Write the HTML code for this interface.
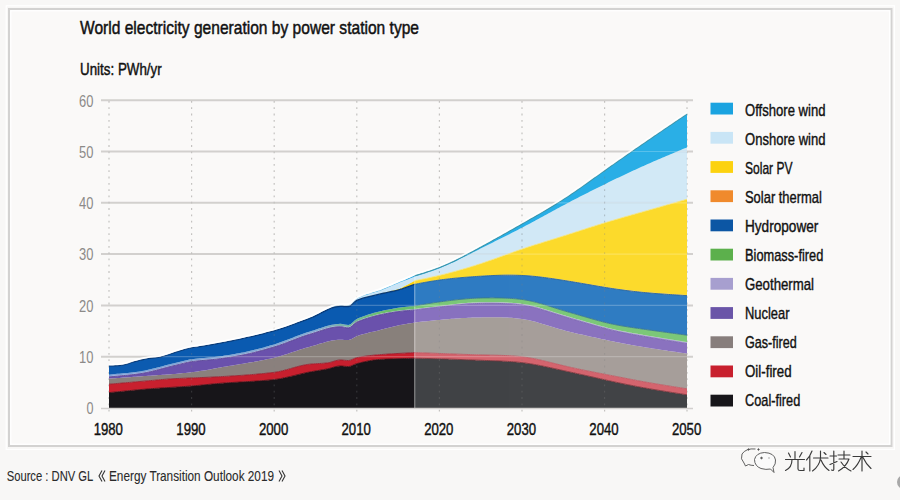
<!DOCTYPE html>
<html><head><meta charset="utf-8">
<style>
html,body{margin:0;padding:0;background:#f8f7f6;width:900px;height:500px;overflow:hidden}
svg{display:block}
text{font-family:"Liberation Sans",sans-serif}
</style></head>
<body>
<svg width="900" height="500" viewBox="0 0 900 500">
<rect x="0" y="0" width="900" height="500" fill="#f8f7f6"/>
<rect x="6.2" y="5.8" width="888.3" height="443.6" fill="none" stroke="#ffffff" stroke-width="1.2"/>
<rect x="9" y="9" width="882.5" height="437" fill="#faf9f8" stroke="#d3d2d1" stroke-width="2"/>
<rect x="10.8" y="10.8" width="878.9" height="433.4" fill="none" stroke="#ffffff" stroke-width="1.2"/>
<text x="80" y="34.3" font-size="19" fill="#111" stroke="#111" stroke-width="0.5" textLength="339" lengthAdjust="spacingAndGlyphs">World electricity generation by power station type</text>
<text x="80" y="74.6" font-size="16.5" fill="#111" stroke="#111" stroke-width="0.45" textLength="81.7" lengthAdjust="spacingAndGlyphs">Units: PWh/yr</text>
<!-- gridlines -->
<g stroke="#d2d0ce" stroke-width="2">
<line x1="101" y1="100.2" x2="693" y2="100.2"/>
<line x1="101" y1="151.5" x2="693" y2="151.5"/>
<line x1="101" y1="202.8" x2="693" y2="202.8"/>
<line x1="101" y1="254.1" x2="693" y2="254.1"/>
<line x1="101" y1="305.4" x2="693" y2="305.4"/>
<line x1="101" y1="356.7" x2="693" y2="356.7"/>
</g>
<g stroke="#c4c2c0" stroke-width="1.2" stroke-dasharray="1.8 4.5">
<line x1="109" y1="101" x2="109" y2="412"/>
<line x1="191.6" y1="101" x2="191.6" y2="412"/>
<line x1="274.2" y1="101" x2="274.2" y2="412"/>
<line x1="356.8" y1="101" x2="356.8" y2="412"/>
<line x1="439.4" y1="101" x2="439.4" y2="412"/>
<line x1="522" y1="101" x2="522" y2="412"/>
<line x1="604.6" y1="101" x2="604.6" y2="412"/>
<line x1="687" y1="101" x2="687" y2="412"/>
</g>
<defs>
<linearGradient id="bioG" x1="109" y1="0" x2="687" y2="0" gradientUnits="userSpaceOnUse">
<stop offset="0" stop-color="#7ea2d8"/><stop offset="0.36" stop-color="#86acd4"/><stop offset="0.47" stop-color="#6cc070"/><stop offset="1" stop-color="#5cb04c"/>
</linearGradient>
<clipPath id="cl"><path d="M109.00,365.93 L111.06,365.88 L113.13,365.82 L115.19,365.76 L117.26,365.67 L119.32,365.48 L121.39,365.18 L123.45,364.80 L125.51,364.37 L127.58,363.83 L129.64,363.14 L131.71,362.43 L133.77,361.80 L135.84,361.26 L137.90,360.72 L139.96,360.21 L142.03,359.71 L144.09,359.26 L146.16,358.84 L148.22,358.48 L150.29,358.19 L152.35,357.97 L154.41,357.81 L156.48,357.64 L158.54,357.41 L160.61,357.00 L162.67,356.42 L164.74,355.76 L166.80,355.09 L168.86,354.41 L170.93,353.68 L172.99,352.94 L175.06,352.26 L177.12,351.61 L179.19,350.96 L181.25,350.32 L183.31,349.70 L185.38,349.11 L187.44,348.57 L189.51,348.09 L191.57,347.67 L193.64,347.34 L195.70,347.06 L197.76,346.79 L199.83,346.48 L201.89,346.14 L203.96,345.80 L206.02,345.45 L208.09,345.09 L210.15,344.73 L212.21,344.37 L214.28,344.00 L216.34,343.62 L218.41,343.24 L220.47,342.85 L222.54,342.46 L224.60,342.06 L226.66,341.66 L228.73,341.25 L230.79,340.84 L232.86,340.42 L234.92,339.99 L236.99,339.55 L239.05,339.12 L241.11,338.67 L243.18,338.22 L245.24,337.76 L247.31,337.29 L249.37,336.82 L251.44,336.34 L253.50,335.85 L255.56,335.36 L257.63,334.86 L259.69,334.35 L261.76,333.84 L263.82,333.31 L265.89,332.78 L267.95,332.25 L270.01,331.70 L272.08,331.15 L274.14,330.59 L276.21,330.00 L278.27,329.37 L280.34,328.72 L282.40,328.05 L284.46,327.35 L286.53,326.63 L288.59,325.89 L290.66,325.14 L292.72,324.37 L294.79,323.60 L296.85,322.81 L298.91,322.02 L300.98,321.23 L303.04,320.43 L305.11,319.64 L307.17,318.85 L309.24,318.06 L311.30,317.25 L313.36,316.33 L315.43,315.34 L317.49,314.27 L319.56,313.18 L321.62,312.07 L323.69,310.98 L325.75,309.92 L327.81,308.93 L329.88,308.02 L331.94,307.22 L334.01,306.55 L336.07,306.03 L338.14,305.69 L340.20,305.55 L342.26,305.48 L344.33,305.45 L346.39,305.42 L348.46,305.35 L350.52,304.42 L352.59,302.44 L354.65,300.23 L356.71,298.63 L358.78,297.60 L360.84,296.67 L362.91,295.82 L364.97,295.04 L367.04,294.32 L369.10,293.64 L371.16,292.99 L373.23,292.35 L375.29,291.71 L377.36,291.07 L379.42,290.40 L381.49,289.72 L383.55,288.83 L385.61,287.96 L387.68,287.11 L389.74,286.26 L391.81,285.40 L393.87,284.52 L395.94,283.62 L398.00,282.69 L400.06,281.76 L402.13,280.99 L404.19,280.15 L406.26,279.27 L408.32,278.36 L410.39,277.44 L412.45,276.53 L414.51,275.65 L416.58,275.01 L418.64,274.39 L420.71,273.77 L422.77,273.13 L424.84,272.46 L426.90,271.76 L428.96,271.08 L431.03,270.38 L433.09,269.65 L435.16,268.91 L437.22,268.14 L439.29,267.35 L441.35,266.53 L443.41,265.68 L445.48,264.80 L447.54,263.89 L449.61,262.96 L451.67,262.00 L453.74,261.02 L455.80,260.02 L457.86,258.99 L459.93,257.94 L461.99,256.88 L464.06,255.81 L466.12,254.72 L468.19,253.62 L470.25,252.52 L472.31,251.40 L474.38,250.29 L476.44,249.17 L478.51,248.04 L480.57,246.92 L482.64,245.79 L484.70,244.66 L486.76,243.52 L488.83,242.39 L490.89,241.25 L492.96,240.11 L495.02,238.96 L497.09,237.81 L499.15,236.66 L501.21,235.51 L503.28,234.35 L505.34,233.19 L507.41,232.03 L509.47,230.86 L511.54,229.70 L513.60,228.53 L515.66,227.36 L517.73,226.19 L519.79,225.02 L521.86,223.84 L523.92,222.67 L525.99,221.49 L528.05,220.32 L530.11,219.14 L532.18,217.96 L534.24,216.78 L536.31,215.59 L538.37,214.40 L540.44,213.20 L542.50,212.00 L544.56,210.79 L546.63,209.57 L548.69,208.34 L550.76,207.10 L552.82,205.85 L554.89,204.59 L556.95,203.31 L559.01,202.01 L561.08,200.70 L563.14,199.38 L565.21,198.03 L567.27,196.68 L569.34,195.30 L571.40,193.91 L573.46,192.51 L575.53,191.09 L577.59,189.66 L579.66,188.22 L581.72,186.76 L583.79,185.30 L585.85,183.84 L587.91,182.37 L589.98,180.89 L592.04,179.41 L594.11,177.94 L596.17,176.46 L598.24,174.98 L600.30,173.51 L602.36,172.04 L604.43,170.57 L606.49,169.11 L608.56,167.65 L610.62,166.19 L612.69,164.74 L614.75,163.29 L616.81,161.84 L618.88,160.39 L620.94,158.95 L623.01,157.51 L625.07,156.07 L627.14,154.63 L629.20,153.20 L631.26,151.77 L633.33,150.34 L635.39,148.91 L637.46,147.48 L639.52,146.06 L641.59,144.64 L643.65,143.22 L645.71,141.80 L647.78,140.39 L649.84,138.97 L651.91,137.56 L653.97,136.15 L656.04,134.75 L658.10,133.34 L660.16,131.94 L662.23,130.54 L664.29,129.14 L666.36,127.74 L668.42,126.35 L670.49,124.95 L672.55,123.55 L674.61,122.16 L676.68,120.77 L678.74,119.37 L680.81,117.98 L682.87,116.58 L684.94,115.19 L687.00,113.79 L687.00,408.00 L684.94,408.00 L682.87,408.00 L680.81,408.00 L678.74,408.00 L676.68,408.00 L674.61,408.00 L672.55,408.00 L670.49,408.00 L668.42,408.00 L666.36,408.00 L664.29,408.00 L662.23,408.00 L660.16,408.00 L658.10,408.00 L656.04,408.00 L653.97,408.00 L651.91,408.00 L649.84,408.00 L647.78,408.00 L645.71,408.00 L643.65,408.00 L641.59,408.00 L639.52,408.00 L637.46,408.00 L635.39,408.00 L633.33,408.00 L631.26,408.00 L629.20,408.00 L627.14,408.00 L625.07,408.00 L623.01,408.00 L620.94,408.00 L618.88,408.00 L616.81,408.00 L614.75,408.00 L612.69,408.00 L610.62,408.00 L608.56,408.00 L606.49,408.00 L604.43,408.00 L602.36,408.00 L600.30,408.00 L598.24,408.00 L596.17,408.00 L594.11,408.00 L592.04,408.00 L589.98,408.00 L587.91,408.00 L585.85,408.00 L583.79,408.00 L581.72,408.00 L579.66,408.00 L577.59,408.00 L575.53,408.00 L573.46,408.00 L571.40,408.00 L569.34,408.00 L567.27,408.00 L565.21,408.00 L563.14,408.00 L561.08,408.00 L559.01,408.00 L556.95,408.00 L554.89,408.00 L552.82,408.00 L550.76,408.00 L548.69,408.00 L546.63,408.00 L544.56,408.00 L542.50,408.00 L540.44,408.00 L538.37,408.00 L536.31,408.00 L534.24,408.00 L532.18,408.00 L530.11,408.00 L528.05,408.00 L525.99,408.00 L523.92,408.00 L521.86,408.00 L519.79,408.00 L517.73,408.00 L515.66,408.00 L513.60,408.00 L511.54,408.00 L509.47,408.00 L507.41,408.00 L505.34,408.00 L503.28,408.00 L501.21,408.00 L499.15,408.00 L497.09,408.00 L495.02,408.00 L492.96,408.00 L490.89,408.00 L488.83,408.00 L486.76,408.00 L484.70,408.00 L482.64,408.00 L480.57,408.00 L478.51,408.00 L476.44,408.00 L474.38,408.00 L472.31,408.00 L470.25,408.00 L468.19,408.00 L466.12,408.00 L464.06,408.00 L461.99,408.00 L459.93,408.00 L457.86,408.00 L455.80,408.00 L453.74,408.00 L451.67,408.00 L449.61,408.00 L447.54,408.00 L445.48,408.00 L443.41,408.00 L441.35,408.00 L439.29,408.00 L437.22,408.00 L435.16,408.00 L433.09,408.00 L431.03,408.00 L428.96,408.00 L426.90,408.00 L424.84,408.00 L422.77,408.00 L420.71,408.00 L418.64,408.00 L416.58,408.00 L414.51,408.00 L412.45,408.00 L410.39,408.00 L408.32,408.00 L406.26,408.00 L404.19,408.00 L402.13,408.00 L400.06,408.00 L398.00,408.00 L395.94,408.00 L393.87,408.00 L391.81,408.00 L389.74,408.00 L387.68,408.00 L385.61,408.00 L383.55,408.00 L381.49,408.00 L379.42,408.00 L377.36,408.00 L375.29,408.00 L373.23,408.00 L371.16,408.00 L369.10,408.00 L367.04,408.00 L364.97,408.00 L362.91,408.00 L360.84,408.00 L358.78,408.00 L356.71,408.00 L354.65,408.00 L352.59,408.00 L350.52,408.00 L348.46,408.00 L346.39,408.00 L344.33,408.00 L342.26,408.00 L340.20,408.00 L338.14,408.00 L336.07,408.00 L334.01,408.00 L331.94,408.00 L329.88,408.00 L327.81,408.00 L325.75,408.00 L323.69,408.00 L321.62,408.00 L319.56,408.00 L317.49,408.00 L315.43,408.00 L313.36,408.00 L311.30,408.00 L309.24,408.00 L307.17,408.00 L305.11,408.00 L303.04,408.00 L300.98,408.00 L298.91,408.00 L296.85,408.00 L294.79,408.00 L292.72,408.00 L290.66,408.00 L288.59,408.00 L286.53,408.00 L284.46,408.00 L282.40,408.00 L280.34,408.00 L278.27,408.00 L276.21,408.00 L274.14,408.00 L272.08,408.00 L270.01,408.00 L267.95,408.00 L265.89,408.00 L263.82,408.00 L261.76,408.00 L259.69,408.00 L257.63,408.00 L255.56,408.00 L253.50,408.00 L251.44,408.00 L249.37,408.00 L247.31,408.00 L245.24,408.00 L243.18,408.00 L241.11,408.00 L239.05,408.00 L236.99,408.00 L234.92,408.00 L232.86,408.00 L230.79,408.00 L228.73,408.00 L226.66,408.00 L224.60,408.00 L222.54,408.00 L220.47,408.00 L218.41,408.00 L216.34,408.00 L214.28,408.00 L212.21,408.00 L210.15,408.00 L208.09,408.00 L206.02,408.00 L203.96,408.00 L201.89,408.00 L199.83,408.00 L197.76,408.00 L195.70,408.00 L193.64,408.00 L191.57,408.00 L189.51,408.00 L187.44,408.00 L185.38,408.00 L183.31,408.00 L181.25,408.00 L179.19,408.00 L177.12,408.00 L175.06,408.00 L172.99,408.00 L170.93,408.00 L168.86,408.00 L166.80,408.00 L164.74,408.00 L162.67,408.00 L160.61,408.00 L158.54,408.00 L156.48,408.00 L154.41,408.00 L152.35,408.00 L150.29,408.00 L148.22,408.00 L146.16,408.00 L144.09,408.00 L142.03,408.00 L139.96,408.00 L137.90,408.00 L135.84,408.00 L133.77,408.00 L131.71,408.00 L129.64,408.00 L127.58,408.00 L125.51,408.00 L123.45,408.00 L121.39,408.00 L119.32,408.00 L117.26,408.00 L115.19,408.00 L113.13,408.00 L111.06,408.00 L109.00,408.00Z"/></clipPath>
<clipPath id="clH"><rect x="100" y="90" width="314.5" height="330"/></clipPath>
<clipPath id="clF"><rect x="414.5" y="90" width="280" height="330"/></clipPath>
</defs>
<g>
<g clip-path="url(#clH)"><path d="M109.00,392.61 L111.06,392.42 L113.13,392.22 L115.19,392.02 L117.26,391.82 L119.32,391.62 L121.39,391.42 L123.45,391.21 L125.51,391.01 L127.58,390.81 L129.64,390.61 L131.71,390.41 L133.77,390.21 L135.84,390.02 L137.90,389.82 L139.96,389.64 L142.03,389.45 L144.09,389.27 L146.16,389.10 L148.22,388.93 L150.29,388.76 L152.35,388.60 L154.41,388.45 L156.48,388.31 L158.54,388.17 L160.61,388.03 L162.67,387.90 L164.74,387.76 L166.80,387.64 L168.86,387.51 L170.93,387.38 L172.99,387.25 L175.06,387.13 L177.12,387.00 L179.19,386.87 L181.25,386.73 L183.31,386.59 L185.38,386.45 L187.44,386.30 L189.51,386.15 L191.57,385.99 L193.64,385.82 L195.70,385.64 L197.76,385.46 L199.83,385.26 L201.89,385.06 L203.96,384.86 L206.02,384.65 L208.09,384.45 L210.15,384.24 L212.21,384.04 L214.28,383.85 L216.34,383.66 L218.41,383.48 L220.47,383.31 L222.54,383.15 L224.60,383.00 L226.66,382.85 L228.73,382.72 L230.79,382.58 L232.86,382.46 L234.92,382.33 L236.99,382.21 L239.05,382.09 L241.11,381.98 L243.18,381.86 L245.24,381.74 L247.31,381.62 L249.37,381.50 L251.44,381.37 L253.50,381.25 L255.56,381.11 L257.63,380.97 L259.69,380.82 L261.76,380.67 L263.82,380.51 L265.89,380.33 L267.95,380.15 L270.01,379.96 L272.08,379.75 L274.14,379.53 L276.21,379.28 L278.27,378.97 L280.34,378.63 L282.40,378.24 L284.46,377.82 L286.53,377.37 L288.59,376.90 L290.66,376.41 L292.72,375.91 L294.79,375.40 L296.85,374.89 L298.91,374.38 L300.98,373.88 L303.04,373.39 L305.11,372.93 L307.17,372.48 L309.24,372.07 L311.30,371.68 L313.36,371.32 L315.43,370.97 L317.49,370.62 L319.56,370.28 L321.62,369.94 L323.69,369.58 L325.75,369.20 L327.81,368.81 L329.88,368.31 L331.94,367.71 L334.01,367.09 L336.07,366.53 L338.14,366.14 L340.20,365.99 L342.26,366.07 L344.33,366.27 L346.39,366.46 L348.46,366.55 L350.52,366.19 L352.59,365.35 L354.65,364.38 L356.71,363.63 L358.78,363.11 L360.84,362.60 L362.91,362.11 L364.97,361.65 L367.04,361.21 L369.10,360.81 L371.16,360.44 L373.23,360.11 L375.29,359.84 L377.36,359.61 L379.42,359.44 L381.49,359.32 L383.55,359.22 L385.61,359.12 L387.68,359.03 L389.74,358.95 L391.81,358.88 L393.87,358.81 L395.94,358.75 L398.00,358.69 L400.06,358.64 L402.13,358.59 L404.19,358.53 L406.26,358.48 L408.32,358.43 L410.39,358.37 L412.45,358.31 L414.51,358.24 L416.58,358.28 L418.64,358.32 L420.71,358.36 L422.77,358.41 L424.84,358.45 L426.90,358.50 L428.96,358.55 L431.03,358.60 L433.09,358.65 L435.16,358.70 L437.22,358.75 L439.29,358.81 L441.35,358.87 L443.41,358.93 L445.48,359.00 L447.54,359.06 L449.61,359.13 L451.67,359.20 L453.74,359.28 L455.80,359.35 L457.86,359.43 L459.93,359.51 L461.99,359.59 L464.06,359.67 L466.12,359.75 L468.19,359.83 L470.25,359.91 L472.31,359.99 L474.38,360.07 L476.44,360.14 L478.51,360.22 L480.57,360.29 L482.64,360.37 L484.70,360.44 L486.76,360.51 L488.83,360.59 L490.89,360.66 L492.96,360.74 L495.02,360.81 L497.09,360.89 L499.15,360.98 L501.21,361.07 L503.28,361.17 L505.34,361.28 L507.41,361.39 L509.47,361.52 L511.54,361.67 L513.60,361.82 L515.66,361.99 L517.73,362.18 L519.79,362.39 L521.86,362.62 L523.92,362.87 L525.99,363.14 L528.05,363.43 L530.11,363.75 L532.18,364.08 L534.24,364.44 L536.31,364.81 L538.37,365.20 L540.44,365.60 L542.50,366.02 L544.56,366.45 L546.63,366.89 L548.69,367.33 L550.76,367.78 L552.82,368.24 L554.89,368.70 L556.95,369.15 L559.01,369.61 L561.08,370.07 L563.14,370.52 L565.21,370.98 L567.27,371.43 L569.34,371.88 L571.40,372.33 L573.46,372.78 L575.53,373.23 L577.59,373.69 L579.66,374.14 L581.72,374.59 L583.79,375.05 L585.85,375.51 L587.91,375.97 L589.98,376.44 L592.04,376.90 L594.11,377.37 L596.17,377.83 L598.24,378.30 L600.30,378.77 L602.36,379.23 L604.43,379.70 L606.49,380.16 L608.56,380.61 L610.62,381.07 L612.69,381.52 L614.75,381.97 L616.81,382.41 L618.88,382.84 L620.94,383.28 L623.01,383.71 L625.07,384.13 L627.14,384.55 L629.20,384.96 L631.26,385.37 L633.33,385.78 L635.39,386.18 L637.46,386.57 L639.52,386.96 L641.59,387.34 L643.65,387.72 L645.71,388.09 L647.78,388.46 L649.84,388.82 L651.91,389.18 L653.97,389.53 L656.04,389.88 L658.10,390.23 L660.16,390.57 L662.23,390.90 L664.29,391.24 L666.36,391.57 L668.42,391.90 L670.49,392.23 L672.55,392.55 L674.61,392.88 L676.68,393.20 L678.74,393.52 L680.81,393.85 L682.87,394.17 L684.94,394.49 L687.00,394.82 L687.00,408.00 L684.94,408.00 L682.87,408.00 L680.81,408.00 L678.74,408.00 L676.68,408.00 L674.61,408.00 L672.55,408.00 L670.49,408.00 L668.42,408.00 L666.36,408.00 L664.29,408.00 L662.23,408.00 L660.16,408.00 L658.10,408.00 L656.04,408.00 L653.97,408.00 L651.91,408.00 L649.84,408.00 L647.78,408.00 L645.71,408.00 L643.65,408.00 L641.59,408.00 L639.52,408.00 L637.46,408.00 L635.39,408.00 L633.33,408.00 L631.26,408.00 L629.20,408.00 L627.14,408.00 L625.07,408.00 L623.01,408.00 L620.94,408.00 L618.88,408.00 L616.81,408.00 L614.75,408.00 L612.69,408.00 L610.62,408.00 L608.56,408.00 L606.49,408.00 L604.43,408.00 L602.36,408.00 L600.30,408.00 L598.24,408.00 L596.17,408.00 L594.11,408.00 L592.04,408.00 L589.98,408.00 L587.91,408.00 L585.85,408.00 L583.79,408.00 L581.72,408.00 L579.66,408.00 L577.59,408.00 L575.53,408.00 L573.46,408.00 L571.40,408.00 L569.34,408.00 L567.27,408.00 L565.21,408.00 L563.14,408.00 L561.08,408.00 L559.01,408.00 L556.95,408.00 L554.89,408.00 L552.82,408.00 L550.76,408.00 L548.69,408.00 L546.63,408.00 L544.56,408.00 L542.50,408.00 L540.44,408.00 L538.37,408.00 L536.31,408.00 L534.24,408.00 L532.18,408.00 L530.11,408.00 L528.05,408.00 L525.99,408.00 L523.92,408.00 L521.86,408.00 L519.79,408.00 L517.73,408.00 L515.66,408.00 L513.60,408.00 L511.54,408.00 L509.47,408.00 L507.41,408.00 L505.34,408.00 L503.28,408.00 L501.21,408.00 L499.15,408.00 L497.09,408.00 L495.02,408.00 L492.96,408.00 L490.89,408.00 L488.83,408.00 L486.76,408.00 L484.70,408.00 L482.64,408.00 L480.57,408.00 L478.51,408.00 L476.44,408.00 L474.38,408.00 L472.31,408.00 L470.25,408.00 L468.19,408.00 L466.12,408.00 L464.06,408.00 L461.99,408.00 L459.93,408.00 L457.86,408.00 L455.80,408.00 L453.74,408.00 L451.67,408.00 L449.61,408.00 L447.54,408.00 L445.48,408.00 L443.41,408.00 L441.35,408.00 L439.29,408.00 L437.22,408.00 L435.16,408.00 L433.09,408.00 L431.03,408.00 L428.96,408.00 L426.90,408.00 L424.84,408.00 L422.77,408.00 L420.71,408.00 L418.64,408.00 L416.58,408.00 L414.51,408.00 L412.45,408.00 L410.39,408.00 L408.32,408.00 L406.26,408.00 L404.19,408.00 L402.13,408.00 L400.06,408.00 L398.00,408.00 L395.94,408.00 L393.87,408.00 L391.81,408.00 L389.74,408.00 L387.68,408.00 L385.61,408.00 L383.55,408.00 L381.49,408.00 L379.42,408.00 L377.36,408.00 L375.29,408.00 L373.23,408.00 L371.16,408.00 L369.10,408.00 L367.04,408.00 L364.97,408.00 L362.91,408.00 L360.84,408.00 L358.78,408.00 L356.71,408.00 L354.65,408.00 L352.59,408.00 L350.52,408.00 L348.46,408.00 L346.39,408.00 L344.33,408.00 L342.26,408.00 L340.20,408.00 L338.14,408.00 L336.07,408.00 L334.01,408.00 L331.94,408.00 L329.88,408.00 L327.81,408.00 L325.75,408.00 L323.69,408.00 L321.62,408.00 L319.56,408.00 L317.49,408.00 L315.43,408.00 L313.36,408.00 L311.30,408.00 L309.24,408.00 L307.17,408.00 L305.11,408.00 L303.04,408.00 L300.98,408.00 L298.91,408.00 L296.85,408.00 L294.79,408.00 L292.72,408.00 L290.66,408.00 L288.59,408.00 L286.53,408.00 L284.46,408.00 L282.40,408.00 L280.34,408.00 L278.27,408.00 L276.21,408.00 L274.14,408.00 L272.08,408.00 L270.01,408.00 L267.95,408.00 L265.89,408.00 L263.82,408.00 L261.76,408.00 L259.69,408.00 L257.63,408.00 L255.56,408.00 L253.50,408.00 L251.44,408.00 L249.37,408.00 L247.31,408.00 L245.24,408.00 L243.18,408.00 L241.11,408.00 L239.05,408.00 L236.99,408.00 L234.92,408.00 L232.86,408.00 L230.79,408.00 L228.73,408.00 L226.66,408.00 L224.60,408.00 L222.54,408.00 L220.47,408.00 L218.41,408.00 L216.34,408.00 L214.28,408.00 L212.21,408.00 L210.15,408.00 L208.09,408.00 L206.02,408.00 L203.96,408.00 L201.89,408.00 L199.83,408.00 L197.76,408.00 L195.70,408.00 L193.64,408.00 L191.57,408.00 L189.51,408.00 L187.44,408.00 L185.38,408.00 L183.31,408.00 L181.25,408.00 L179.19,408.00 L177.12,408.00 L175.06,408.00 L172.99,408.00 L170.93,408.00 L168.86,408.00 L166.80,408.00 L164.74,408.00 L162.67,408.00 L160.61,408.00 L158.54,408.00 L156.48,408.00 L154.41,408.00 L152.35,408.00 L150.29,408.00 L148.22,408.00 L146.16,408.00 L144.09,408.00 L142.03,408.00 L139.96,408.00 L137.90,408.00 L135.84,408.00 L133.77,408.00 L131.71,408.00 L129.64,408.00 L127.58,408.00 L125.51,408.00 L123.45,408.00 L121.39,408.00 L119.32,408.00 L117.26,408.00 L115.19,408.00 L113.13,408.00 L111.06,408.00 L109.00,408.00Z" fill="#17161a"/>
<path d="M109.00,384.20 L111.06,384.02 L113.13,383.84 L115.19,383.66 L117.26,383.48 L119.32,383.30 L121.39,383.12 L123.45,382.94 L125.51,382.76 L127.58,382.58 L129.64,382.40 L131.71,382.22 L133.77,382.04 L135.84,381.86 L137.90,381.68 L139.96,381.50 L142.03,381.32 L144.09,381.14 L146.16,380.96 L148.22,380.78 L150.29,380.61 L152.35,380.42 L154.41,380.23 L156.48,380.04 L158.54,379.85 L160.61,379.66 L162.67,379.48 L164.74,379.30 L166.80,379.14 L168.86,378.99 L170.93,378.86 L172.99,378.74 L175.06,378.63 L177.12,378.52 L179.19,378.42 L181.25,378.33 L183.31,378.24 L185.38,378.15 L187.44,378.07 L189.51,377.99 L191.57,377.91 L193.64,377.83 L195.70,377.75 L197.76,377.68 L199.83,377.60 L201.89,377.52 L203.96,377.44 L206.02,377.36 L208.09,377.27 L210.15,377.18 L212.21,377.09 L214.28,376.99 L216.34,376.89 L218.41,376.78 L220.47,376.66 L222.54,376.54 L224.60,376.42 L226.66,376.30 L228.73,376.18 L230.79,376.06 L232.86,375.93 L234.92,375.80 L236.99,375.67 L239.05,375.53 L241.11,375.39 L243.18,375.25 L245.24,375.10 L247.31,374.94 L249.37,374.79 L251.44,374.62 L253.50,374.45 L255.56,374.28 L257.63,374.09 L259.69,373.90 L261.76,373.70 L263.82,373.50 L265.89,373.29 L267.95,373.06 L270.01,372.83 L272.08,372.60 L274.14,372.35 L276.21,372.05 L278.27,371.69 L280.34,371.26 L282.40,370.79 L284.46,370.27 L286.53,369.71 L288.59,369.14 L290.66,368.55 L292.72,367.95 L294.79,367.37 L296.85,366.79 L298.91,366.25 L300.98,365.74 L303.04,365.27 L305.11,364.86 L307.17,364.51 L309.24,364.24 L311.30,364.03 L313.36,363.87 L315.43,363.73 L317.49,363.61 L319.56,363.50 L321.62,363.38 L323.69,363.24 L325.75,363.07 L327.81,362.86 L329.88,362.48 L331.94,361.90 L334.01,361.24 L336.07,360.62 L338.14,360.16 L340.20,359.98 L342.26,360.07 L344.33,360.27 L346.39,360.46 L348.46,360.55 L350.52,360.17 L352.59,359.30 L354.65,358.32 L356.71,357.62 L358.78,357.22 L360.84,356.86 L362.91,356.52 L364.97,356.22 L367.04,355.94 L369.10,355.69 L371.16,355.46 L373.23,355.24 L375.29,355.04 L377.36,354.86 L379.42,354.68 L381.49,354.51 L383.55,354.36 L385.61,354.21 L387.68,354.07 L389.74,353.94 L391.81,353.82 L393.87,353.70 L395.94,353.58 L398.00,353.47 L400.06,353.37 L402.13,353.26 L404.19,353.16 L406.26,353.05 L408.32,352.94 L410.39,352.83 L412.45,352.72 L414.51,352.60 L416.58,352.66 L418.64,352.73 L420.71,352.80 L422.77,352.87 L424.84,352.94 L426.90,353.01 L428.96,353.08 L431.03,353.15 L433.09,353.22 L435.16,353.30 L437.22,353.37 L439.29,353.44 L441.35,353.52 L443.41,353.60 L445.48,353.67 L447.54,353.75 L449.61,353.83 L451.67,353.91 L453.74,353.99 L455.80,354.07 L457.86,354.15 L459.93,354.23 L461.99,354.30 L464.06,354.38 L466.12,354.45 L468.19,354.53 L470.25,354.59 L472.31,354.66 L474.38,354.72 L476.44,354.78 L478.51,354.84 L480.57,354.89 L482.64,354.95 L484.70,354.99 L486.76,355.04 L488.83,355.09 L490.89,355.13 L492.96,355.18 L495.02,355.23 L497.09,355.28 L499.15,355.33 L501.21,355.39 L503.28,355.46 L505.34,355.54 L507.41,355.63 L509.47,355.73 L511.54,355.85 L513.60,355.99 L515.66,356.15 L517.73,356.33 L519.79,356.53 L521.86,356.76 L523.92,357.01 L525.99,357.30 L528.05,357.61 L530.11,357.95 L532.18,358.32 L534.24,358.71 L536.31,359.13 L538.37,359.57 L540.44,360.04 L542.50,360.51 L544.56,361.01 L546.63,361.51 L548.69,362.02 L550.76,362.53 L552.82,363.05 L554.89,363.57 L556.95,364.08 L559.01,364.59 L561.08,365.09 L563.14,365.58 L565.21,366.07 L567.27,366.55 L569.34,367.03 L571.40,367.49 L573.46,367.95 L575.53,368.40 L577.59,368.85 L579.66,369.28 L581.72,369.72 L583.79,370.14 L585.85,370.56 L587.91,370.98 L589.98,371.39 L592.04,371.80 L594.11,372.20 L596.17,372.60 L598.24,373.00 L600.30,373.40 L602.36,373.79 L604.43,374.19 L606.49,374.59 L608.56,374.99 L610.62,375.39 L612.69,375.79 L614.75,376.19 L616.81,376.59 L618.88,377.00 L620.94,377.40 L623.01,377.80 L625.07,378.21 L627.14,378.61 L629.20,379.01 L631.26,379.41 L633.33,379.80 L635.39,380.20 L637.46,380.58 L639.52,380.97 L641.59,381.35 L643.65,381.72 L645.71,382.09 L647.78,382.46 L649.84,382.82 L651.91,383.17 L653.97,383.52 L656.04,383.87 L658.10,384.21 L660.16,384.55 L662.23,384.89 L664.29,385.22 L666.36,385.56 L668.42,385.88 L670.49,386.21 L672.55,386.54 L674.61,386.87 L676.68,387.19 L678.74,387.52 L680.81,387.84 L682.87,388.17 L684.94,388.49 L687.00,388.81 L687.00,394.82 L684.94,394.49 L682.87,394.17 L680.81,393.85 L678.74,393.52 L676.68,393.20 L674.61,392.88 L672.55,392.55 L670.49,392.23 L668.42,391.90 L666.36,391.57 L664.29,391.24 L662.23,390.90 L660.16,390.57 L658.10,390.23 L656.04,389.88 L653.97,389.53 L651.91,389.18 L649.84,388.82 L647.78,388.46 L645.71,388.09 L643.65,387.72 L641.59,387.34 L639.52,386.96 L637.46,386.57 L635.39,386.18 L633.33,385.78 L631.26,385.37 L629.20,384.96 L627.14,384.55 L625.07,384.13 L623.01,383.71 L620.94,383.28 L618.88,382.84 L616.81,382.41 L614.75,381.97 L612.69,381.52 L610.62,381.07 L608.56,380.61 L606.49,380.16 L604.43,379.70 L602.36,379.23 L600.30,378.77 L598.24,378.30 L596.17,377.83 L594.11,377.37 L592.04,376.90 L589.98,376.44 L587.91,375.97 L585.85,375.51 L583.79,375.05 L581.72,374.59 L579.66,374.14 L577.59,373.69 L575.53,373.23 L573.46,372.78 L571.40,372.33 L569.34,371.88 L567.27,371.43 L565.21,370.98 L563.14,370.52 L561.08,370.07 L559.01,369.61 L556.95,369.15 L554.89,368.70 L552.82,368.24 L550.76,367.78 L548.69,367.33 L546.63,366.89 L544.56,366.45 L542.50,366.02 L540.44,365.60 L538.37,365.20 L536.31,364.81 L534.24,364.44 L532.18,364.08 L530.11,363.75 L528.05,363.43 L525.99,363.14 L523.92,362.87 L521.86,362.62 L519.79,362.39 L517.73,362.18 L515.66,361.99 L513.60,361.82 L511.54,361.67 L509.47,361.52 L507.41,361.39 L505.34,361.28 L503.28,361.17 L501.21,361.07 L499.15,360.98 L497.09,360.89 L495.02,360.81 L492.96,360.74 L490.89,360.66 L488.83,360.59 L486.76,360.51 L484.70,360.44 L482.64,360.37 L480.57,360.29 L478.51,360.22 L476.44,360.14 L474.38,360.07 L472.31,359.99 L470.25,359.91 L468.19,359.83 L466.12,359.75 L464.06,359.67 L461.99,359.59 L459.93,359.51 L457.86,359.43 L455.80,359.35 L453.74,359.28 L451.67,359.20 L449.61,359.13 L447.54,359.06 L445.48,359.00 L443.41,358.93 L441.35,358.87 L439.29,358.81 L437.22,358.75 L435.16,358.70 L433.09,358.65 L431.03,358.60 L428.96,358.55 L426.90,358.50 L424.84,358.45 L422.77,358.41 L420.71,358.36 L418.64,358.32 L416.58,358.28 L414.51,358.24 L412.45,358.31 L410.39,358.37 L408.32,358.43 L406.26,358.48 L404.19,358.53 L402.13,358.59 L400.06,358.64 L398.00,358.69 L395.94,358.75 L393.87,358.81 L391.81,358.88 L389.74,358.95 L387.68,359.03 L385.61,359.12 L383.55,359.22 L381.49,359.32 L379.42,359.44 L377.36,359.61 L375.29,359.84 L373.23,360.11 L371.16,360.44 L369.10,360.81 L367.04,361.21 L364.97,361.65 L362.91,362.11 L360.84,362.60 L358.78,363.11 L356.71,363.63 L354.65,364.38 L352.59,365.35 L350.52,366.19 L348.46,366.55 L346.39,366.46 L344.33,366.27 L342.26,366.07 L340.20,365.99 L338.14,366.14 L336.07,366.53 L334.01,367.09 L331.94,367.71 L329.88,368.31 L327.81,368.81 L325.75,369.20 L323.69,369.58 L321.62,369.94 L319.56,370.28 L317.49,370.62 L315.43,370.97 L313.36,371.32 L311.30,371.68 L309.24,372.07 L307.17,372.48 L305.11,372.93 L303.04,373.39 L300.98,373.88 L298.91,374.38 L296.85,374.89 L294.79,375.40 L292.72,375.91 L290.66,376.41 L288.59,376.90 L286.53,377.37 L284.46,377.82 L282.40,378.24 L280.34,378.63 L278.27,378.97 L276.21,379.28 L274.14,379.53 L272.08,379.75 L270.01,379.96 L267.95,380.15 L265.89,380.33 L263.82,380.51 L261.76,380.67 L259.69,380.82 L257.63,380.97 L255.56,381.11 L253.50,381.25 L251.44,381.37 L249.37,381.50 L247.31,381.62 L245.24,381.74 L243.18,381.86 L241.11,381.98 L239.05,382.09 L236.99,382.21 L234.92,382.33 L232.86,382.46 L230.79,382.58 L228.73,382.72 L226.66,382.85 L224.60,383.00 L222.54,383.15 L220.47,383.31 L218.41,383.48 L216.34,383.66 L214.28,383.85 L212.21,384.04 L210.15,384.24 L208.09,384.45 L206.02,384.65 L203.96,384.86 L201.89,385.06 L199.83,385.26 L197.76,385.46 L195.70,385.64 L193.64,385.82 L191.57,385.99 L189.51,386.15 L187.44,386.30 L185.38,386.45 L183.31,386.59 L181.25,386.73 L179.19,386.87 L177.12,387.00 L175.06,387.13 L172.99,387.25 L170.93,387.38 L168.86,387.51 L166.80,387.64 L164.74,387.76 L162.67,387.90 L160.61,388.03 L158.54,388.17 L156.48,388.31 L154.41,388.45 L152.35,388.60 L150.29,388.76 L148.22,388.93 L146.16,389.10 L144.09,389.27 L142.03,389.45 L139.96,389.64 L137.90,389.82 L135.84,390.02 L133.77,390.21 L131.71,390.41 L129.64,390.61 L127.58,390.81 L125.51,391.01 L123.45,391.21 L121.39,391.42 L119.32,391.62 L117.26,391.82 L115.19,392.02 L113.13,392.22 L111.06,392.42 L109.00,392.61Z" fill="#c8202e"/>
<path d="M109.00,378.61 L111.06,378.46 L113.13,378.31 L115.19,378.17 L117.26,378.02 L119.32,377.88 L121.39,377.73 L123.45,377.58 L125.51,377.44 L127.58,377.29 L129.64,377.15 L131.71,377.00 L133.77,376.86 L135.84,376.71 L137.90,376.56 L139.96,376.42 L142.03,376.27 L144.09,376.12 L146.16,375.98 L148.22,375.83 L150.29,375.68 L152.35,375.54 L154.41,375.39 L156.48,375.25 L158.54,375.11 L160.61,374.97 L162.67,374.83 L164.74,374.69 L166.80,374.54 L168.86,374.39 L170.93,374.23 L172.99,374.06 L175.06,373.89 L177.12,373.70 L179.19,373.51 L181.25,373.31 L183.31,373.10 L185.38,372.88 L187.44,372.66 L189.51,372.42 L191.57,372.18 L193.64,371.93 L195.70,371.67 L197.76,371.40 L199.83,371.12 L201.89,370.82 L203.96,370.49 L206.02,370.14 L208.09,369.77 L210.15,369.39 L212.21,369.01 L214.28,368.62 L216.34,368.23 L218.41,367.85 L220.47,367.48 L222.54,367.12 L224.60,366.76 L226.66,366.41 L228.73,366.06 L230.79,365.72 L232.86,365.38 L234.92,365.04 L236.99,364.70 L239.05,364.36 L241.11,364.01 L243.18,363.67 L245.24,363.33 L247.31,362.98 L249.37,362.62 L251.44,362.26 L253.50,361.90 L255.56,361.53 L257.63,361.15 L259.69,360.76 L261.76,360.36 L263.82,359.95 L265.89,359.53 L267.95,359.10 L270.01,358.66 L272.08,358.20 L274.14,357.73 L276.21,357.22 L278.27,356.68 L280.34,356.10 L282.40,355.48 L284.46,354.84 L286.53,354.18 L288.59,353.50 L290.66,352.81 L292.72,352.11 L294.79,351.42 L296.85,350.72 L298.91,350.04 L300.98,349.36 L303.04,348.71 L305.11,348.08 L307.17,347.48 L309.24,346.91 L311.30,346.35 L313.36,345.76 L315.43,345.14 L317.49,344.51 L319.56,343.87 L321.62,343.25 L323.69,342.64 L325.75,342.06 L327.81,341.52 L329.88,341.03 L331.94,340.61 L334.01,340.26 L336.07,339.99 L338.14,339.83 L340.20,339.77 L342.26,339.81 L344.33,339.90 L346.39,339.99 L348.46,340.03 L350.52,339.56 L352.59,338.47 L354.65,337.19 L356.71,336.18 L358.78,335.48 L360.84,334.83 L362.91,334.23 L364.97,333.66 L367.04,333.13 L369.10,332.61 L371.16,332.12 L373.23,331.63 L375.29,331.14 L377.36,330.64 L379.42,330.13 L381.49,329.60 L383.55,329.06 L385.61,328.52 L387.68,327.98 L389.74,327.45 L391.81,326.93 L393.87,326.43 L395.94,325.95 L398.00,325.49 L400.06,325.07 L402.13,324.67 L404.19,324.30 L406.26,323.95 L408.32,323.61 L410.39,323.27 L412.45,322.93 L414.51,322.59 L416.58,322.34 L418.64,322.10 L420.71,321.85 L422.77,321.61 L424.84,321.38 L426.90,321.16 L428.96,320.94 L431.03,320.72 L433.09,320.50 L435.16,320.29 L437.22,320.09 L439.29,319.89 L441.35,319.70 L443.41,319.51 L445.48,319.33 L447.54,319.16 L449.61,318.99 L451.67,318.83 L453.74,318.67 L455.80,318.52 L457.86,318.38 L459.93,318.24 L461.99,318.12 L464.06,318.00 L466.12,317.89 L468.19,317.79 L470.25,317.70 L472.31,317.61 L474.38,317.54 L476.44,317.48 L478.51,317.42 L480.57,317.38 L482.64,317.34 L484.70,317.31 L486.76,317.29 L488.83,317.28 L490.89,317.27 L492.96,317.27 L495.02,317.28 L497.09,317.30 L499.15,317.33 L501.21,317.37 L503.28,317.43 L505.34,317.50 L507.41,317.59 L509.47,317.70 L511.54,317.84 L513.60,318.01 L515.66,318.20 L517.73,318.43 L519.79,318.69 L521.86,318.99 L523.92,319.33 L525.99,319.70 L528.05,320.12 L530.11,320.56 L532.18,321.05 L534.24,321.57 L536.31,322.12 L538.37,322.69 L540.44,323.29 L542.50,323.91 L544.56,324.53 L546.63,325.17 L548.69,325.81 L550.76,326.45 L552.82,327.09 L554.89,327.72 L556.95,328.33 L559.01,328.93 L561.08,329.52 L563.14,330.09 L565.21,330.64 L567.27,331.17 L569.34,331.70 L571.40,332.20 L573.46,332.70 L575.53,333.18 L577.59,333.66 L579.66,334.13 L581.72,334.59 L583.79,335.06 L585.85,335.52 L587.91,335.98 L589.98,336.44 L592.04,336.90 L594.11,337.35 L596.17,337.81 L598.24,338.27 L600.30,338.72 L602.36,339.17 L604.43,339.62 L606.49,340.06 L608.56,340.50 L610.62,340.93 L612.69,341.35 L614.75,341.77 L616.81,342.18 L618.88,342.59 L620.94,342.99 L623.01,343.38 L625.07,343.77 L627.14,344.15 L629.20,344.53 L631.26,344.91 L633.33,345.27 L635.39,345.64 L637.46,346.00 L639.52,346.35 L641.59,346.70 L643.65,347.05 L645.71,347.39 L647.78,347.72 L649.84,348.06 L651.91,348.39 L653.97,348.71 L656.04,349.03 L658.10,349.35 L660.16,349.67 L662.23,349.98 L664.29,350.29 L666.36,350.60 L668.42,350.90 L670.49,351.21 L672.55,351.51 L674.61,351.82 L676.68,352.12 L678.74,352.42 L680.81,352.72 L682.87,353.02 L684.94,353.32 L687.00,353.62 L687.00,388.81 L684.94,388.49 L682.87,388.17 L680.81,387.84 L678.74,387.52 L676.68,387.19 L674.61,386.87 L672.55,386.54 L670.49,386.21 L668.42,385.88 L666.36,385.56 L664.29,385.22 L662.23,384.89 L660.16,384.55 L658.10,384.21 L656.04,383.87 L653.97,383.52 L651.91,383.17 L649.84,382.82 L647.78,382.46 L645.71,382.09 L643.65,381.72 L641.59,381.35 L639.52,380.97 L637.46,380.58 L635.39,380.20 L633.33,379.80 L631.26,379.41 L629.20,379.01 L627.14,378.61 L625.07,378.21 L623.01,377.80 L620.94,377.40 L618.88,377.00 L616.81,376.59 L614.75,376.19 L612.69,375.79 L610.62,375.39 L608.56,374.99 L606.49,374.59 L604.43,374.19 L602.36,373.79 L600.30,373.40 L598.24,373.00 L596.17,372.60 L594.11,372.20 L592.04,371.80 L589.98,371.39 L587.91,370.98 L585.85,370.56 L583.79,370.14 L581.72,369.72 L579.66,369.28 L577.59,368.85 L575.53,368.40 L573.46,367.95 L571.40,367.49 L569.34,367.03 L567.27,366.55 L565.21,366.07 L563.14,365.58 L561.08,365.09 L559.01,364.59 L556.95,364.08 L554.89,363.57 L552.82,363.05 L550.76,362.53 L548.69,362.02 L546.63,361.51 L544.56,361.01 L542.50,360.51 L540.44,360.04 L538.37,359.57 L536.31,359.13 L534.24,358.71 L532.18,358.32 L530.11,357.95 L528.05,357.61 L525.99,357.30 L523.92,357.01 L521.86,356.76 L519.79,356.53 L517.73,356.33 L515.66,356.15 L513.60,355.99 L511.54,355.85 L509.47,355.73 L507.41,355.63 L505.34,355.54 L503.28,355.46 L501.21,355.39 L499.15,355.33 L497.09,355.28 L495.02,355.23 L492.96,355.18 L490.89,355.13 L488.83,355.09 L486.76,355.04 L484.70,354.99 L482.64,354.95 L480.57,354.89 L478.51,354.84 L476.44,354.78 L474.38,354.72 L472.31,354.66 L470.25,354.59 L468.19,354.53 L466.12,354.45 L464.06,354.38 L461.99,354.30 L459.93,354.23 L457.86,354.15 L455.80,354.07 L453.74,353.99 L451.67,353.91 L449.61,353.83 L447.54,353.75 L445.48,353.67 L443.41,353.60 L441.35,353.52 L439.29,353.44 L437.22,353.37 L435.16,353.30 L433.09,353.22 L431.03,353.15 L428.96,353.08 L426.90,353.01 L424.84,352.94 L422.77,352.87 L420.71,352.80 L418.64,352.73 L416.58,352.66 L414.51,352.60 L412.45,352.72 L410.39,352.83 L408.32,352.94 L406.26,353.05 L404.19,353.16 L402.13,353.26 L400.06,353.37 L398.00,353.47 L395.94,353.58 L393.87,353.70 L391.81,353.82 L389.74,353.94 L387.68,354.07 L385.61,354.21 L383.55,354.36 L381.49,354.51 L379.42,354.68 L377.36,354.86 L375.29,355.04 L373.23,355.24 L371.16,355.46 L369.10,355.69 L367.04,355.94 L364.97,356.22 L362.91,356.52 L360.84,356.86 L358.78,357.22 L356.71,357.62 L354.65,358.32 L352.59,359.30 L350.52,360.17 L348.46,360.55 L346.39,360.46 L344.33,360.27 L342.26,360.07 L340.20,359.98 L338.14,360.16 L336.07,360.62 L334.01,361.24 L331.94,361.90 L329.88,362.48 L327.81,362.86 L325.75,363.07 L323.69,363.24 L321.62,363.38 L319.56,363.50 L317.49,363.61 L315.43,363.73 L313.36,363.87 L311.30,364.03 L309.24,364.24 L307.17,364.51 L305.11,364.86 L303.04,365.27 L300.98,365.74 L298.91,366.25 L296.85,366.79 L294.79,367.37 L292.72,367.95 L290.66,368.55 L288.59,369.14 L286.53,369.71 L284.46,370.27 L282.40,370.79 L280.34,371.26 L278.27,371.69 L276.21,372.05 L274.14,372.35 L272.08,372.60 L270.01,372.83 L267.95,373.06 L265.89,373.29 L263.82,373.50 L261.76,373.70 L259.69,373.90 L257.63,374.09 L255.56,374.28 L253.50,374.45 L251.44,374.62 L249.37,374.79 L247.31,374.94 L245.24,375.10 L243.18,375.25 L241.11,375.39 L239.05,375.53 L236.99,375.67 L234.92,375.80 L232.86,375.93 L230.79,376.06 L228.73,376.18 L226.66,376.30 L224.60,376.42 L222.54,376.54 L220.47,376.66 L218.41,376.78 L216.34,376.89 L214.28,376.99 L212.21,377.09 L210.15,377.18 L208.09,377.27 L206.02,377.36 L203.96,377.44 L201.89,377.52 L199.83,377.60 L197.76,377.68 L195.70,377.75 L193.64,377.83 L191.57,377.91 L189.51,377.99 L187.44,378.07 L185.38,378.15 L183.31,378.24 L181.25,378.33 L179.19,378.42 L177.12,378.52 L175.06,378.63 L172.99,378.74 L170.93,378.86 L168.86,378.99 L166.80,379.14 L164.74,379.30 L162.67,379.48 L160.61,379.66 L158.54,379.85 L156.48,380.04 L154.41,380.23 L152.35,380.42 L150.29,380.61 L148.22,380.78 L146.16,380.96 L144.09,381.14 L142.03,381.32 L139.96,381.50 L137.90,381.68 L135.84,381.86 L133.77,382.04 L131.71,382.22 L129.64,382.40 L127.58,382.58 L125.51,382.76 L123.45,382.94 L121.39,383.12 L119.32,383.30 L117.26,383.48 L115.19,383.66 L113.13,383.84 L111.06,384.02 L109.00,384.20Z" fill="#8a807d"/>
<path d="M109.00,376.96 L111.06,376.76 L113.13,376.56 L115.19,376.37 L117.26,376.19 L119.32,376.00 L121.39,375.82 L123.45,375.63 L125.51,375.44 L127.58,375.24 L129.64,375.03 L131.71,374.81 L133.77,374.57 L135.84,374.32 L137.90,374.05 L139.96,373.75 L142.03,373.41 L144.09,373.04 L146.16,372.63 L148.22,372.18 L150.29,371.71 L152.35,371.22 L154.41,370.71 L156.48,370.19 L158.54,369.65 L160.61,369.10 L162.67,368.56 L164.74,368.01 L166.80,367.47 L168.86,366.93 L170.93,366.41 L172.99,365.91 L175.06,365.42 L177.12,364.93 L179.19,364.42 L181.25,363.90 L183.31,363.39 L185.38,362.89 L187.44,362.44 L189.51,362.04 L191.57,361.70 L193.64,361.42 L195.70,361.17 L197.76,360.95 L199.83,360.74 L201.89,360.55 L203.96,360.37 L206.02,360.19 L208.09,360.02 L210.15,359.83 L212.21,359.63 L214.28,359.42 L216.34,359.18 L218.41,358.92 L220.47,358.65 L222.54,358.37 L224.60,358.09 L226.66,357.79 L228.73,357.48 L230.79,357.16 L232.86,356.82 L234.92,356.48 L236.99,356.12 L239.05,355.75 L241.11,355.37 L243.18,354.96 L245.24,354.54 L247.31,354.10 L249.37,353.63 L251.44,353.15 L253.50,352.65 L255.56,352.14 L257.63,351.61 L259.69,351.06 L261.76,350.50 L263.82,349.94 L265.89,349.36 L267.95,348.77 L270.01,348.17 L272.08,347.56 L274.14,346.95 L276.21,346.33 L278.27,345.66 L280.34,344.95 L282.40,344.22 L284.46,343.47 L286.53,342.69 L288.59,341.90 L290.66,341.11 L292.72,340.31 L294.79,339.51 L296.85,338.72 L298.91,337.94 L300.98,337.19 L303.04,336.45 L305.11,335.75 L307.17,335.08 L309.24,334.45 L311.30,333.84 L313.36,333.19 L315.43,332.52 L317.49,331.83 L319.56,331.15 L321.62,330.47 L323.69,329.82 L325.75,329.20 L327.81,328.63 L329.88,328.11 L331.94,327.66 L334.01,327.30 L336.07,327.03 L338.14,326.86 L340.20,326.81 L342.26,327.00 L344.33,327.39 L346.39,327.77 L348.46,327.97 L350.52,327.24 L352.59,325.53 L354.65,323.59 L356.71,322.19 L358.78,321.36 L360.84,320.56 L362.91,319.81 L364.97,319.09 L367.04,318.41 L369.10,317.77 L371.16,317.16 L373.23,316.58 L375.29,316.04 L377.36,315.52 L379.42,315.04 L381.49,314.58 L383.55,314.14 L385.61,313.73 L387.68,313.35 L389.74,312.98 L391.81,312.64 L393.87,312.31 L395.94,312.00 L398.00,311.70 L400.06,311.42 L402.13,311.17 L404.19,310.95 L406.26,310.76 L408.32,310.57 L410.39,310.39 L412.45,310.21 L414.51,310.02 L416.58,309.76 L418.64,309.49 L420.71,309.23 L422.77,308.97 L424.84,308.72 L426.90,308.49 L428.96,308.25 L431.03,308.02 L433.09,307.79 L435.16,307.57 L437.22,307.35 L439.29,307.14 L441.35,306.86 L443.41,306.59 L445.48,306.32 L447.54,306.07 L449.61,305.82 L451.67,305.57 L453.74,305.34 L455.80,305.11 L457.86,304.90 L459.93,304.70 L461.99,304.51 L464.06,304.33 L466.12,304.16 L468.19,304.01 L470.25,303.88 L472.31,303.76 L474.38,303.65 L476.44,303.57 L478.51,303.49 L480.57,303.43 L482.64,303.39 L484.70,303.36 L486.76,303.34 L488.83,303.34 L490.89,303.34 L492.96,303.36 L495.02,303.38 L497.09,303.42 L499.15,303.47 L501.21,303.52 L503.28,303.59 L505.34,303.68 L507.41,303.78 L509.47,303.90 L511.54,304.03 L513.60,304.19 L515.66,304.38 L517.73,304.59 L519.79,304.84 L521.86,305.12 L523.92,305.43 L525.99,305.78 L528.05,306.16 L530.11,306.59 L532.18,307.05 L534.24,307.55 L536.31,308.08 L538.37,308.64 L540.44,309.22 L542.50,309.83 L544.56,310.46 L546.63,311.11 L548.69,311.76 L550.76,312.42 L552.82,313.08 L554.89,313.74 L556.95,314.40 L559.01,315.06 L561.08,315.70 L563.14,316.34 L565.21,316.97 L567.27,317.59 L569.34,318.20 L571.40,318.81 L573.46,319.41 L575.53,320.02 L577.59,320.62 L579.66,321.22 L581.72,321.82 L583.79,322.42 L585.85,323.03 L587.91,323.63 L589.98,324.24 L592.04,324.84 L594.11,325.44 L596.17,326.03 L598.24,326.61 L600.30,327.18 L602.36,327.74 L604.43,328.27 L606.49,328.84 L608.56,329.39 L610.62,329.91 L612.69,330.42 L614.75,330.90 L616.81,331.37 L618.88,331.81 L620.94,332.24 L623.01,332.66 L625.07,333.07 L627.14,333.46 L629.20,333.85 L631.26,334.22 L633.33,334.60 L635.39,334.96 L637.46,335.33 L639.52,335.69 L641.59,336.04 L643.65,336.40 L645.71,336.75 L647.78,337.11 L649.84,337.46 L651.91,337.81 L653.97,338.16 L656.04,338.50 L658.10,338.85 L660.16,339.20 L662.23,339.54 L664.29,339.88 L666.36,340.23 L668.42,340.57 L670.49,340.91 L672.55,341.25 L674.61,341.59 L676.68,341.93 L678.74,342.27 L680.81,342.60 L682.87,342.94 L684.94,343.28 L687.00,343.62 L687.00,353.62 L684.94,353.32 L682.87,353.02 L680.81,352.72 L678.74,352.42 L676.68,352.12 L674.61,351.82 L672.55,351.51 L670.49,351.21 L668.42,350.90 L666.36,350.60 L664.29,350.29 L662.23,349.98 L660.16,349.67 L658.10,349.35 L656.04,349.03 L653.97,348.71 L651.91,348.39 L649.84,348.06 L647.78,347.72 L645.71,347.39 L643.65,347.05 L641.59,346.70 L639.52,346.35 L637.46,346.00 L635.39,345.64 L633.33,345.27 L631.26,344.91 L629.20,344.53 L627.14,344.15 L625.07,343.77 L623.01,343.38 L620.94,342.99 L618.88,342.59 L616.81,342.18 L614.75,341.77 L612.69,341.35 L610.62,340.93 L608.56,340.50 L606.49,340.06 L604.43,339.62 L602.36,339.17 L600.30,338.72 L598.24,338.27 L596.17,337.81 L594.11,337.35 L592.04,336.90 L589.98,336.44 L587.91,335.98 L585.85,335.52 L583.79,335.06 L581.72,334.59 L579.66,334.13 L577.59,333.66 L575.53,333.18 L573.46,332.70 L571.40,332.20 L569.34,331.70 L567.27,331.17 L565.21,330.64 L563.14,330.09 L561.08,329.52 L559.01,328.93 L556.95,328.33 L554.89,327.72 L552.82,327.09 L550.76,326.45 L548.69,325.81 L546.63,325.17 L544.56,324.53 L542.50,323.91 L540.44,323.29 L538.37,322.69 L536.31,322.12 L534.24,321.57 L532.18,321.05 L530.11,320.56 L528.05,320.12 L525.99,319.70 L523.92,319.33 L521.86,318.99 L519.79,318.69 L517.73,318.43 L515.66,318.20 L513.60,318.01 L511.54,317.84 L509.47,317.70 L507.41,317.59 L505.34,317.50 L503.28,317.43 L501.21,317.37 L499.15,317.33 L497.09,317.30 L495.02,317.28 L492.96,317.27 L490.89,317.27 L488.83,317.28 L486.76,317.29 L484.70,317.31 L482.64,317.34 L480.57,317.38 L478.51,317.42 L476.44,317.48 L474.38,317.54 L472.31,317.61 L470.25,317.70 L468.19,317.79 L466.12,317.89 L464.06,318.00 L461.99,318.12 L459.93,318.24 L457.86,318.38 L455.80,318.52 L453.74,318.67 L451.67,318.83 L449.61,318.99 L447.54,319.16 L445.48,319.33 L443.41,319.51 L441.35,319.70 L439.29,319.89 L437.22,320.09 L435.16,320.29 L433.09,320.50 L431.03,320.72 L428.96,320.94 L426.90,321.16 L424.84,321.38 L422.77,321.61 L420.71,321.85 L418.64,322.10 L416.58,322.34 L414.51,322.59 L412.45,322.93 L410.39,323.27 L408.32,323.61 L406.26,323.95 L404.19,324.30 L402.13,324.67 L400.06,325.07 L398.00,325.49 L395.94,325.95 L393.87,326.43 L391.81,326.93 L389.74,327.45 L387.68,327.98 L385.61,328.52 L383.55,329.06 L381.49,329.60 L379.42,330.13 L377.36,330.64 L375.29,331.14 L373.23,331.63 L371.16,332.12 L369.10,332.61 L367.04,333.13 L364.97,333.66 L362.91,334.23 L360.84,334.83 L358.78,335.48 L356.71,336.18 L354.65,337.19 L352.59,338.47 L350.52,339.56 L348.46,340.03 L346.39,339.99 L344.33,339.90 L342.26,339.81 L340.20,339.77 L338.14,339.83 L336.07,339.99 L334.01,340.26 L331.94,340.61 L329.88,341.03 L327.81,341.52 L325.75,342.06 L323.69,342.64 L321.62,343.25 L319.56,343.87 L317.49,344.51 L315.43,345.14 L313.36,345.76 L311.30,346.35 L309.24,346.91 L307.17,347.48 L305.11,348.08 L303.04,348.71 L300.98,349.36 L298.91,350.04 L296.85,350.72 L294.79,351.42 L292.72,352.11 L290.66,352.81 L288.59,353.50 L286.53,354.18 L284.46,354.84 L282.40,355.48 L280.34,356.10 L278.27,356.68 L276.21,357.22 L274.14,357.73 L272.08,358.20 L270.01,358.66 L267.95,359.10 L265.89,359.53 L263.82,359.95 L261.76,360.36 L259.69,360.76 L257.63,361.15 L255.56,361.53 L253.50,361.90 L251.44,362.26 L249.37,362.62 L247.31,362.98 L245.24,363.33 L243.18,363.67 L241.11,364.01 L239.05,364.36 L236.99,364.70 L234.92,365.04 L232.86,365.38 L230.79,365.72 L228.73,366.06 L226.66,366.41 L224.60,366.76 L222.54,367.12 L220.47,367.48 L218.41,367.85 L216.34,368.23 L214.28,368.62 L212.21,369.01 L210.15,369.39 L208.09,369.77 L206.02,370.14 L203.96,370.49 L201.89,370.82 L199.83,371.12 L197.76,371.40 L195.70,371.67 L193.64,371.93 L191.57,372.18 L189.51,372.42 L187.44,372.66 L185.38,372.88 L183.31,373.10 L181.25,373.31 L179.19,373.51 L177.12,373.70 L175.06,373.89 L172.99,374.06 L170.93,374.23 L168.86,374.39 L166.80,374.54 L164.74,374.69 L162.67,374.83 L160.61,374.97 L158.54,375.11 L156.48,375.25 L154.41,375.39 L152.35,375.54 L150.29,375.68 L148.22,375.83 L146.16,375.98 L144.09,376.12 L142.03,376.27 L139.96,376.42 L137.90,376.56 L135.84,376.71 L133.77,376.86 L131.71,377.00 L129.64,377.15 L127.58,377.29 L125.51,377.44 L123.45,377.58 L121.39,377.73 L119.32,377.88 L117.26,378.02 L115.19,378.17 L113.13,378.31 L111.06,378.46 L109.00,378.61Z" fill="#6b52ac"/>
<path d="M109.00,376.19 L111.06,375.99 L113.13,375.79 L115.19,375.60 L117.26,375.42 L119.32,375.23 L121.39,375.05 L123.45,374.86 L125.51,374.67 L127.58,374.47 L129.64,374.26 L131.71,374.04 L133.77,373.80 L135.84,373.55 L137.90,373.28 L139.96,372.98 L142.03,372.64 L144.09,372.27 L146.16,371.86 L148.22,371.41 L150.29,370.95 L152.35,370.45 L154.41,369.94 L156.48,369.42 L158.54,368.88 L160.61,368.33 L162.67,367.79 L164.74,367.24 L166.80,366.70 L168.86,366.16 L170.93,365.64 L172.99,365.14 L175.06,364.65 L177.12,364.16 L179.19,363.65 L181.25,363.13 L183.31,362.62 L185.38,362.13 L187.44,361.67 L189.51,361.27 L191.57,360.93 L193.64,360.65 L195.70,360.40 L197.76,360.18 L199.83,359.97 L201.89,359.78 L203.96,359.60 L206.02,359.43 L208.09,359.25 L210.15,359.06 L212.21,358.86 L214.28,358.65 L216.34,358.41 L218.41,358.15 L220.47,357.88 L222.54,357.60 L224.60,357.32 L226.66,357.02 L228.73,356.71 L230.79,356.39 L232.86,356.05 L234.92,355.71 L236.99,355.35 L239.05,354.98 L241.11,354.60 L243.18,354.19 L245.24,353.77 L247.31,353.33 L249.37,352.86 L251.44,352.38 L253.50,351.88 L255.56,351.37 L257.63,350.84 L259.69,350.29 L261.76,349.74 L263.82,349.17 L265.89,348.59 L267.95,348.00 L270.01,347.40 L272.08,346.80 L274.14,346.18 L276.21,345.55 L278.27,344.88 L280.34,344.17 L282.40,343.44 L284.46,342.68 L286.53,341.90 L288.59,341.11 L290.66,340.31 L292.72,339.50 L294.79,338.70 L296.85,337.91 L298.91,337.13 L300.98,336.37 L303.04,335.63 L305.11,334.92 L307.17,334.25 L309.24,333.62 L311.30,333.00 L313.36,332.35 L315.43,331.67 L317.49,330.99 L319.56,330.30 L321.62,329.62 L323.69,328.96 L325.75,328.34 L327.81,327.76 L329.88,327.24 L331.94,326.79 L334.01,326.42 L336.07,326.14 L338.14,325.97 L340.20,325.92 L342.26,326.11 L344.33,326.49 L346.39,326.87 L348.46,327.06 L350.52,326.33 L352.59,324.61 L354.65,322.67 L356.71,321.27 L358.78,320.43 L360.84,319.63 L362.91,318.87 L364.97,318.15 L367.04,317.47 L369.10,316.82 L371.16,316.21 L373.23,315.63 L375.29,315.08 L377.36,314.56 L379.42,314.07 L381.49,313.61 L383.55,313.17 L385.61,312.76 L387.68,312.37 L389.74,312.00 L391.81,311.65 L393.87,311.32 L395.94,311.01 L398.00,310.71 L400.06,310.42 L402.13,310.17 L404.19,309.95 L406.26,309.74 L408.32,309.56 L410.39,309.37 L412.45,309.19 L414.51,308.99 L416.58,308.73 L418.64,308.46 L420.71,308.19 L422.77,307.92 L424.84,307.67 L426.90,307.44 L428.96,307.19 L431.03,306.95 L433.09,306.72 L435.16,306.49 L437.22,306.27 L439.29,306.06 L441.35,305.77 L443.41,305.49 L445.48,305.22 L447.54,304.96 L449.61,304.71 L451.67,304.46 L453.74,304.22 L455.80,303.99 L457.86,303.77 L459.93,303.56 L461.99,303.37 L464.06,303.18 L466.12,303.01 L468.19,302.86 L470.25,302.72 L472.31,302.59 L474.38,302.48 L476.44,302.39 L478.51,302.31 L480.57,302.25 L482.64,302.20 L484.70,302.17 L486.76,302.14 L488.83,302.13 L490.89,302.13 L492.96,302.14 L495.02,302.17 L497.09,302.20 L499.15,302.24 L501.21,302.29 L503.28,302.36 L505.34,302.44 L507.41,302.53 L509.47,302.64 L511.54,302.77 L513.60,302.93 L515.66,303.11 L517.73,303.32 L519.79,303.56 L521.86,303.83 L523.92,304.14 L525.99,304.49 L528.05,304.87 L530.11,305.29 L532.18,305.75 L534.24,306.24 L536.31,306.77 L538.37,307.33 L540.44,307.91 L542.50,308.52 L544.56,309.14 L546.63,309.78 L548.69,310.44 L550.76,311.09 L552.82,311.75 L554.89,312.41 L556.95,313.07 L559.01,313.71 L561.08,314.36 L563.14,314.99 L565.21,315.62 L567.27,316.23 L569.34,316.85 L571.40,317.45 L573.46,318.05 L575.53,318.65 L577.59,319.25 L579.66,319.84 L581.72,320.44 L583.79,321.04 L585.85,321.64 L587.91,322.25 L589.98,322.85 L592.04,323.45 L594.11,324.05 L596.17,324.63 L598.24,325.21 L600.30,325.78 L602.36,326.33 L604.43,326.86 L606.49,327.42 L608.56,327.97 L610.62,328.49 L612.69,328.99 L614.75,329.47 L616.81,329.94 L618.88,330.38 L620.94,330.81 L623.01,331.22 L625.07,331.62 L627.14,332.02 L629.20,332.40 L631.26,332.77 L633.33,333.14 L635.39,333.50 L637.46,333.86 L639.52,334.22 L641.59,334.57 L643.65,334.93 L645.71,335.28 L647.78,335.63 L649.84,335.98 L651.91,336.32 L653.97,336.67 L656.04,337.01 L658.10,337.36 L660.16,337.70 L662.23,338.04 L664.29,338.38 L666.36,338.72 L668.42,339.06 L670.49,339.40 L672.55,339.73 L674.61,340.07 L676.68,340.40 L678.74,340.74 L680.81,341.07 L682.87,341.41 L684.94,341.74 L687.00,342.08 L687.00,343.62 L684.94,343.28 L682.87,342.94 L680.81,342.60 L678.74,342.27 L676.68,341.93 L674.61,341.59 L672.55,341.25 L670.49,340.91 L668.42,340.57 L666.36,340.23 L664.29,339.88 L662.23,339.54 L660.16,339.20 L658.10,338.85 L656.04,338.50 L653.97,338.16 L651.91,337.81 L649.84,337.46 L647.78,337.11 L645.71,336.75 L643.65,336.40 L641.59,336.04 L639.52,335.69 L637.46,335.33 L635.39,334.96 L633.33,334.60 L631.26,334.22 L629.20,333.85 L627.14,333.46 L625.07,333.07 L623.01,332.66 L620.94,332.24 L618.88,331.81 L616.81,331.37 L614.75,330.90 L612.69,330.42 L610.62,329.91 L608.56,329.39 L606.49,328.84 L604.43,328.27 L602.36,327.74 L600.30,327.18 L598.24,326.61 L596.17,326.03 L594.11,325.44 L592.04,324.84 L589.98,324.24 L587.91,323.63 L585.85,323.03 L583.79,322.42 L581.72,321.82 L579.66,321.22 L577.59,320.62 L575.53,320.02 L573.46,319.41 L571.40,318.81 L569.34,318.20 L567.27,317.59 L565.21,316.97 L563.14,316.34 L561.08,315.70 L559.01,315.06 L556.95,314.40 L554.89,313.74 L552.82,313.08 L550.76,312.42 L548.69,311.76 L546.63,311.11 L544.56,310.46 L542.50,309.83 L540.44,309.22 L538.37,308.64 L536.31,308.08 L534.24,307.55 L532.18,307.05 L530.11,306.59 L528.05,306.16 L525.99,305.78 L523.92,305.43 L521.86,305.12 L519.79,304.84 L517.73,304.59 L515.66,304.38 L513.60,304.19 L511.54,304.03 L509.47,303.90 L507.41,303.78 L505.34,303.68 L503.28,303.59 L501.21,303.52 L499.15,303.47 L497.09,303.42 L495.02,303.38 L492.96,303.36 L490.89,303.34 L488.83,303.34 L486.76,303.34 L484.70,303.36 L482.64,303.39 L480.57,303.43 L478.51,303.49 L476.44,303.57 L474.38,303.65 L472.31,303.76 L470.25,303.88 L468.19,304.01 L466.12,304.16 L464.06,304.33 L461.99,304.51 L459.93,304.70 L457.86,304.90 L455.80,305.11 L453.74,305.34 L451.67,305.57 L449.61,305.82 L447.54,306.07 L445.48,306.32 L443.41,306.59 L441.35,306.86 L439.29,307.14 L437.22,307.35 L435.16,307.57 L433.09,307.79 L431.03,308.02 L428.96,308.25 L426.90,308.49 L424.84,308.72 L422.77,308.97 L420.71,309.23 L418.64,309.49 L416.58,309.76 L414.51,310.02 L412.45,310.21 L410.39,310.39 L408.32,310.57 L406.26,310.76 L404.19,310.95 L402.13,311.17 L400.06,311.42 L398.00,311.70 L395.94,312.00 L393.87,312.31 L391.81,312.64 L389.74,312.98 L387.68,313.35 L385.61,313.73 L383.55,314.14 L381.49,314.58 L379.42,315.04 L377.36,315.52 L375.29,316.04 L373.23,316.58 L371.16,317.16 L369.10,317.77 L367.04,318.41 L364.97,319.09 L362.91,319.81 L360.84,320.56 L358.78,321.36 L356.71,322.19 L354.65,323.59 L352.59,325.53 L350.52,327.24 L348.46,327.97 L346.39,327.77 L344.33,327.39 L342.26,327.00 L340.20,326.81 L338.14,326.86 L336.07,327.03 L334.01,327.30 L331.94,327.66 L329.88,328.11 L327.81,328.63 L325.75,329.20 L323.69,329.82 L321.62,330.47 L319.56,331.15 L317.49,331.83 L315.43,332.52 L313.36,333.19 L311.30,333.84 L309.24,334.45 L307.17,335.08 L305.11,335.75 L303.04,336.45 L300.98,337.19 L298.91,337.94 L296.85,338.72 L294.79,339.51 L292.72,340.31 L290.66,341.11 L288.59,341.90 L286.53,342.69 L284.46,343.47 L282.40,344.22 L280.34,344.95 L278.27,345.66 L276.21,346.33 L274.14,346.95 L272.08,347.56 L270.01,348.17 L267.95,348.77 L265.89,349.36 L263.82,349.94 L261.76,350.50 L259.69,351.06 L257.63,351.61 L255.56,352.14 L253.50,352.65 L251.44,353.15 L249.37,353.63 L247.31,354.10 L245.24,354.54 L243.18,354.96 L241.11,355.37 L239.05,355.75 L236.99,356.12 L234.92,356.48 L232.86,356.82 L230.79,357.16 L228.73,357.48 L226.66,357.79 L224.60,358.09 L222.54,358.37 L220.47,358.65 L218.41,358.92 L216.34,359.18 L214.28,359.42 L212.21,359.63 L210.15,359.83 L208.09,360.02 L206.02,360.19 L203.96,360.37 L201.89,360.55 L199.83,360.74 L197.76,360.95 L195.70,361.17 L193.64,361.42 L191.57,361.70 L189.51,362.04 L187.44,362.44 L185.38,362.89 L183.31,363.39 L181.25,363.90 L179.19,364.42 L177.12,364.93 L175.06,365.42 L172.99,365.91 L170.93,366.41 L168.86,366.93 L166.80,367.47 L164.74,368.01 L162.67,368.56 L160.61,369.10 L158.54,369.65 L156.48,370.19 L154.41,370.71 L152.35,371.22 L150.29,371.71 L148.22,372.18 L146.16,372.63 L144.09,373.04 L142.03,373.41 L139.96,373.75 L137.90,374.05 L135.84,374.32 L133.77,374.57 L131.71,374.81 L129.64,375.03 L127.58,375.24 L125.51,375.44 L123.45,375.63 L121.39,375.82 L119.32,376.00 L117.26,376.19 L115.19,376.37 L113.13,376.56 L111.06,376.76 L109.00,376.96Z" fill="#a79fcf"/>
<path d="M109.00,374.65 L111.06,374.45 L113.13,374.25 L115.19,374.05 L117.26,373.86 L119.32,373.68 L121.39,373.49 L123.45,373.30 L125.51,373.10 L127.58,372.90 L129.64,372.69 L131.71,372.46 L133.77,372.22 L135.84,371.97 L137.90,371.69 L139.96,371.39 L142.03,371.05 L144.09,370.67 L146.16,370.26 L148.22,369.81 L150.29,369.34 L152.35,368.85 L154.41,368.33 L156.48,367.80 L158.54,367.26 L160.61,366.71 L162.67,366.16 L164.74,365.61 L166.80,365.07 L168.86,364.53 L170.93,364.01 L172.99,363.50 L175.06,363.01 L177.12,362.52 L179.19,362.00 L181.25,361.48 L183.31,360.96 L185.38,360.47 L187.44,360.01 L189.51,359.60 L191.57,359.26 L193.64,358.98 L195.70,358.73 L197.76,358.50 L199.83,358.29 L201.89,358.10 L203.96,357.92 L206.02,357.74 L208.09,357.55 L210.15,357.36 L212.21,357.16 L214.28,356.94 L216.34,356.70 L218.41,356.44 L220.47,356.17 L222.54,355.89 L224.60,355.60 L226.66,355.30 L228.73,354.98 L230.79,354.66 L232.86,354.32 L234.92,353.98 L236.99,353.61 L239.05,353.24 L241.11,352.85 L243.18,352.45 L245.24,352.02 L247.31,351.57 L249.37,351.11 L251.44,350.62 L253.50,350.12 L255.56,349.60 L257.63,349.07 L259.69,348.52 L261.76,347.96 L263.82,347.39 L265.89,346.80 L267.95,346.21 L270.01,345.61 L272.08,345.00 L274.14,344.39 L276.21,343.75 L278.27,343.07 L280.34,342.35 L282.40,341.61 L284.46,340.84 L286.53,340.05 L288.59,339.25 L290.66,338.45 L292.72,337.63 L294.79,336.83 L296.85,336.02 L298.91,335.24 L300.98,334.47 L303.04,333.72 L305.11,333.01 L307.17,332.33 L309.24,331.69 L311.30,331.06 L313.36,330.40 L315.43,329.72 L317.49,329.02 L319.56,328.32 L321.62,327.64 L323.69,326.97 L325.75,326.34 L327.81,325.75 L329.88,325.23 L331.94,324.77 L334.01,324.39 L336.07,324.11 L338.14,323.93 L340.20,323.87 L342.26,324.03 L344.33,324.38 L346.39,324.73 L348.46,324.89 L350.52,324.14 L352.59,322.39 L354.65,320.42 L356.71,318.99 L358.78,318.12 L360.84,317.30 L362.91,316.51 L364.97,315.76 L367.04,315.05 L369.10,314.37 L371.16,313.73 L373.23,313.12 L375.29,312.55 L377.36,312.00 L379.42,311.48 L381.49,310.99 L383.55,310.52 L385.61,310.08 L387.68,309.66 L389.74,309.26 L391.81,308.89 L393.87,308.53 L395.94,308.18 L398.00,307.86 L400.06,307.54 L402.13,307.26 L404.19,307.01 L406.26,306.78 L408.32,306.56 L410.39,306.35 L412.45,306.14 L414.51,305.91 L416.58,305.56 L418.64,305.21 L420.71,304.85 L422.77,304.50 L424.84,304.17 L426.90,303.85 L428.96,303.51 L431.03,303.19 L433.09,302.87 L435.16,302.56 L437.22,302.25 L439.29,301.95 L441.35,301.66 L443.41,301.38 L445.48,301.10 L447.54,300.83 L449.61,300.57 L451.67,300.32 L453.74,300.07 L455.80,299.83 L457.86,299.61 L459.93,299.39 L461.99,299.19 L464.06,299.00 L466.12,298.83 L468.19,298.66 L470.25,298.52 L472.31,298.39 L474.38,298.27 L476.44,298.17 L478.51,298.09 L480.57,298.02 L482.64,297.96 L484.70,297.92 L486.76,297.89 L488.83,297.88 L490.89,297.87 L492.96,297.87 L495.02,297.89 L497.09,297.91 L499.15,297.95 L501.21,297.99 L503.28,298.05 L505.34,298.13 L507.41,298.21 L509.47,298.32 L511.54,298.45 L513.60,298.60 L515.66,298.77 L517.73,298.97 L519.79,299.21 L521.86,299.47 L523.92,299.78 L525.99,300.12 L528.05,300.49 L530.11,300.91 L532.18,301.36 L534.24,301.85 L536.31,302.37 L538.37,302.92 L540.44,303.49 L542.50,304.09 L544.56,304.71 L546.63,305.35 L548.69,305.99 L550.76,306.64 L552.82,307.30 L554.89,307.95 L556.95,308.60 L559.01,309.24 L561.08,309.87 L563.14,310.50 L565.21,311.12 L567.27,311.73 L569.34,312.34 L571.40,312.94 L573.46,313.53 L575.53,314.12 L577.59,314.71 L579.66,315.30 L581.72,315.90 L583.79,316.49 L585.85,317.09 L587.91,317.68 L589.98,318.28 L592.04,318.87 L594.11,319.46 L596.17,320.04 L598.24,320.61 L600.30,321.17 L602.36,321.72 L604.43,322.24 L606.49,322.75 L608.56,323.24 L610.62,323.70 L612.69,324.14 L614.75,324.57 L616.81,324.97 L618.88,325.36 L620.94,325.73 L623.01,326.09 L625.07,326.43 L627.14,326.76 L629.20,327.09 L631.26,327.40 L633.33,327.71 L635.39,328.02 L637.46,328.32 L639.52,328.62 L641.59,328.92 L643.65,329.21 L645.71,329.51 L647.78,329.80 L649.84,330.09 L651.91,330.38 L653.97,330.67 L656.04,330.95 L658.10,331.24 L660.16,331.52 L662.23,331.81 L664.29,332.09 L666.36,332.37 L668.42,332.65 L670.49,332.93 L672.55,333.21 L674.61,333.49 L676.68,333.77 L678.74,334.04 L680.81,334.32 L682.87,334.60 L684.94,334.88 L687.00,335.15 L687.00,342.08 L684.94,341.74 L682.87,341.41 L680.81,341.07 L678.74,340.74 L676.68,340.40 L674.61,340.07 L672.55,339.73 L670.49,339.40 L668.42,339.06 L666.36,338.72 L664.29,338.38 L662.23,338.04 L660.16,337.70 L658.10,337.36 L656.04,337.01 L653.97,336.67 L651.91,336.32 L649.84,335.98 L647.78,335.63 L645.71,335.28 L643.65,334.93 L641.59,334.57 L639.52,334.22 L637.46,333.86 L635.39,333.50 L633.33,333.14 L631.26,332.77 L629.20,332.40 L627.14,332.02 L625.07,331.62 L623.01,331.22 L620.94,330.81 L618.88,330.38 L616.81,329.94 L614.75,329.47 L612.69,328.99 L610.62,328.49 L608.56,327.97 L606.49,327.42 L604.43,326.86 L602.36,326.33 L600.30,325.78 L598.24,325.21 L596.17,324.63 L594.11,324.05 L592.04,323.45 L589.98,322.85 L587.91,322.25 L585.85,321.64 L583.79,321.04 L581.72,320.44 L579.66,319.84 L577.59,319.25 L575.53,318.65 L573.46,318.05 L571.40,317.45 L569.34,316.85 L567.27,316.23 L565.21,315.62 L563.14,314.99 L561.08,314.36 L559.01,313.71 L556.95,313.07 L554.89,312.41 L552.82,311.75 L550.76,311.09 L548.69,310.44 L546.63,309.78 L544.56,309.14 L542.50,308.52 L540.44,307.91 L538.37,307.33 L536.31,306.77 L534.24,306.24 L532.18,305.75 L530.11,305.29 L528.05,304.87 L525.99,304.49 L523.92,304.14 L521.86,303.83 L519.79,303.56 L517.73,303.32 L515.66,303.11 L513.60,302.93 L511.54,302.77 L509.47,302.64 L507.41,302.53 L505.34,302.44 L503.28,302.36 L501.21,302.29 L499.15,302.24 L497.09,302.20 L495.02,302.17 L492.96,302.14 L490.89,302.13 L488.83,302.13 L486.76,302.14 L484.70,302.17 L482.64,302.20 L480.57,302.25 L478.51,302.31 L476.44,302.39 L474.38,302.48 L472.31,302.59 L470.25,302.72 L468.19,302.86 L466.12,303.01 L464.06,303.18 L461.99,303.37 L459.93,303.56 L457.86,303.77 L455.80,303.99 L453.74,304.22 L451.67,304.46 L449.61,304.71 L447.54,304.96 L445.48,305.22 L443.41,305.49 L441.35,305.77 L439.29,306.06 L437.22,306.27 L435.16,306.49 L433.09,306.72 L431.03,306.95 L428.96,307.19 L426.90,307.44 L424.84,307.67 L422.77,307.92 L420.71,308.19 L418.64,308.46 L416.58,308.73 L414.51,308.99 L412.45,309.19 L410.39,309.37 L408.32,309.56 L406.26,309.74 L404.19,309.95 L402.13,310.17 L400.06,310.42 L398.00,310.71 L395.94,311.01 L393.87,311.32 L391.81,311.65 L389.74,312.00 L387.68,312.37 L385.61,312.76 L383.55,313.17 L381.49,313.61 L379.42,314.07 L377.36,314.56 L375.29,315.08 L373.23,315.63 L371.16,316.21 L369.10,316.82 L367.04,317.47 L364.97,318.15 L362.91,318.87 L360.84,319.63 L358.78,320.43 L356.71,321.27 L354.65,322.67 L352.59,324.61 L350.52,326.33 L348.46,327.06 L346.39,326.87 L344.33,326.49 L342.26,326.11 L340.20,325.92 L338.14,325.97 L336.07,326.14 L334.01,326.42 L331.94,326.79 L329.88,327.24 L327.81,327.76 L325.75,328.34 L323.69,328.96 L321.62,329.62 L319.56,330.30 L317.49,330.99 L315.43,331.67 L313.36,332.35 L311.30,333.00 L309.24,333.62 L307.17,334.25 L305.11,334.92 L303.04,335.63 L300.98,336.37 L298.91,337.13 L296.85,337.91 L294.79,338.70 L292.72,339.50 L290.66,340.31 L288.59,341.11 L286.53,341.90 L284.46,342.68 L282.40,343.44 L280.34,344.17 L278.27,344.88 L276.21,345.55 L274.14,346.18 L272.08,346.80 L270.01,347.40 L267.95,348.00 L265.89,348.59 L263.82,349.17 L261.76,349.74 L259.69,350.29 L257.63,350.84 L255.56,351.37 L253.50,351.88 L251.44,352.38 L249.37,352.86 L247.31,353.33 L245.24,353.77 L243.18,354.19 L241.11,354.60 L239.05,354.98 L236.99,355.35 L234.92,355.71 L232.86,356.05 L230.79,356.39 L228.73,356.71 L226.66,357.02 L224.60,357.32 L222.54,357.60 L220.47,357.88 L218.41,358.15 L216.34,358.41 L214.28,358.65 L212.21,358.86 L210.15,359.06 L208.09,359.25 L206.02,359.43 L203.96,359.60 L201.89,359.78 L199.83,359.97 L197.76,360.18 L195.70,360.40 L193.64,360.65 L191.57,360.93 L189.51,361.27 L187.44,361.67 L185.38,362.13 L183.31,362.62 L181.25,363.13 L179.19,363.65 L177.12,364.16 L175.06,364.65 L172.99,365.14 L170.93,365.64 L168.86,366.16 L166.80,366.70 L164.74,367.24 L162.67,367.79 L160.61,368.33 L158.54,368.88 L156.48,369.42 L154.41,369.94 L152.35,370.45 L150.29,370.95 L148.22,371.41 L146.16,371.86 L144.09,372.27 L142.03,372.64 L139.96,372.98 L137.90,373.28 L135.84,373.55 L133.77,373.80 L131.71,374.04 L129.64,374.26 L127.58,374.47 L125.51,374.67 L123.45,374.86 L121.39,375.05 L119.32,375.23 L117.26,375.42 L115.19,375.60 L113.13,375.79 L111.06,375.99 L109.00,376.19Z" fill="url(#bioG)"/>
<path d="M109.00,365.93 L111.06,365.88 L113.13,365.83 L115.19,365.77 L117.26,365.68 L119.32,365.50 L121.39,365.20 L123.45,364.82 L125.51,364.39 L127.58,363.85 L129.64,363.17 L131.71,362.45 L133.77,361.83 L135.84,361.29 L137.90,360.76 L139.96,360.24 L142.03,359.75 L144.09,359.30 L146.16,358.89 L148.22,358.53 L150.29,358.24 L152.35,358.03 L154.41,357.87 L156.48,357.70 L158.54,357.47 L160.61,357.07 L162.67,356.49 L164.74,355.82 L166.80,355.16 L168.86,354.48 L170.93,353.75 L172.99,353.02 L175.06,352.34 L177.12,351.70 L179.19,351.05 L181.25,350.41 L183.31,349.79 L185.38,349.21 L187.44,348.67 L189.51,348.19 L191.57,347.77 L193.64,347.44 L195.70,347.16 L197.76,346.90 L199.83,346.59 L201.89,346.26 L203.96,345.91 L206.02,345.57 L208.09,345.21 L210.15,344.86 L212.21,344.49 L214.28,344.13 L216.34,343.75 L218.41,343.38 L220.47,342.99 L222.54,342.60 L224.60,342.21 L226.66,341.81 L228.73,341.40 L230.79,340.99 L232.86,340.57 L234.92,340.14 L236.99,339.71 L239.05,339.28 L241.11,338.83 L243.18,338.38 L245.24,337.93 L247.31,337.46 L249.37,336.99 L251.44,336.52 L253.50,336.03 L255.56,335.54 L257.63,335.04 L259.69,334.54 L261.76,334.03 L263.82,333.51 L265.89,332.98 L267.95,332.44 L270.01,331.90 L272.08,331.35 L274.14,330.79 L276.21,330.22 L278.27,329.61 L280.34,328.97 L282.40,328.31 L284.46,327.63 L286.53,326.93 L288.59,326.20 L290.66,325.47 L292.72,324.72 L294.79,323.96 L296.85,323.19 L298.91,322.41 L300.98,321.63 L303.04,320.85 L305.11,320.08 L307.17,319.30 L309.24,318.53 L311.30,317.73 L313.36,316.83 L315.43,315.85 L317.49,314.82 L319.56,313.75 L321.62,312.67 L323.69,311.61 L325.75,310.59 L327.81,309.62 L329.88,308.74 L331.94,307.97 L334.01,307.33 L336.07,306.84 L338.14,306.53 L340.20,306.43 L342.26,306.47 L344.33,306.55 L346.39,306.64 L348.46,306.68 L350.52,305.87 L352.59,304.00 L354.65,301.91 L356.71,300.42 L358.78,299.58 L360.84,298.83 L362.91,298.17 L364.97,297.57 L367.04,297.03 L369.10,296.54 L371.16,296.07 L373.23,295.62 L375.29,295.16 L377.36,294.70 L379.42,294.22 L381.49,293.72 L383.55,293.25 L385.61,292.80 L387.68,292.37 L389.74,291.94 L391.81,291.50 L393.87,291.04 L395.94,290.56 L398.00,290.04 L400.06,289.48 L402.13,288.85 L404.19,288.16 L406.26,287.42 L408.32,286.66 L410.39,285.88 L412.45,285.11 L414.51,284.37 L416.58,283.97 L418.64,283.57 L420.71,283.16 L422.77,282.77 L424.84,282.40 L426.90,282.05 L428.96,281.69 L431.03,281.34 L433.09,281.00 L435.16,280.68 L437.22,280.36 L439.29,280.07 L441.35,279.78 L443.41,279.51 L445.48,279.25 L447.54,279.01 L449.61,278.77 L451.67,278.55 L453.74,278.34 L455.80,278.13 L457.86,277.94 L459.93,277.75 L461.99,277.57 L464.06,277.40 L466.12,277.23 L468.19,277.07 L470.25,276.92 L472.31,276.77 L474.38,276.62 L476.44,276.48 L478.51,276.34 L480.57,276.21 L482.64,276.08 L484.70,275.96 L486.76,275.84 L488.83,275.73 L490.89,275.63 L492.96,275.53 L495.02,275.45 L497.09,275.37 L499.15,275.30 L501.21,275.25 L503.28,275.20 L505.34,275.17 L507.41,275.15 L509.47,275.15 L511.54,275.16 L513.60,275.19 L515.66,275.23 L517.73,275.29 L519.79,275.36 L521.86,275.46 L523.92,275.57 L525.99,275.69 L528.05,275.84 L530.11,276.00 L532.18,276.18 L534.24,276.37 L536.31,276.59 L538.37,276.81 L540.44,277.06 L542.50,277.31 L544.56,277.58 L546.63,277.85 L548.69,278.14 L550.76,278.43 L552.82,278.73 L554.89,279.04 L556.95,279.35 L559.01,279.67 L561.08,279.99 L563.14,280.31 L565.21,280.64 L567.27,280.97 L569.34,281.31 L571.40,281.64 L573.46,281.99 L575.53,282.33 L577.59,282.68 L579.66,283.03 L581.72,283.39 L583.79,283.75 L585.85,284.11 L587.91,284.47 L589.98,284.83 L592.04,285.19 L594.11,285.55 L596.17,285.90 L598.24,286.26 L600.30,286.61 L602.36,286.95 L604.43,287.30 L606.49,287.63 L608.56,287.96 L610.62,288.28 L612.69,288.60 L614.75,288.91 L616.81,289.21 L618.88,289.51 L620.94,289.80 L623.01,290.08 L625.07,290.36 L627.14,290.62 L629.20,290.88 L631.26,291.14 L633.33,291.38 L635.39,291.62 L637.46,291.85 L639.52,292.07 L641.59,292.28 L643.65,292.48 L645.71,292.68 L647.78,292.87 L649.84,293.05 L651.91,293.23 L653.97,293.40 L656.04,293.56 L658.10,293.72 L660.16,293.87 L662.23,294.02 L664.29,294.17 L666.36,294.31 L668.42,294.45 L670.49,294.59 L672.55,294.72 L674.61,294.86 L676.68,294.99 L678.74,295.12 L680.81,295.26 L682.87,295.39 L684.94,295.52 L687.00,295.65 L687.00,335.15 L684.94,334.88 L682.87,334.60 L680.81,334.32 L678.74,334.04 L676.68,333.77 L674.61,333.49 L672.55,333.21 L670.49,332.93 L668.42,332.65 L666.36,332.37 L664.29,332.09 L662.23,331.81 L660.16,331.52 L658.10,331.24 L656.04,330.95 L653.97,330.67 L651.91,330.38 L649.84,330.09 L647.78,329.80 L645.71,329.51 L643.65,329.21 L641.59,328.92 L639.52,328.62 L637.46,328.32 L635.39,328.02 L633.33,327.71 L631.26,327.40 L629.20,327.09 L627.14,326.76 L625.07,326.43 L623.01,326.09 L620.94,325.73 L618.88,325.36 L616.81,324.97 L614.75,324.57 L612.69,324.14 L610.62,323.70 L608.56,323.24 L606.49,322.75 L604.43,322.24 L602.36,321.72 L600.30,321.17 L598.24,320.61 L596.17,320.04 L594.11,319.46 L592.04,318.87 L589.98,318.28 L587.91,317.68 L585.85,317.09 L583.79,316.49 L581.72,315.90 L579.66,315.30 L577.59,314.71 L575.53,314.12 L573.46,313.53 L571.40,312.94 L569.34,312.34 L567.27,311.73 L565.21,311.12 L563.14,310.50 L561.08,309.87 L559.01,309.24 L556.95,308.60 L554.89,307.95 L552.82,307.30 L550.76,306.64 L548.69,305.99 L546.63,305.35 L544.56,304.71 L542.50,304.09 L540.44,303.49 L538.37,302.92 L536.31,302.37 L534.24,301.85 L532.18,301.36 L530.11,300.91 L528.05,300.49 L525.99,300.12 L523.92,299.78 L521.86,299.47 L519.79,299.21 L517.73,298.97 L515.66,298.77 L513.60,298.60 L511.54,298.45 L509.47,298.32 L507.41,298.21 L505.34,298.13 L503.28,298.05 L501.21,297.99 L499.15,297.95 L497.09,297.91 L495.02,297.89 L492.96,297.87 L490.89,297.87 L488.83,297.88 L486.76,297.89 L484.70,297.92 L482.64,297.96 L480.57,298.02 L478.51,298.09 L476.44,298.17 L474.38,298.27 L472.31,298.39 L470.25,298.52 L468.19,298.66 L466.12,298.83 L464.06,299.00 L461.99,299.19 L459.93,299.39 L457.86,299.61 L455.80,299.83 L453.74,300.07 L451.67,300.32 L449.61,300.57 L447.54,300.83 L445.48,301.10 L443.41,301.38 L441.35,301.66 L439.29,301.95 L437.22,302.25 L435.16,302.56 L433.09,302.87 L431.03,303.19 L428.96,303.51 L426.90,303.85 L424.84,304.17 L422.77,304.50 L420.71,304.85 L418.64,305.21 L416.58,305.56 L414.51,305.91 L412.45,306.14 L410.39,306.35 L408.32,306.56 L406.26,306.78 L404.19,307.01 L402.13,307.26 L400.06,307.54 L398.00,307.86 L395.94,308.18 L393.87,308.53 L391.81,308.89 L389.74,309.26 L387.68,309.66 L385.61,310.08 L383.55,310.52 L381.49,310.99 L379.42,311.48 L377.36,312.00 L375.29,312.55 L373.23,313.12 L371.16,313.73 L369.10,314.37 L367.04,315.05 L364.97,315.76 L362.91,316.51 L360.84,317.30 L358.78,318.12 L356.71,318.99 L354.65,320.42 L352.59,322.39 L350.52,324.14 L348.46,324.89 L346.39,324.73 L344.33,324.38 L342.26,324.03 L340.20,323.87 L338.14,323.93 L336.07,324.11 L334.01,324.39 L331.94,324.77 L329.88,325.23 L327.81,325.75 L325.75,326.34 L323.69,326.97 L321.62,327.64 L319.56,328.32 L317.49,329.02 L315.43,329.72 L313.36,330.40 L311.30,331.06 L309.24,331.69 L307.17,332.33 L305.11,333.01 L303.04,333.72 L300.98,334.47 L298.91,335.24 L296.85,336.02 L294.79,336.83 L292.72,337.63 L290.66,338.45 L288.59,339.25 L286.53,340.05 L284.46,340.84 L282.40,341.61 L280.34,342.35 L278.27,343.07 L276.21,343.75 L274.14,344.39 L272.08,345.00 L270.01,345.61 L267.95,346.21 L265.89,346.80 L263.82,347.39 L261.76,347.96 L259.69,348.52 L257.63,349.07 L255.56,349.60 L253.50,350.12 L251.44,350.62 L249.37,351.11 L247.31,351.57 L245.24,352.02 L243.18,352.45 L241.11,352.85 L239.05,353.24 L236.99,353.61 L234.92,353.98 L232.86,354.32 L230.79,354.66 L228.73,354.98 L226.66,355.30 L224.60,355.60 L222.54,355.89 L220.47,356.17 L218.41,356.44 L216.34,356.70 L214.28,356.94 L212.21,357.16 L210.15,357.36 L208.09,357.55 L206.02,357.74 L203.96,357.92 L201.89,358.10 L199.83,358.29 L197.76,358.50 L195.70,358.73 L193.64,358.98 L191.57,359.26 L189.51,359.60 L187.44,360.01 L185.38,360.47 L183.31,360.96 L181.25,361.48 L179.19,362.00 L177.12,362.52 L175.06,363.01 L172.99,363.50 L170.93,364.01 L168.86,364.53 L166.80,365.07 L164.74,365.61 L162.67,366.16 L160.61,366.71 L158.54,367.26 L156.48,367.80 L154.41,368.33 L152.35,368.85 L150.29,369.34 L148.22,369.81 L146.16,370.26 L144.09,370.67 L142.03,371.05 L139.96,371.39 L137.90,371.69 L135.84,371.97 L133.77,372.22 L131.71,372.46 L129.64,372.69 L127.58,372.90 L125.51,373.10 L123.45,373.30 L121.39,373.49 L119.32,373.68 L117.26,373.86 L115.19,374.05 L113.13,374.25 L111.06,374.45 L109.00,374.65Z" fill="#0c5bb0"/>
<path d="M109.00,365.93 L111.06,365.88 L113.13,365.83 L115.19,365.77 L117.26,365.68 L119.32,365.50 L121.39,365.20 L123.45,364.82 L125.51,364.39 L127.58,363.85 L129.64,363.17 L131.71,362.45 L133.77,361.83 L135.84,361.29 L137.90,360.76 L139.96,360.24 L142.03,359.75 L144.09,359.30 L146.16,358.89 L148.22,358.53 L150.29,358.24 L152.35,358.03 L154.41,357.87 L156.48,357.70 L158.54,357.47 L160.61,357.07 L162.67,356.49 L164.74,355.82 L166.80,355.16 L168.86,354.48 L170.93,353.75 L172.99,353.02 L175.06,352.34 L177.12,351.70 L179.19,351.05 L181.25,350.41 L183.31,349.79 L185.38,349.21 L187.44,348.67 L189.51,348.19 L191.57,347.77 L193.64,347.44 L195.70,347.16 L197.76,346.90 L199.83,346.59 L201.89,346.26 L203.96,345.91 L206.02,345.57 L208.09,345.21 L210.15,344.86 L212.21,344.49 L214.28,344.13 L216.34,343.75 L218.41,343.38 L220.47,342.99 L222.54,342.60 L224.60,342.21 L226.66,341.81 L228.73,341.40 L230.79,340.99 L232.86,340.57 L234.92,340.14 L236.99,339.71 L239.05,339.28 L241.11,338.83 L243.18,338.38 L245.24,337.93 L247.31,337.46 L249.37,336.99 L251.44,336.52 L253.50,336.03 L255.56,335.54 L257.63,335.04 L259.69,334.54 L261.76,334.03 L263.82,333.51 L265.89,332.98 L267.95,332.44 L270.01,331.90 L272.08,331.35 L274.14,330.79 L276.21,330.22 L278.27,329.61 L280.34,328.97 L282.40,328.31 L284.46,327.63 L286.53,326.93 L288.59,326.20 L290.66,325.47 L292.72,324.72 L294.79,323.96 L296.85,323.19 L298.91,322.41 L300.98,321.63 L303.04,320.85 L305.11,320.08 L307.17,319.30 L309.24,318.53 L311.30,317.73 L313.36,316.83 L315.43,315.85 L317.49,314.82 L319.56,313.75 L321.62,312.67 L323.69,311.61 L325.75,310.59 L327.81,309.62 L329.88,308.74 L331.94,307.97 L334.01,307.33 L336.07,306.84 L338.14,306.53 L340.20,306.43 L342.26,306.47 L344.33,306.55 L346.39,306.64 L348.46,306.68 L350.52,305.87 L352.59,304.00 L354.65,301.91 L356.71,300.42 L358.78,299.58 L360.84,298.82 L362.91,298.15 L364.97,297.55 L367.04,297.01 L369.10,296.50 L371.16,296.03 L373.23,295.57 L375.29,295.12 L377.36,294.65 L379.42,294.16 L381.49,293.65 L383.55,293.18 L385.61,292.72 L387.68,292.28 L389.74,291.85 L391.81,291.40 L393.87,290.94 L395.94,290.46 L398.00,289.94 L400.06,289.37 L402.13,288.73 L404.19,288.03 L406.26,287.29 L408.32,286.52 L410.39,285.74 L412.45,284.96 L414.51,284.21 L416.58,283.81 L418.64,283.40 L420.71,282.99 L422.77,282.60 L424.84,282.22 L426.90,281.87 L428.96,281.50 L431.03,281.15 L433.09,280.80 L435.16,280.47 L437.22,280.16 L439.29,279.85 L441.35,279.56 L443.41,279.29 L445.48,279.02 L447.54,278.77 L449.61,278.54 L451.67,278.31 L453.74,278.09 L455.80,277.88 L457.86,277.68 L459.93,277.49 L461.99,277.31 L464.06,277.13 L466.12,276.96 L468.19,276.79 L470.25,276.63 L472.31,276.47 L474.38,276.32 L476.44,276.18 L478.51,276.04 L480.57,275.90 L482.64,275.77 L484.70,275.64 L486.76,275.52 L488.83,275.40 L490.89,275.29 L492.96,275.19 L495.02,275.10 L497.09,275.02 L499.15,274.95 L501.21,274.88 L503.28,274.84 L505.34,274.80 L507.41,274.78 L509.47,274.77 L511.54,274.78 L513.60,274.80 L515.66,274.83 L517.73,274.89 L519.79,274.96 L521.86,275.05 L523.92,275.15 L525.99,275.28 L528.05,275.42 L530.11,275.58 L532.18,275.76 L534.24,275.95 L536.31,276.16 L538.37,276.38 L540.44,276.62 L542.50,276.87 L544.56,277.14 L546.63,277.41 L548.69,277.70 L550.76,277.99 L552.82,278.29 L554.89,278.59 L556.95,278.90 L559.01,279.21 L561.08,279.53 L563.14,279.85 L565.21,280.18 L567.27,280.50 L569.34,280.84 L571.40,281.17 L573.46,281.51 L575.53,281.86 L577.59,282.20 L579.66,282.55 L581.72,282.90 L583.79,283.26 L585.85,283.62 L587.91,283.97 L589.98,284.33 L592.04,284.69 L594.11,285.05 L596.17,285.40 L598.24,285.75 L600.30,286.10 L602.36,286.44 L604.43,286.78 L606.49,287.12 L608.56,287.44 L610.62,287.76 L612.69,288.08 L614.75,288.38 L616.81,288.68 L618.88,288.98 L620.94,289.27 L623.01,289.54 L625.07,289.82 L627.14,290.08 L629.20,290.34 L631.26,290.59 L633.33,290.83 L635.39,291.07 L637.46,291.29 L639.52,291.51 L641.59,291.72 L643.65,291.92 L645.71,292.12 L647.78,292.30 L649.84,292.48 L651.91,292.66 L653.97,292.82 L656.04,292.98 L658.10,293.14 L660.16,293.29 L662.23,293.44 L664.29,293.58 L666.36,293.72 L668.42,293.86 L670.49,293.99 L672.55,294.13 L674.61,294.26 L676.68,294.39 L678.74,294.52 L680.81,294.65 L682.87,294.78 L684.94,294.91 L687.00,295.04 L687.00,295.65 L684.94,295.52 L682.87,295.39 L680.81,295.26 L678.74,295.12 L676.68,294.99 L674.61,294.86 L672.55,294.72 L670.49,294.59 L668.42,294.45 L666.36,294.31 L664.29,294.17 L662.23,294.02 L660.16,293.87 L658.10,293.72 L656.04,293.56 L653.97,293.40 L651.91,293.23 L649.84,293.05 L647.78,292.87 L645.71,292.68 L643.65,292.48 L641.59,292.28 L639.52,292.07 L637.46,291.85 L635.39,291.62 L633.33,291.38 L631.26,291.14 L629.20,290.88 L627.14,290.62 L625.07,290.36 L623.01,290.08 L620.94,289.80 L618.88,289.51 L616.81,289.21 L614.75,288.91 L612.69,288.60 L610.62,288.28 L608.56,287.96 L606.49,287.63 L604.43,287.30 L602.36,286.95 L600.30,286.61 L598.24,286.26 L596.17,285.90 L594.11,285.55 L592.04,285.19 L589.98,284.83 L587.91,284.47 L585.85,284.11 L583.79,283.75 L581.72,283.39 L579.66,283.03 L577.59,282.68 L575.53,282.33 L573.46,281.99 L571.40,281.64 L569.34,281.31 L567.27,280.97 L565.21,280.64 L563.14,280.31 L561.08,279.99 L559.01,279.67 L556.95,279.35 L554.89,279.04 L552.82,278.73 L550.76,278.43 L548.69,278.14 L546.63,277.85 L544.56,277.58 L542.50,277.31 L540.44,277.06 L538.37,276.81 L536.31,276.59 L534.24,276.37 L532.18,276.18 L530.11,276.00 L528.05,275.84 L525.99,275.69 L523.92,275.57 L521.86,275.46 L519.79,275.36 L517.73,275.29 L515.66,275.23 L513.60,275.19 L511.54,275.16 L509.47,275.15 L507.41,275.15 L505.34,275.17 L503.28,275.20 L501.21,275.25 L499.15,275.30 L497.09,275.37 L495.02,275.45 L492.96,275.53 L490.89,275.63 L488.83,275.73 L486.76,275.84 L484.70,275.96 L482.64,276.08 L480.57,276.21 L478.51,276.34 L476.44,276.48 L474.38,276.62 L472.31,276.77 L470.25,276.92 L468.19,277.07 L466.12,277.23 L464.06,277.40 L461.99,277.57 L459.93,277.75 L457.86,277.94 L455.80,278.13 L453.74,278.34 L451.67,278.55 L449.61,278.77 L447.54,279.01 L445.48,279.25 L443.41,279.51 L441.35,279.78 L439.29,280.07 L437.22,280.36 L435.16,280.68 L433.09,281.00 L431.03,281.34 L428.96,281.69 L426.90,282.05 L424.84,282.40 L422.77,282.77 L420.71,283.16 L418.64,283.57 L416.58,283.97 L414.51,284.37 L412.45,285.11 L410.39,285.88 L408.32,286.66 L406.26,287.42 L404.19,288.16 L402.13,288.85 L400.06,289.48 L398.00,290.04 L395.94,290.56 L393.87,291.04 L391.81,291.50 L389.74,291.94 L387.68,292.37 L385.61,292.80 L383.55,293.25 L381.49,293.72 L379.42,294.22 L377.36,294.70 L375.29,295.16 L373.23,295.62 L371.16,296.07 L369.10,296.54 L367.04,297.03 L364.97,297.57 L362.91,298.17 L360.84,298.83 L358.78,299.58 L356.71,300.42 L354.65,301.91 L352.59,304.00 L350.52,305.87 L348.46,306.68 L346.39,306.64 L344.33,306.55 L342.26,306.47 L340.20,306.43 L338.14,306.53 L336.07,306.84 L334.01,307.33 L331.94,307.97 L329.88,308.74 L327.81,309.62 L325.75,310.59 L323.69,311.61 L321.62,312.67 L319.56,313.75 L317.49,314.82 L315.43,315.85 L313.36,316.83 L311.30,317.73 L309.24,318.53 L307.17,319.30 L305.11,320.08 L303.04,320.85 L300.98,321.63 L298.91,322.41 L296.85,323.19 L294.79,323.96 L292.72,324.72 L290.66,325.47 L288.59,326.20 L286.53,326.93 L284.46,327.63 L282.40,328.31 L280.34,328.97 L278.27,329.61 L276.21,330.22 L274.14,330.79 L272.08,331.35 L270.01,331.90 L267.95,332.44 L265.89,332.98 L263.82,333.51 L261.76,334.03 L259.69,334.54 L257.63,335.04 L255.56,335.54 L253.50,336.03 L251.44,336.52 L249.37,336.99 L247.31,337.46 L245.24,337.93 L243.18,338.38 L241.11,338.83 L239.05,339.28 L236.99,339.71 L234.92,340.14 L232.86,340.57 L230.79,340.99 L228.73,341.40 L226.66,341.81 L224.60,342.21 L222.54,342.60 L220.47,342.99 L218.41,343.38 L216.34,343.75 L214.28,344.13 L212.21,344.49 L210.15,344.86 L208.09,345.21 L206.02,345.57 L203.96,345.91 L201.89,346.26 L199.83,346.59 L197.76,346.90 L195.70,347.16 L193.64,347.44 L191.57,347.77 L189.51,348.19 L187.44,348.67 L185.38,349.21 L183.31,349.79 L181.25,350.41 L179.19,351.05 L177.12,351.70 L175.06,352.34 L172.99,353.02 L170.93,353.75 L168.86,354.48 L166.80,355.16 L164.74,355.82 L162.67,356.49 L160.61,357.07 L158.54,357.47 L156.48,357.70 L154.41,357.87 L152.35,358.03 L150.29,358.24 L148.22,358.53 L146.16,358.89 L144.09,359.30 L142.03,359.75 L139.96,360.24 L137.90,360.76 L135.84,361.29 L133.77,361.83 L131.71,362.45 L129.64,363.17 L127.58,363.85 L125.51,364.39 L123.45,364.82 L121.39,365.20 L119.32,365.50 L117.26,365.68 L115.19,365.77 L113.13,365.83 L111.06,365.88 L109.00,365.93Z" fill="#f08a2c"/>
<path d="M109.00,365.93 L111.06,365.88 L113.13,365.83 L115.19,365.77 L117.26,365.68 L119.32,365.50 L121.39,365.20 L123.45,364.82 L125.51,364.39 L127.58,363.85 L129.64,363.17 L131.71,362.45 L133.77,361.83 L135.84,361.29 L137.90,360.76 L139.96,360.24 L142.03,359.75 L144.09,359.30 L146.16,358.89 L148.22,358.53 L150.29,358.24 L152.35,358.03 L154.41,357.87 L156.48,357.70 L158.54,357.47 L160.61,357.07 L162.67,356.49 L164.74,355.82 L166.80,355.16 L168.86,354.48 L170.93,353.75 L172.99,353.02 L175.06,352.34 L177.12,351.70 L179.19,351.05 L181.25,350.41 L183.31,349.79 L185.38,349.21 L187.44,348.67 L189.51,348.19 L191.57,347.77 L193.64,347.44 L195.70,347.16 L197.76,346.90 L199.83,346.59 L201.89,346.26 L203.96,345.91 L206.02,345.57 L208.09,345.21 L210.15,344.86 L212.21,344.49 L214.28,344.13 L216.34,343.75 L218.41,343.38 L220.47,342.99 L222.54,342.60 L224.60,342.21 L226.66,341.81 L228.73,341.40 L230.79,340.99 L232.86,340.57 L234.92,340.14 L236.99,339.71 L239.05,339.28 L241.11,338.83 L243.18,338.38 L245.24,337.93 L247.31,337.46 L249.37,336.99 L251.44,336.52 L253.50,336.03 L255.56,335.54 L257.63,335.04 L259.69,334.54 L261.76,334.03 L263.82,333.51 L265.89,332.98 L267.95,332.44 L270.01,331.90 L272.08,331.35 L274.14,330.79 L276.21,330.22 L278.27,329.61 L280.34,328.97 L282.40,328.31 L284.46,327.63 L286.53,326.93 L288.59,326.20 L290.66,325.47 L292.72,324.72 L294.79,323.96 L296.85,323.19 L298.91,322.41 L300.98,321.63 L303.04,320.85 L305.11,320.08 L307.17,319.30 L309.24,318.53 L311.30,317.73 L313.36,316.83 L315.43,315.85 L317.49,314.82 L319.56,313.75 L321.62,312.67 L323.69,311.61 L325.75,310.59 L327.81,309.62 L329.88,308.74 L331.94,307.97 L334.01,307.33 L336.07,306.84 L338.14,306.53 L340.20,306.43 L342.26,306.47 L344.33,306.55 L346.39,306.64 L348.46,306.68 L350.52,305.85 L352.59,303.95 L354.65,301.83 L356.71,300.32 L358.78,299.45 L360.84,298.68 L362.91,297.99 L364.97,297.37 L367.04,296.80 L369.10,296.28 L371.16,295.79 L373.23,295.31 L375.29,294.83 L377.36,294.34 L379.42,293.83 L381.49,293.31 L383.55,292.77 L385.61,292.25 L387.68,291.75 L389.74,291.25 L391.81,290.74 L393.87,290.21 L395.94,289.66 L398.00,289.07 L400.06,288.39 L402.13,287.40 L404.19,286.35 L406.26,285.26 L408.32,284.13 L410.39,283.00 L412.45,281.88 L414.51,280.78 L416.58,280.35 L418.64,279.93 L420.71,279.52 L422.77,279.09 L424.84,278.65 L426.90,278.20 L428.96,277.76 L431.03,277.31 L433.09,276.85 L435.16,276.39 L437.22,275.91 L439.29,275.43 L441.35,274.93 L443.41,274.43 L445.48,273.91 L447.54,273.38 L449.61,272.85 L451.67,272.30 L453.74,271.74 L455.80,271.18 L457.86,270.60 L459.93,270.01 L461.99,269.42 L464.06,268.81 L466.12,268.20 L468.19,267.58 L470.25,266.95 L472.31,266.31 L474.38,265.66 L476.44,265.00 L478.51,264.33 L480.57,263.66 L482.64,262.97 L484.70,262.28 L486.76,261.58 L488.83,260.86 L490.89,260.14 L492.96,259.42 L495.02,258.68 L497.09,257.95 L499.15,257.20 L501.21,256.46 L503.28,255.71 L505.34,254.97 L507.41,254.22 L509.47,253.48 L511.54,252.75 L513.60,252.01 L515.66,251.29 L517.73,250.57 L519.79,249.86 L521.86,249.16 L523.92,248.46 L525.99,247.77 L528.05,247.09 L530.11,246.42 L532.18,245.76 L534.24,245.10 L536.31,244.44 L538.37,243.79 L540.44,243.15 L542.50,242.50 L544.56,241.86 L546.63,241.22 L548.69,240.58 L550.76,239.94 L552.82,239.30 L554.89,238.66 L556.95,238.02 L559.01,237.37 L561.08,236.72 L563.14,236.07 L565.21,235.41 L567.27,234.76 L569.34,234.10 L571.40,233.43 L573.46,232.77 L575.53,232.10 L577.59,231.43 L579.66,230.77 L581.72,230.10 L583.79,229.43 L585.85,228.76 L587.91,228.10 L589.98,227.44 L592.04,226.78 L594.11,226.13 L596.17,225.47 L598.24,224.83 L600.30,224.19 L602.36,223.55 L604.43,222.92 L606.49,222.29 L608.56,221.67 L610.62,221.05 L612.69,220.44 L614.75,219.83 L616.81,219.23 L618.88,218.63 L620.94,218.04 L623.01,217.44 L625.07,216.85 L627.14,216.26 L629.20,215.67 L631.26,215.09 L633.33,214.50 L635.39,213.92 L637.46,213.33 L639.52,212.75 L641.59,212.16 L643.65,211.58 L645.71,210.99 L647.78,210.40 L649.84,209.82 L651.91,209.23 L653.97,208.64 L656.04,208.05 L658.10,207.47 L660.16,206.88 L662.23,206.29 L664.29,205.70 L666.36,205.11 L668.42,204.52 L670.49,203.93 L672.55,203.34 L674.61,202.75 L676.68,202.16 L678.74,201.57 L680.81,200.98 L682.87,200.39 L684.94,199.80 L687.00,199.21 L687.00,295.04 L684.94,294.91 L682.87,294.78 L680.81,294.65 L678.74,294.52 L676.68,294.39 L674.61,294.26 L672.55,294.13 L670.49,293.99 L668.42,293.86 L666.36,293.72 L664.29,293.58 L662.23,293.44 L660.16,293.29 L658.10,293.14 L656.04,292.98 L653.97,292.82 L651.91,292.66 L649.84,292.48 L647.78,292.30 L645.71,292.12 L643.65,291.92 L641.59,291.72 L639.52,291.51 L637.46,291.29 L635.39,291.07 L633.33,290.83 L631.26,290.59 L629.20,290.34 L627.14,290.08 L625.07,289.82 L623.01,289.54 L620.94,289.27 L618.88,288.98 L616.81,288.68 L614.75,288.38 L612.69,288.08 L610.62,287.76 L608.56,287.44 L606.49,287.12 L604.43,286.78 L602.36,286.44 L600.30,286.10 L598.24,285.75 L596.17,285.40 L594.11,285.05 L592.04,284.69 L589.98,284.33 L587.91,283.97 L585.85,283.62 L583.79,283.26 L581.72,282.90 L579.66,282.55 L577.59,282.20 L575.53,281.86 L573.46,281.51 L571.40,281.17 L569.34,280.84 L567.27,280.50 L565.21,280.18 L563.14,279.85 L561.08,279.53 L559.01,279.21 L556.95,278.90 L554.89,278.59 L552.82,278.29 L550.76,277.99 L548.69,277.70 L546.63,277.41 L544.56,277.14 L542.50,276.87 L540.44,276.62 L538.37,276.38 L536.31,276.16 L534.24,275.95 L532.18,275.76 L530.11,275.58 L528.05,275.42 L525.99,275.28 L523.92,275.15 L521.86,275.05 L519.79,274.96 L517.73,274.89 L515.66,274.83 L513.60,274.80 L511.54,274.78 L509.47,274.77 L507.41,274.78 L505.34,274.80 L503.28,274.84 L501.21,274.88 L499.15,274.95 L497.09,275.02 L495.02,275.10 L492.96,275.19 L490.89,275.29 L488.83,275.40 L486.76,275.52 L484.70,275.64 L482.64,275.77 L480.57,275.90 L478.51,276.04 L476.44,276.18 L474.38,276.32 L472.31,276.47 L470.25,276.63 L468.19,276.79 L466.12,276.96 L464.06,277.13 L461.99,277.31 L459.93,277.49 L457.86,277.68 L455.80,277.88 L453.74,278.09 L451.67,278.31 L449.61,278.54 L447.54,278.77 L445.48,279.02 L443.41,279.29 L441.35,279.56 L439.29,279.85 L437.22,280.16 L435.16,280.47 L433.09,280.80 L431.03,281.15 L428.96,281.50 L426.90,281.87 L424.84,282.22 L422.77,282.60 L420.71,282.99 L418.64,283.40 L416.58,283.81 L414.51,284.21 L412.45,284.96 L410.39,285.74 L408.32,286.52 L406.26,287.29 L404.19,288.03 L402.13,288.73 L400.06,289.37 L398.00,289.94 L395.94,290.46 L393.87,290.94 L391.81,291.40 L389.74,291.85 L387.68,292.28 L385.61,292.72 L383.55,293.18 L381.49,293.65 L379.42,294.16 L377.36,294.65 L375.29,295.12 L373.23,295.57 L371.16,296.03 L369.10,296.50 L367.04,297.01 L364.97,297.55 L362.91,298.15 L360.84,298.82 L358.78,299.58 L356.71,300.42 L354.65,301.91 L352.59,304.00 L350.52,305.87 L348.46,306.68 L346.39,306.64 L344.33,306.55 L342.26,306.47 L340.20,306.43 L338.14,306.53 L336.07,306.84 L334.01,307.33 L331.94,307.97 L329.88,308.74 L327.81,309.62 L325.75,310.59 L323.69,311.61 L321.62,312.67 L319.56,313.75 L317.49,314.82 L315.43,315.85 L313.36,316.83 L311.30,317.73 L309.24,318.53 L307.17,319.30 L305.11,320.08 L303.04,320.85 L300.98,321.63 L298.91,322.41 L296.85,323.19 L294.79,323.96 L292.72,324.72 L290.66,325.47 L288.59,326.20 L286.53,326.93 L284.46,327.63 L282.40,328.31 L280.34,328.97 L278.27,329.61 L276.21,330.22 L274.14,330.79 L272.08,331.35 L270.01,331.90 L267.95,332.44 L265.89,332.98 L263.82,333.51 L261.76,334.03 L259.69,334.54 L257.63,335.04 L255.56,335.54 L253.50,336.03 L251.44,336.52 L249.37,336.99 L247.31,337.46 L245.24,337.93 L243.18,338.38 L241.11,338.83 L239.05,339.28 L236.99,339.71 L234.92,340.14 L232.86,340.57 L230.79,340.99 L228.73,341.40 L226.66,341.81 L224.60,342.21 L222.54,342.60 L220.47,342.99 L218.41,343.38 L216.34,343.75 L214.28,344.13 L212.21,344.49 L210.15,344.86 L208.09,345.21 L206.02,345.57 L203.96,345.91 L201.89,346.26 L199.83,346.59 L197.76,346.90 L195.70,347.16 L193.64,347.44 L191.57,347.77 L189.51,348.19 L187.44,348.67 L185.38,349.21 L183.31,349.79 L181.25,350.41 L179.19,351.05 L177.12,351.70 L175.06,352.34 L172.99,353.02 L170.93,353.75 L168.86,354.48 L166.80,355.16 L164.74,355.82 L162.67,356.49 L160.61,357.07 L158.54,357.47 L156.48,357.70 L154.41,357.87 L152.35,358.03 L150.29,358.24 L148.22,358.53 L146.16,358.89 L144.09,359.30 L142.03,359.75 L139.96,360.24 L137.90,360.76 L135.84,361.29 L133.77,361.83 L131.71,362.45 L129.64,363.17 L127.58,363.85 L125.51,364.39 L123.45,364.82 L121.39,365.20 L119.32,365.50 L117.26,365.68 L115.19,365.77 L113.13,365.83 L111.06,365.88 L109.00,365.93Z" fill="#fcd20f"/>
<path d="M109.00,365.93 L111.06,365.88 L113.13,365.82 L115.19,365.76 L117.26,365.67 L119.32,365.49 L121.39,365.19 L123.45,364.80 L125.51,364.38 L127.58,363.84 L129.64,363.15 L131.71,362.43 L133.77,361.81 L135.84,361.27 L137.90,360.73 L139.96,360.22 L142.03,359.72 L144.09,359.27 L146.16,358.85 L148.22,358.50 L150.29,358.20 L152.35,357.99 L154.41,357.83 L156.48,357.66 L158.54,357.42 L160.61,357.02 L162.67,356.44 L164.74,355.77 L166.80,355.11 L168.86,354.43 L170.93,353.69 L172.99,352.96 L175.06,352.28 L177.12,351.63 L179.19,350.98 L181.25,350.34 L183.31,349.72 L185.38,349.14 L187.44,348.60 L189.51,348.11 L191.57,347.70 L193.64,347.36 L195.70,347.08 L197.76,346.81 L199.83,346.51 L201.89,346.17 L203.96,345.83 L206.02,345.48 L208.09,345.12 L210.15,344.76 L212.21,344.40 L214.28,344.03 L216.34,343.65 L218.41,343.27 L220.47,342.89 L222.54,342.50 L224.60,342.10 L226.66,341.70 L228.73,341.29 L230.79,340.87 L232.86,340.45 L234.92,340.03 L236.99,339.59 L239.05,339.16 L241.11,338.71 L243.18,338.26 L245.24,337.80 L247.31,337.33 L249.37,336.86 L251.44,336.38 L253.50,335.90 L255.56,335.41 L257.63,334.91 L259.69,334.40 L261.76,333.88 L263.82,333.36 L265.89,332.83 L267.95,332.30 L270.01,331.75 L272.08,331.20 L274.14,330.64 L276.21,330.05 L278.27,329.43 L280.34,328.78 L282.40,328.11 L284.46,327.41 L286.53,326.70 L288.59,325.96 L290.66,325.21 L292.72,324.45 L294.79,323.67 L296.85,322.89 L298.91,322.10 L300.98,321.31 L303.04,320.52 L305.11,319.73 L307.17,318.94 L309.24,318.16 L311.30,317.35 L313.36,316.43 L315.43,315.44 L317.49,314.38 L319.56,313.28 L321.62,312.17 L323.69,311.08 L325.75,310.03 L327.81,309.03 L329.88,308.12 L331.94,307.32 L334.01,306.65 L336.07,306.13 L338.14,305.79 L340.20,305.66 L342.26,305.60 L344.33,305.59 L346.39,305.58 L348.46,305.53 L350.52,304.62 L352.59,302.65 L354.65,300.46 L356.71,298.88 L358.78,297.87 L360.84,296.95 L362.91,296.12 L364.97,295.35 L367.04,294.64 L369.10,293.97 L371.16,293.33 L373.23,292.71 L375.29,292.09 L377.36,291.45 L379.42,290.80 L381.49,290.13 L383.55,289.25 L385.61,288.39 L387.68,287.55 L389.74,286.71 L391.81,285.87 L393.87,285.00 L395.94,284.11 L398.00,283.19 L400.06,282.29 L402.13,281.58 L404.19,280.82 L406.26,280.01 L408.32,279.18 L410.39,278.33 L412.45,277.49 L414.51,276.67 L416.58,276.04 L418.64,275.42 L420.71,274.79 L422.77,274.15 L424.84,273.48 L426.90,272.79 L428.96,272.10 L431.03,271.40 L433.09,270.68 L435.16,269.94 L437.22,269.18 L439.29,268.39 L441.35,267.57 L443.41,266.73 L445.48,265.86 L447.54,264.97 L449.61,264.05 L451.67,263.10 L453.74,262.13 L455.80,261.15 L457.86,260.14 L459.93,259.12 L461.99,258.08 L464.06,257.04 L466.12,255.99 L468.19,254.93 L470.25,253.88 L472.31,252.82 L474.38,251.76 L476.44,250.70 L478.51,249.65 L480.57,248.60 L482.64,247.55 L484.70,246.51 L486.76,245.48 L488.83,244.44 L490.89,243.41 L492.96,242.38 L495.02,241.36 L497.09,240.33 L499.15,239.31 L501.21,238.28 L503.28,237.25 L505.34,236.22 L507.41,235.18 L509.47,234.14 L511.54,233.10 L513.60,232.05 L515.66,230.99 L517.73,229.93 L519.79,228.86 L521.86,227.78 L523.92,226.69 L525.99,225.60 L528.05,224.50 L530.11,223.40 L532.18,222.29 L534.24,221.17 L536.31,220.05 L538.37,218.93 L540.44,217.80 L542.50,216.67 L544.56,215.54 L546.63,214.41 L548.69,213.28 L550.76,212.16 L552.82,211.03 L554.89,209.91 L556.95,208.80 L559.01,207.69 L561.08,206.58 L563.14,205.48 L565.21,204.38 L567.27,203.29 L569.34,202.20 L571.40,201.12 L573.46,200.04 L575.53,198.97 L577.59,197.90 L579.66,196.84 L581.72,195.78 L583.79,194.73 L585.85,193.68 L587.91,192.63 L589.98,191.59 L592.04,190.55 L594.11,189.51 L596.17,188.48 L598.24,187.45 L600.30,186.43 L602.36,185.41 L604.43,184.39 L606.49,183.38 L608.56,182.37 L610.62,181.37 L612.69,180.37 L614.75,179.37 L616.81,178.37 L618.88,177.38 L620.94,176.40 L623.01,175.42 L625.07,174.44 L627.14,173.47 L629.20,172.50 L631.26,171.54 L633.33,170.58 L635.39,169.63 L637.46,168.68 L639.52,167.74 L641.59,166.81 L643.65,165.88 L645.71,164.96 L647.78,164.05 L649.84,163.14 L651.91,162.23 L653.97,161.33 L656.04,160.44 L658.10,159.55 L660.16,158.67 L662.23,157.79 L664.29,156.91 L666.36,156.04 L668.42,155.17 L670.49,154.30 L672.55,153.44 L674.61,152.57 L676.68,151.71 L678.74,150.84 L680.81,149.98 L682.87,149.12 L684.94,148.26 L687.00,147.40 L687.00,199.21 L684.94,199.80 L682.87,200.39 L680.81,200.98 L678.74,201.57 L676.68,202.16 L674.61,202.75 L672.55,203.34 L670.49,203.93 L668.42,204.52 L666.36,205.11 L664.29,205.70 L662.23,206.29 L660.16,206.88 L658.10,207.47 L656.04,208.05 L653.97,208.64 L651.91,209.23 L649.84,209.82 L647.78,210.40 L645.71,210.99 L643.65,211.58 L641.59,212.16 L639.52,212.75 L637.46,213.33 L635.39,213.92 L633.33,214.50 L631.26,215.09 L629.20,215.67 L627.14,216.26 L625.07,216.85 L623.01,217.44 L620.94,218.04 L618.88,218.63 L616.81,219.23 L614.75,219.83 L612.69,220.44 L610.62,221.05 L608.56,221.67 L606.49,222.29 L604.43,222.92 L602.36,223.55 L600.30,224.19 L598.24,224.83 L596.17,225.47 L594.11,226.13 L592.04,226.78 L589.98,227.44 L587.91,228.10 L585.85,228.76 L583.79,229.43 L581.72,230.10 L579.66,230.77 L577.59,231.43 L575.53,232.10 L573.46,232.77 L571.40,233.43 L569.34,234.10 L567.27,234.76 L565.21,235.41 L563.14,236.07 L561.08,236.72 L559.01,237.37 L556.95,238.02 L554.89,238.66 L552.82,239.30 L550.76,239.94 L548.69,240.58 L546.63,241.22 L544.56,241.86 L542.50,242.50 L540.44,243.15 L538.37,243.79 L536.31,244.44 L534.24,245.10 L532.18,245.76 L530.11,246.42 L528.05,247.09 L525.99,247.77 L523.92,248.46 L521.86,249.16 L519.79,249.86 L517.73,250.57 L515.66,251.29 L513.60,252.01 L511.54,252.75 L509.47,253.48 L507.41,254.22 L505.34,254.97 L503.28,255.71 L501.21,256.46 L499.15,257.20 L497.09,257.95 L495.02,258.68 L492.96,259.42 L490.89,260.14 L488.83,260.86 L486.76,261.58 L484.70,262.28 L482.64,262.97 L480.57,263.66 L478.51,264.33 L476.44,265.00 L474.38,265.66 L472.31,266.31 L470.25,266.95 L468.19,267.58 L466.12,268.20 L464.06,268.81 L461.99,269.42 L459.93,270.01 L457.86,270.60 L455.80,271.18 L453.74,271.74 L451.67,272.30 L449.61,272.85 L447.54,273.38 L445.48,273.91 L443.41,274.43 L441.35,274.93 L439.29,275.43 L437.22,275.91 L435.16,276.39 L433.09,276.85 L431.03,277.31 L428.96,277.76 L426.90,278.20 L424.84,278.65 L422.77,279.09 L420.71,279.52 L418.64,279.93 L416.58,280.35 L414.51,280.78 L412.45,281.88 L410.39,283.00 L408.32,284.13 L406.26,285.26 L404.19,286.35 L402.13,287.40 L400.06,288.39 L398.00,289.07 L395.94,289.66 L393.87,290.21 L391.81,290.74 L389.74,291.25 L387.68,291.75 L385.61,292.25 L383.55,292.77 L381.49,293.31 L379.42,293.83 L377.36,294.34 L375.29,294.83 L373.23,295.31 L371.16,295.79 L369.10,296.28 L367.04,296.80 L364.97,297.37 L362.91,297.99 L360.84,298.68 L358.78,299.45 L356.71,300.32 L354.65,301.83 L352.59,303.95 L350.52,305.85 L348.46,306.68 L346.39,306.64 L344.33,306.55 L342.26,306.47 L340.20,306.43 L338.14,306.53 L336.07,306.84 L334.01,307.33 L331.94,307.97 L329.88,308.74 L327.81,309.62 L325.75,310.59 L323.69,311.61 L321.62,312.67 L319.56,313.75 L317.49,314.82 L315.43,315.85 L313.36,316.83 L311.30,317.73 L309.24,318.53 L307.17,319.30 L305.11,320.08 L303.04,320.85 L300.98,321.63 L298.91,322.41 L296.85,323.19 L294.79,323.96 L292.72,324.72 L290.66,325.47 L288.59,326.20 L286.53,326.93 L284.46,327.63 L282.40,328.31 L280.34,328.97 L278.27,329.61 L276.21,330.22 L274.14,330.79 L272.08,331.35 L270.01,331.90 L267.95,332.44 L265.89,332.98 L263.82,333.51 L261.76,334.03 L259.69,334.54 L257.63,335.04 L255.56,335.54 L253.50,336.03 L251.44,336.52 L249.37,336.99 L247.31,337.46 L245.24,337.93 L243.18,338.38 L241.11,338.83 L239.05,339.28 L236.99,339.71 L234.92,340.14 L232.86,340.57 L230.79,340.99 L228.73,341.40 L226.66,341.81 L224.60,342.21 L222.54,342.60 L220.47,342.99 L218.41,343.38 L216.34,343.75 L214.28,344.13 L212.21,344.49 L210.15,344.86 L208.09,345.21 L206.02,345.57 L203.96,345.91 L201.89,346.26 L199.83,346.59 L197.76,346.90 L195.70,347.16 L193.64,347.44 L191.57,347.77 L189.51,348.19 L187.44,348.67 L185.38,349.21 L183.31,349.79 L181.25,350.41 L179.19,351.05 L177.12,351.70 L175.06,352.34 L172.99,353.02 L170.93,353.75 L168.86,354.48 L166.80,355.16 L164.74,355.82 L162.67,356.49 L160.61,357.07 L158.54,357.47 L156.48,357.70 L154.41,357.87 L152.35,358.03 L150.29,358.24 L148.22,358.53 L146.16,358.89 L144.09,359.30 L142.03,359.75 L139.96,360.24 L137.90,360.76 L135.84,361.29 L133.77,361.83 L131.71,362.45 L129.64,363.17 L127.58,363.85 L125.51,364.39 L123.45,364.82 L121.39,365.20 L119.32,365.50 L117.26,365.68 L115.19,365.77 L113.13,365.83 L111.06,365.88 L109.00,365.93Z" fill="#b4dcf5" fill-opacity="0.7"/>
<path d="M109.00,365.93 L111.06,365.88 L113.13,365.82 L115.19,365.76 L117.26,365.67 L119.32,365.48 L121.39,365.18 L123.45,364.80 L125.51,364.37 L127.58,363.83 L129.64,363.14 L131.71,362.43 L133.77,361.80 L135.84,361.26 L137.90,360.72 L139.96,360.21 L142.03,359.71 L144.09,359.26 L146.16,358.84 L148.22,358.48 L150.29,358.19 L152.35,357.97 L154.41,357.81 L156.48,357.64 L158.54,357.41 L160.61,357.00 L162.67,356.42 L164.74,355.76 L166.80,355.09 L168.86,354.41 L170.93,353.68 L172.99,352.94 L175.06,352.26 L177.12,351.61 L179.19,350.96 L181.25,350.32 L183.31,349.70 L185.38,349.11 L187.44,348.57 L189.51,348.09 L191.57,347.67 L193.64,347.34 L195.70,347.06 L197.76,346.79 L199.83,346.48 L201.89,346.14 L203.96,345.80 L206.02,345.45 L208.09,345.09 L210.15,344.73 L212.21,344.37 L214.28,344.00 L216.34,343.62 L218.41,343.24 L220.47,342.85 L222.54,342.46 L224.60,342.06 L226.66,341.66 L228.73,341.25 L230.79,340.84 L232.86,340.42 L234.92,339.99 L236.99,339.55 L239.05,339.12 L241.11,338.67 L243.18,338.22 L245.24,337.76 L247.31,337.29 L249.37,336.82 L251.44,336.34 L253.50,335.85 L255.56,335.36 L257.63,334.86 L259.69,334.35 L261.76,333.84 L263.82,333.31 L265.89,332.78 L267.95,332.25 L270.01,331.70 L272.08,331.15 L274.14,330.59 L276.21,330.00 L278.27,329.37 L280.34,328.72 L282.40,328.05 L284.46,327.35 L286.53,326.63 L288.59,325.89 L290.66,325.14 L292.72,324.37 L294.79,323.60 L296.85,322.81 L298.91,322.02 L300.98,321.23 L303.04,320.43 L305.11,319.64 L307.17,318.85 L309.24,318.06 L311.30,317.25 L313.36,316.33 L315.43,315.34 L317.49,314.27 L319.56,313.18 L321.62,312.07 L323.69,310.98 L325.75,309.92 L327.81,308.93 L329.88,308.02 L331.94,307.22 L334.01,306.55 L336.07,306.03 L338.14,305.69 L340.20,305.55 L342.26,305.48 L344.33,305.45 L346.39,305.42 L348.46,305.35 L350.52,304.42 L352.59,302.44 L354.65,300.23 L356.71,298.63 L358.78,297.60 L360.84,296.67 L362.91,295.82 L364.97,295.04 L367.04,294.32 L369.10,293.64 L371.16,292.99 L373.23,292.35 L375.29,291.71 L377.36,291.07 L379.42,290.40 L381.49,289.72 L383.55,288.83 L385.61,287.96 L387.68,287.11 L389.74,286.26 L391.81,285.40 L393.87,284.52 L395.94,283.62 L398.00,282.69 L400.06,281.76 L402.13,280.99 L404.19,280.15 L406.26,279.27 L408.32,278.36 L410.39,277.44 L412.45,276.53 L414.51,275.65 L416.58,275.01 L418.64,274.39 L420.71,273.77 L422.77,273.13 L424.84,272.46 L426.90,271.76 L428.96,271.08 L431.03,270.38 L433.09,269.65 L435.16,268.91 L437.22,268.14 L439.29,267.35 L441.35,266.53 L443.41,265.68 L445.48,264.80 L447.54,263.89 L449.61,262.96 L451.67,262.00 L453.74,261.02 L455.80,260.02 L457.86,258.99 L459.93,257.94 L461.99,256.88 L464.06,255.81 L466.12,254.72 L468.19,253.62 L470.25,252.52 L472.31,251.40 L474.38,250.29 L476.44,249.17 L478.51,248.04 L480.57,246.92 L482.64,245.79 L484.70,244.66 L486.76,243.52 L488.83,242.39 L490.89,241.25 L492.96,240.11 L495.02,238.96 L497.09,237.81 L499.15,236.66 L501.21,235.51 L503.28,234.35 L505.34,233.19 L507.41,232.03 L509.47,230.86 L511.54,229.70 L513.60,228.53 L515.66,227.36 L517.73,226.19 L519.79,225.02 L521.86,223.84 L523.92,222.67 L525.99,221.49 L528.05,220.32 L530.11,219.14 L532.18,217.96 L534.24,216.78 L536.31,215.59 L538.37,214.40 L540.44,213.20 L542.50,212.00 L544.56,210.79 L546.63,209.57 L548.69,208.34 L550.76,207.10 L552.82,205.85 L554.89,204.59 L556.95,203.31 L559.01,202.01 L561.08,200.70 L563.14,199.38 L565.21,198.03 L567.27,196.68 L569.34,195.30 L571.40,193.91 L573.46,192.51 L575.53,191.09 L577.59,189.66 L579.66,188.22 L581.72,186.76 L583.79,185.30 L585.85,183.84 L587.91,182.37 L589.98,180.89 L592.04,179.41 L594.11,177.94 L596.17,176.46 L598.24,174.98 L600.30,173.51 L602.36,172.04 L604.43,170.57 L606.49,169.11 L608.56,167.65 L610.62,166.19 L612.69,164.74 L614.75,163.29 L616.81,161.84 L618.88,160.39 L620.94,158.95 L623.01,157.51 L625.07,156.07 L627.14,154.63 L629.20,153.20 L631.26,151.77 L633.33,150.34 L635.39,148.91 L637.46,147.48 L639.52,146.06 L641.59,144.64 L643.65,143.22 L645.71,141.80 L647.78,140.39 L649.84,138.97 L651.91,137.56 L653.97,136.15 L656.04,134.75 L658.10,133.34 L660.16,131.94 L662.23,130.54 L664.29,129.14 L666.36,127.74 L668.42,126.35 L670.49,124.95 L672.55,123.55 L674.61,122.16 L676.68,120.77 L678.74,119.37 L680.81,117.98 L682.87,116.58 L684.94,115.19 L687.00,113.79 L687.00,147.40 L684.94,148.26 L682.87,149.12 L680.81,149.98 L678.74,150.84 L676.68,151.71 L674.61,152.57 L672.55,153.44 L670.49,154.30 L668.42,155.17 L666.36,156.04 L664.29,156.91 L662.23,157.79 L660.16,158.67 L658.10,159.55 L656.04,160.44 L653.97,161.33 L651.91,162.23 L649.84,163.14 L647.78,164.05 L645.71,164.96 L643.65,165.88 L641.59,166.81 L639.52,167.74 L637.46,168.68 L635.39,169.63 L633.33,170.58 L631.26,171.54 L629.20,172.50 L627.14,173.47 L625.07,174.44 L623.01,175.42 L620.94,176.40 L618.88,177.38 L616.81,178.37 L614.75,179.37 L612.69,180.37 L610.62,181.37 L608.56,182.37 L606.49,183.38 L604.43,184.39 L602.36,185.41 L600.30,186.43 L598.24,187.45 L596.17,188.48 L594.11,189.51 L592.04,190.55 L589.98,191.59 L587.91,192.63 L585.85,193.68 L583.79,194.73 L581.72,195.78 L579.66,196.84 L577.59,197.90 L575.53,198.97 L573.46,200.04 L571.40,201.12 L569.34,202.20 L567.27,203.29 L565.21,204.38 L563.14,205.48 L561.08,206.58 L559.01,207.69 L556.95,208.80 L554.89,209.91 L552.82,211.03 L550.76,212.16 L548.69,213.28 L546.63,214.41 L544.56,215.54 L542.50,216.67 L540.44,217.80 L538.37,218.93 L536.31,220.05 L534.24,221.17 L532.18,222.29 L530.11,223.40 L528.05,224.50 L525.99,225.60 L523.92,226.69 L521.86,227.78 L519.79,228.86 L517.73,229.93 L515.66,230.99 L513.60,232.05 L511.54,233.10 L509.47,234.14 L507.41,235.18 L505.34,236.22 L503.28,237.25 L501.21,238.28 L499.15,239.31 L497.09,240.33 L495.02,241.36 L492.96,242.38 L490.89,243.41 L488.83,244.44 L486.76,245.48 L484.70,246.51 L482.64,247.55 L480.57,248.60 L478.51,249.65 L476.44,250.70 L474.38,251.76 L472.31,252.82 L470.25,253.88 L468.19,254.93 L466.12,255.99 L464.06,257.04 L461.99,258.08 L459.93,259.12 L457.86,260.14 L455.80,261.15 L453.74,262.13 L451.67,263.10 L449.61,264.05 L447.54,264.97 L445.48,265.86 L443.41,266.73 L441.35,267.57 L439.29,268.39 L437.22,269.18 L435.16,269.94 L433.09,270.68 L431.03,271.40 L428.96,272.10 L426.90,272.79 L424.84,273.48 L422.77,274.15 L420.71,274.79 L418.64,275.42 L416.58,276.04 L414.51,276.67 L412.45,277.49 L410.39,278.33 L408.32,279.18 L406.26,280.01 L404.19,280.82 L402.13,281.58 L400.06,282.29 L398.00,283.19 L395.94,284.11 L393.87,285.00 L391.81,285.87 L389.74,286.71 L387.68,287.55 L385.61,288.39 L383.55,289.25 L381.49,290.13 L379.42,290.80 L377.36,291.45 L375.29,292.09 L373.23,292.71 L371.16,293.33 L369.10,293.97 L367.04,294.64 L364.97,295.35 L362.91,296.12 L360.84,296.95 L358.78,297.87 L356.71,298.88 L354.65,300.46 L352.59,302.65 L350.52,304.62 L348.46,305.53 L346.39,305.58 L344.33,305.59 L342.26,305.60 L340.20,305.66 L338.14,305.79 L336.07,306.13 L334.01,306.65 L331.94,307.32 L329.88,308.12 L327.81,309.03 L325.75,310.03 L323.69,311.08 L321.62,312.17 L319.56,313.28 L317.49,314.38 L315.43,315.44 L313.36,316.43 L311.30,317.35 L309.24,318.16 L307.17,318.94 L305.11,319.73 L303.04,320.52 L300.98,321.31 L298.91,322.10 L296.85,322.89 L294.79,323.67 L292.72,324.45 L290.66,325.21 L288.59,325.96 L286.53,326.70 L284.46,327.41 L282.40,328.11 L280.34,328.78 L278.27,329.43 L276.21,330.05 L274.14,330.64 L272.08,331.20 L270.01,331.75 L267.95,332.30 L265.89,332.83 L263.82,333.36 L261.76,333.88 L259.69,334.40 L257.63,334.91 L255.56,335.41 L253.50,335.90 L251.44,336.38 L249.37,336.86 L247.31,337.33 L245.24,337.80 L243.18,338.26 L241.11,338.71 L239.05,339.16 L236.99,339.59 L234.92,340.03 L232.86,340.45 L230.79,340.87 L228.73,341.29 L226.66,341.70 L224.60,342.10 L222.54,342.50 L220.47,342.89 L218.41,343.27 L216.34,343.65 L214.28,344.03 L212.21,344.40 L210.15,344.76 L208.09,345.12 L206.02,345.48 L203.96,345.83 L201.89,346.17 L199.83,346.51 L197.76,346.81 L195.70,347.08 L193.64,347.36 L191.57,347.70 L189.51,348.11 L187.44,348.60 L185.38,349.14 L183.31,349.72 L181.25,350.34 L179.19,350.98 L177.12,351.63 L175.06,352.28 L172.99,352.96 L170.93,353.69 L168.86,354.43 L166.80,355.11 L164.74,355.77 L162.67,356.44 L160.61,357.02 L158.54,357.42 L156.48,357.66 L154.41,357.83 L152.35,357.99 L150.29,358.20 L148.22,358.50 L146.16,358.85 L144.09,359.27 L142.03,359.72 L139.96,360.22 L137.90,360.73 L135.84,361.27 L133.77,361.81 L131.71,362.43 L129.64,363.15 L127.58,363.84 L125.51,364.38 L123.45,364.80 L121.39,365.19 L119.32,365.49 L117.26,365.67 L115.19,365.76 L113.13,365.82 L111.06,365.88 L109.00,365.93Z" fill="#1aa3e0"/>
<path d="M109.00,392.61 L111.06,392.42 L113.13,392.22 L115.19,392.02 L117.26,391.82 L119.32,391.62 L121.39,391.42 L123.45,391.21 L125.51,391.01 L127.58,390.81 L129.64,390.61 L131.71,390.41 L133.77,390.21 L135.84,390.02 L137.90,389.82 L139.96,389.64 L142.03,389.45 L144.09,389.27 L146.16,389.10 L148.22,388.93 L150.29,388.76 L152.35,388.60 L154.41,388.45 L156.48,388.31 L158.54,388.17 L160.61,388.03 L162.67,387.90 L164.74,387.76 L166.80,387.64 L168.86,387.51 L170.93,387.38 L172.99,387.25 L175.06,387.13 L177.12,387.00 L179.19,386.87 L181.25,386.73 L183.31,386.59 L185.38,386.45 L187.44,386.30 L189.51,386.15 L191.57,385.99 L193.64,385.82 L195.70,385.64 L197.76,385.46 L199.83,385.26 L201.89,385.06 L203.96,384.86 L206.02,384.65 L208.09,384.45 L210.15,384.24 L212.21,384.04 L214.28,383.85 L216.34,383.66 L218.41,383.48 L220.47,383.31 L222.54,383.15 L224.60,383.00 L226.66,382.85 L228.73,382.72 L230.79,382.58 L232.86,382.46 L234.92,382.33 L236.99,382.21 L239.05,382.09 L241.11,381.98 L243.18,381.86 L245.24,381.74 L247.31,381.62 L249.37,381.50 L251.44,381.37 L253.50,381.25 L255.56,381.11 L257.63,380.97 L259.69,380.82 L261.76,380.67 L263.82,380.51 L265.89,380.33 L267.95,380.15 L270.01,379.96 L272.08,379.75 L274.14,379.53 L276.21,379.28 L278.27,378.97 L280.34,378.63 L282.40,378.24 L284.46,377.82 L286.53,377.37 L288.59,376.90 L290.66,376.41 L292.72,375.91 L294.79,375.40 L296.85,374.89 L298.91,374.38 L300.98,373.88 L303.04,373.39 L305.11,372.93 L307.17,372.48 L309.24,372.07 L311.30,371.68 L313.36,371.32 L315.43,370.97 L317.49,370.62 L319.56,370.28 L321.62,369.94 L323.69,369.58 L325.75,369.20 L327.81,368.81 L329.88,368.31 L331.94,367.71 L334.01,367.09 L336.07,366.53 L338.14,366.14 L340.20,365.99 L342.26,366.07 L344.33,366.27 L346.39,366.46 L348.46,366.55 L350.52,366.19 L352.59,365.35 L354.65,364.38 L356.71,363.63 L358.78,363.11 L360.84,362.60 L362.91,362.11 L364.97,361.65 L367.04,361.21 L369.10,360.81 L371.16,360.44 L373.23,360.11 L375.29,359.84 L377.36,359.61 L379.42,359.44 L381.49,359.32 L383.55,359.22 L385.61,359.12 L387.68,359.03 L389.74,358.95 L391.81,358.88 L393.87,358.81 L395.94,358.75 L398.00,358.69 L400.06,358.64 L402.13,358.59 L404.19,358.53 L406.26,358.48 L408.32,358.43 L410.39,358.37 L412.45,358.31 L414.51,358.24 L416.58,358.28 L418.64,358.32 L420.71,358.36 L422.77,358.41 L424.84,358.45 L426.90,358.50 L428.96,358.55 L431.03,358.60 L433.09,358.65 L435.16,358.70 L437.22,358.75 L439.29,358.81 L441.35,358.87 L443.41,358.93 L445.48,359.00 L447.54,359.06 L449.61,359.13 L451.67,359.20 L453.74,359.28 L455.80,359.35 L457.86,359.43 L459.93,359.51 L461.99,359.59 L464.06,359.67 L466.12,359.75 L468.19,359.83 L470.25,359.91 L472.31,359.99 L474.38,360.07 L476.44,360.14 L478.51,360.22 L480.57,360.29 L482.64,360.37 L484.70,360.44 L486.76,360.51 L488.83,360.59 L490.89,360.66 L492.96,360.74 L495.02,360.81 L497.09,360.89 L499.15,360.98 L501.21,361.07 L503.28,361.17 L505.34,361.28 L507.41,361.39 L509.47,361.52 L511.54,361.67 L513.60,361.82 L515.66,361.99 L517.73,362.18 L519.79,362.39 L521.86,362.62 L523.92,362.87 L525.99,363.14 L528.05,363.43 L530.11,363.75 L532.18,364.08 L534.24,364.44 L536.31,364.81 L538.37,365.20 L540.44,365.60 L542.50,366.02 L544.56,366.45 L546.63,366.89 L548.69,367.33 L550.76,367.78 L552.82,368.24 L554.89,368.70 L556.95,369.15 L559.01,369.61 L561.08,370.07 L563.14,370.52 L565.21,370.98 L567.27,371.43 L569.34,371.88 L571.40,372.33 L573.46,372.78 L575.53,373.23 L577.59,373.69 L579.66,374.14 L581.72,374.59 L583.79,375.05 L585.85,375.51 L587.91,375.97 L589.98,376.44 L592.04,376.90 L594.11,377.37 L596.17,377.83 L598.24,378.30 L600.30,378.77 L602.36,379.23 L604.43,379.70 L606.49,380.16 L608.56,380.61 L610.62,381.07 L612.69,381.52 L614.75,381.97 L616.81,382.41 L618.88,382.84 L620.94,383.28 L623.01,383.71 L625.07,384.13 L627.14,384.55 L629.20,384.96 L631.26,385.37 L633.33,385.78 L635.39,386.18 L637.46,386.57 L639.52,386.96 L641.59,387.34 L643.65,387.72 L645.71,388.09 L647.78,388.46 L649.84,388.82 L651.91,389.18 L653.97,389.53 L656.04,389.88 L658.10,390.23 L660.16,390.57 L662.23,390.90 L664.29,391.24 L666.36,391.57 L668.42,391.90 L670.49,392.23 L672.55,392.55 L674.61,392.88 L676.68,393.20 L678.74,393.52 L680.81,393.85 L682.87,394.17 L684.94,394.49 L687.00,394.82" fill="none" stroke="#4a1016" stroke-width="0.9"/>
<path d="M109.00,384.20 L111.06,384.02 L113.13,383.84 L115.19,383.66 L117.26,383.48 L119.32,383.30 L121.39,383.12 L123.45,382.94 L125.51,382.76 L127.58,382.58 L129.64,382.40 L131.71,382.22 L133.77,382.04 L135.84,381.86 L137.90,381.68 L139.96,381.50 L142.03,381.32 L144.09,381.14 L146.16,380.96 L148.22,380.78 L150.29,380.61 L152.35,380.42 L154.41,380.23 L156.48,380.04 L158.54,379.85 L160.61,379.66 L162.67,379.48 L164.74,379.30 L166.80,379.14 L168.86,378.99 L170.93,378.86 L172.99,378.74 L175.06,378.63 L177.12,378.52 L179.19,378.42 L181.25,378.33 L183.31,378.24 L185.38,378.15 L187.44,378.07 L189.51,377.99 L191.57,377.91 L193.64,377.83 L195.70,377.75 L197.76,377.68 L199.83,377.60 L201.89,377.52 L203.96,377.44 L206.02,377.36 L208.09,377.27 L210.15,377.18 L212.21,377.09 L214.28,376.99 L216.34,376.89 L218.41,376.78 L220.47,376.66 L222.54,376.54 L224.60,376.42 L226.66,376.30 L228.73,376.18 L230.79,376.06 L232.86,375.93 L234.92,375.80 L236.99,375.67 L239.05,375.53 L241.11,375.39 L243.18,375.25 L245.24,375.10 L247.31,374.94 L249.37,374.79 L251.44,374.62 L253.50,374.45 L255.56,374.28 L257.63,374.09 L259.69,373.90 L261.76,373.70 L263.82,373.50 L265.89,373.29 L267.95,373.06 L270.01,372.83 L272.08,372.60 L274.14,372.35 L276.21,372.05 L278.27,371.69 L280.34,371.26 L282.40,370.79 L284.46,370.27 L286.53,369.71 L288.59,369.14 L290.66,368.55 L292.72,367.95 L294.79,367.37 L296.85,366.79 L298.91,366.25 L300.98,365.74 L303.04,365.27 L305.11,364.86 L307.17,364.51 L309.24,364.24 L311.30,364.03 L313.36,363.87 L315.43,363.73 L317.49,363.61 L319.56,363.50 L321.62,363.38 L323.69,363.24 L325.75,363.07 L327.81,362.86 L329.88,362.48 L331.94,361.90 L334.01,361.24 L336.07,360.62 L338.14,360.16 L340.20,359.98 L342.26,360.07 L344.33,360.27 L346.39,360.46 L348.46,360.55 L350.52,360.17 L352.59,359.30 L354.65,358.32 L356.71,357.62 L358.78,357.22 L360.84,356.86 L362.91,356.52 L364.97,356.22 L367.04,355.94 L369.10,355.69 L371.16,355.46 L373.23,355.24 L375.29,355.04 L377.36,354.86 L379.42,354.68 L381.49,354.51 L383.55,354.36 L385.61,354.21 L387.68,354.07 L389.74,353.94 L391.81,353.82 L393.87,353.70 L395.94,353.58 L398.00,353.47 L400.06,353.37 L402.13,353.26 L404.19,353.16 L406.26,353.05 L408.32,352.94 L410.39,352.83 L412.45,352.72 L414.51,352.60 L416.58,352.66 L418.64,352.73 L420.71,352.80 L422.77,352.87 L424.84,352.94 L426.90,353.01 L428.96,353.08 L431.03,353.15 L433.09,353.22 L435.16,353.30 L437.22,353.37 L439.29,353.44 L441.35,353.52 L443.41,353.60 L445.48,353.67 L447.54,353.75 L449.61,353.83 L451.67,353.91 L453.74,353.99 L455.80,354.07 L457.86,354.15 L459.93,354.23 L461.99,354.30 L464.06,354.38 L466.12,354.45 L468.19,354.53 L470.25,354.59 L472.31,354.66 L474.38,354.72 L476.44,354.78 L478.51,354.84 L480.57,354.89 L482.64,354.95 L484.70,354.99 L486.76,355.04 L488.83,355.09 L490.89,355.13 L492.96,355.18 L495.02,355.23 L497.09,355.28 L499.15,355.33 L501.21,355.39 L503.28,355.46 L505.34,355.54 L507.41,355.63 L509.47,355.73 L511.54,355.85 L513.60,355.99 L515.66,356.15 L517.73,356.33 L519.79,356.53 L521.86,356.76 L523.92,357.01 L525.99,357.30 L528.05,357.61 L530.11,357.95 L532.18,358.32 L534.24,358.71 L536.31,359.13 L538.37,359.57 L540.44,360.04 L542.50,360.51 L544.56,361.01 L546.63,361.51 L548.69,362.02 L550.76,362.53 L552.82,363.05 L554.89,363.57 L556.95,364.08 L559.01,364.59 L561.08,365.09 L563.14,365.58 L565.21,366.07 L567.27,366.55 L569.34,367.03 L571.40,367.49 L573.46,367.95 L575.53,368.40 L577.59,368.85 L579.66,369.28 L581.72,369.72 L583.79,370.14 L585.85,370.56 L587.91,370.98 L589.98,371.39 L592.04,371.80 L594.11,372.20 L596.17,372.60 L598.24,373.00 L600.30,373.40 L602.36,373.79 L604.43,374.19 L606.49,374.59 L608.56,374.99 L610.62,375.39 L612.69,375.79 L614.75,376.19 L616.81,376.59 L618.88,377.00 L620.94,377.40 L623.01,377.80 L625.07,378.21 L627.14,378.61 L629.20,379.01 L631.26,379.41 L633.33,379.80 L635.39,380.20 L637.46,380.58 L639.52,380.97 L641.59,381.35 L643.65,381.72 L645.71,382.09 L647.78,382.46 L649.84,382.82 L651.91,383.17 L653.97,383.52 L656.04,383.87 L658.10,384.21 L660.16,384.55 L662.23,384.89 L664.29,385.22 L666.36,385.56 L668.42,385.88 L670.49,386.21 L672.55,386.54 L674.61,386.87 L676.68,387.19 L678.74,387.52 L680.81,387.84 L682.87,388.17 L684.94,388.49 L687.00,388.81" fill="none" stroke="#9a2030" stroke-width="0.9"/>
<path d="M109.00,376.96 L111.06,376.76 L113.13,376.56 L115.19,376.37 L117.26,376.19 L119.32,376.00 L121.39,375.82 L123.45,375.63 L125.51,375.44 L127.58,375.24 L129.64,375.03 L131.71,374.81 L133.77,374.57 L135.84,374.32 L137.90,374.05 L139.96,373.75 L142.03,373.41 L144.09,373.04 L146.16,372.63 L148.22,372.18 L150.29,371.71 L152.35,371.22 L154.41,370.71 L156.48,370.19 L158.54,369.65 L160.61,369.10 L162.67,368.56 L164.74,368.01 L166.80,367.47 L168.86,366.93 L170.93,366.41 L172.99,365.91 L175.06,365.42 L177.12,364.93 L179.19,364.42 L181.25,363.90 L183.31,363.39 L185.38,362.89 L187.44,362.44 L189.51,362.04 L191.57,361.70 L193.64,361.42 L195.70,361.17 L197.76,360.95 L199.83,360.74 L201.89,360.55 L203.96,360.37 L206.02,360.19 L208.09,360.02 L210.15,359.83 L212.21,359.63 L214.28,359.42 L216.34,359.18 L218.41,358.92 L220.47,358.65 L222.54,358.37 L224.60,358.09 L226.66,357.79 L228.73,357.48 L230.79,357.16 L232.86,356.82 L234.92,356.48 L236.99,356.12 L239.05,355.75 L241.11,355.37 L243.18,354.96 L245.24,354.54 L247.31,354.10 L249.37,353.63 L251.44,353.15 L253.50,352.65 L255.56,352.14 L257.63,351.61 L259.69,351.06 L261.76,350.50 L263.82,349.94 L265.89,349.36 L267.95,348.77 L270.01,348.17 L272.08,347.56 L274.14,346.95 L276.21,346.33 L278.27,345.66 L280.34,344.95 L282.40,344.22 L284.46,343.47 L286.53,342.69 L288.59,341.90 L290.66,341.11 L292.72,340.31 L294.79,339.51 L296.85,338.72 L298.91,337.94 L300.98,337.19 L303.04,336.45 L305.11,335.75 L307.17,335.08 L309.24,334.45 L311.30,333.84 L313.36,333.19 L315.43,332.52 L317.49,331.83 L319.56,331.15 L321.62,330.47 L323.69,329.82 L325.75,329.20 L327.81,328.63 L329.88,328.11 L331.94,327.66 L334.01,327.30 L336.07,327.03 L338.14,326.86 L340.20,326.81 L342.26,327.00 L344.33,327.39 L346.39,327.77 L348.46,327.97 L350.52,327.24 L352.59,325.53 L354.65,323.59 L356.71,322.19 L358.78,321.36 L360.84,320.56 L362.91,319.81 L364.97,319.09 L367.04,318.41 L369.10,317.77 L371.16,317.16 L373.23,316.58 L375.29,316.04 L377.36,315.52 L379.42,315.04 L381.49,314.58 L383.55,314.14 L385.61,313.73 L387.68,313.35 L389.74,312.98 L391.81,312.64 L393.87,312.31 L395.94,312.00 L398.00,311.70 L400.06,311.42 L402.13,311.17 L404.19,310.95 L406.26,310.76 L408.32,310.57 L410.39,310.39 L412.45,310.21 L414.51,310.02 L416.58,309.76 L418.64,309.49 L420.71,309.23 L422.77,308.97 L424.84,308.72 L426.90,308.49 L428.96,308.25 L431.03,308.02 L433.09,307.79 L435.16,307.57 L437.22,307.35 L439.29,307.14 L441.35,306.86 L443.41,306.59 L445.48,306.32 L447.54,306.07 L449.61,305.82 L451.67,305.57 L453.74,305.34 L455.80,305.11 L457.86,304.90 L459.93,304.70 L461.99,304.51 L464.06,304.33 L466.12,304.16 L468.19,304.01 L470.25,303.88 L472.31,303.76 L474.38,303.65 L476.44,303.57 L478.51,303.49 L480.57,303.43 L482.64,303.39 L484.70,303.36 L486.76,303.34 L488.83,303.34 L490.89,303.34 L492.96,303.36 L495.02,303.38 L497.09,303.42 L499.15,303.47 L501.21,303.52 L503.28,303.59 L505.34,303.68 L507.41,303.78 L509.47,303.90 L511.54,304.03 L513.60,304.19 L515.66,304.38 L517.73,304.59 L519.79,304.84 L521.86,305.12 L523.92,305.43 L525.99,305.78 L528.05,306.16 L530.11,306.59 L532.18,307.05 L534.24,307.55 L536.31,308.08 L538.37,308.64 L540.44,309.22 L542.50,309.83 L544.56,310.46 L546.63,311.11 L548.69,311.76 L550.76,312.42 L552.82,313.08 L554.89,313.74 L556.95,314.40 L559.01,315.06 L561.08,315.70 L563.14,316.34 L565.21,316.97 L567.27,317.59 L569.34,318.20 L571.40,318.81 L573.46,319.41 L575.53,320.02 L577.59,320.62 L579.66,321.22 L581.72,321.82 L583.79,322.42 L585.85,323.03 L587.91,323.63 L589.98,324.24 L592.04,324.84 L594.11,325.44 L596.17,326.03 L598.24,326.61 L600.30,327.18 L602.36,327.74 L604.43,328.27 L606.49,328.84 L608.56,329.39 L610.62,329.91 L612.69,330.42 L614.75,330.90 L616.81,331.37 L618.88,331.81 L620.94,332.24 L623.01,332.66 L625.07,333.07 L627.14,333.46 L629.20,333.85 L631.26,334.22 L633.33,334.60 L635.39,334.96 L637.46,335.33 L639.52,335.69 L641.59,336.04 L643.65,336.40 L645.71,336.75 L647.78,337.11 L649.84,337.46 L651.91,337.81 L653.97,338.16 L656.04,338.50 L658.10,338.85 L660.16,339.20 L662.23,339.54 L664.29,339.88 L666.36,340.23 L668.42,340.57 L670.49,340.91 L672.55,341.25 L674.61,341.59 L676.68,341.93 L678.74,342.27 L680.81,342.60 L682.87,342.94 L684.94,343.28 L687.00,343.62" fill="none" stroke="#5a4796" stroke-width="0.9"/>
<path d="M109.00,365.93 L111.06,365.88 L113.13,365.83 L115.19,365.77 L117.26,365.68 L119.32,365.50 L121.39,365.20 L123.45,364.82 L125.51,364.39 L127.58,363.85 L129.64,363.17 L131.71,362.45 L133.77,361.83 L135.84,361.29 L137.90,360.76 L139.96,360.24 L142.03,359.75 L144.09,359.30 L146.16,358.89 L148.22,358.53 L150.29,358.24 L152.35,358.03 L154.41,357.87 L156.48,357.70 L158.54,357.47 L160.61,357.07 L162.67,356.49 L164.74,355.82 L166.80,355.16 L168.86,354.48 L170.93,353.75 L172.99,353.02 L175.06,352.34 L177.12,351.70 L179.19,351.05 L181.25,350.41 L183.31,349.79 L185.38,349.21 L187.44,348.67 L189.51,348.19 L191.57,347.77 L193.64,347.44 L195.70,347.16 L197.76,346.90 L199.83,346.59 L201.89,346.26 L203.96,345.91 L206.02,345.57 L208.09,345.21 L210.15,344.86 L212.21,344.49 L214.28,344.13 L216.34,343.75 L218.41,343.38 L220.47,342.99 L222.54,342.60 L224.60,342.21 L226.66,341.81 L228.73,341.40 L230.79,340.99 L232.86,340.57 L234.92,340.14 L236.99,339.71 L239.05,339.28 L241.11,338.83 L243.18,338.38 L245.24,337.93 L247.31,337.46 L249.37,336.99 L251.44,336.52 L253.50,336.03 L255.56,335.54 L257.63,335.04 L259.69,334.54 L261.76,334.03 L263.82,333.51 L265.89,332.98 L267.95,332.44 L270.01,331.90 L272.08,331.35 L274.14,330.79 L276.21,330.22 L278.27,329.61 L280.34,328.97 L282.40,328.31 L284.46,327.63 L286.53,326.93 L288.59,326.20 L290.66,325.47 L292.72,324.72 L294.79,323.96 L296.85,323.19 L298.91,322.41 L300.98,321.63 L303.04,320.85 L305.11,320.08 L307.17,319.30 L309.24,318.53 L311.30,317.73 L313.36,316.83 L315.43,315.85 L317.49,314.82 L319.56,313.75 L321.62,312.67 L323.69,311.61 L325.75,310.59 L327.81,309.62 L329.88,308.74 L331.94,307.97 L334.01,307.33 L336.07,306.84 L338.14,306.53 L340.20,306.43 L342.26,306.47 L344.33,306.55 L346.39,306.64 L348.46,306.68 L350.52,305.87 L352.59,304.00 L354.65,301.91 L356.71,300.42 L358.78,299.58 L360.84,298.83 L362.91,298.17 L364.97,297.57 L367.04,297.03 L369.10,296.54 L371.16,296.07 L373.23,295.62 L375.29,295.16 L377.36,294.70 L379.42,294.22 L381.49,293.72 L383.55,293.25 L385.61,292.80 L387.68,292.37 L389.74,291.94 L391.81,291.50 L393.87,291.04 L395.94,290.56 L398.00,290.04 L400.06,289.48 L402.13,288.85 L404.19,288.16 L406.26,287.42 L408.32,286.66 L410.39,285.88 L412.45,285.11 L414.51,284.37 L416.58,283.97 L418.64,283.57 L420.71,283.16 L422.77,282.77 L424.84,282.40 L426.90,282.05 L428.96,281.69 L431.03,281.34 L433.09,281.00 L435.16,280.68 L437.22,280.36 L439.29,280.07 L441.35,279.78 L443.41,279.51 L445.48,279.25 L447.54,279.01 L449.61,278.77 L451.67,278.55 L453.74,278.34 L455.80,278.13 L457.86,277.94 L459.93,277.75 L461.99,277.57 L464.06,277.40 L466.12,277.23 L468.19,277.07 L470.25,276.92 L472.31,276.77 L474.38,276.62 L476.44,276.48 L478.51,276.34 L480.57,276.21 L482.64,276.08 L484.70,275.96 L486.76,275.84 L488.83,275.73 L490.89,275.63 L492.96,275.53 L495.02,275.45 L497.09,275.37 L499.15,275.30 L501.21,275.25 L503.28,275.20 L505.34,275.17 L507.41,275.15 L509.47,275.15 L511.54,275.16 L513.60,275.19 L515.66,275.23 L517.73,275.29 L519.79,275.36 L521.86,275.46 L523.92,275.57 L525.99,275.69 L528.05,275.84 L530.11,276.00 L532.18,276.18 L534.24,276.37 L536.31,276.59 L538.37,276.81 L540.44,277.06 L542.50,277.31 L544.56,277.58 L546.63,277.85 L548.69,278.14 L550.76,278.43 L552.82,278.73 L554.89,279.04 L556.95,279.35 L559.01,279.67 L561.08,279.99 L563.14,280.31 L565.21,280.64 L567.27,280.97 L569.34,281.31 L571.40,281.64 L573.46,281.99 L575.53,282.33 L577.59,282.68 L579.66,283.03 L581.72,283.39 L583.79,283.75 L585.85,284.11 L587.91,284.47 L589.98,284.83 L592.04,285.19 L594.11,285.55 L596.17,285.90 L598.24,286.26 L600.30,286.61 L602.36,286.95 L604.43,287.30 L606.49,287.63 L608.56,287.96 L610.62,288.28 L612.69,288.60 L614.75,288.91 L616.81,289.21 L618.88,289.51 L620.94,289.80 L623.01,290.08 L625.07,290.36 L627.14,290.62 L629.20,290.88 L631.26,291.14 L633.33,291.38 L635.39,291.62 L637.46,291.85 L639.52,292.07 L641.59,292.28 L643.65,292.48 L645.71,292.68 L647.78,292.87 L649.84,293.05 L651.91,293.23 L653.97,293.40 L656.04,293.56 L658.10,293.72 L660.16,293.87 L662.23,294.02 L664.29,294.17 L666.36,294.31 L668.42,294.45 L670.49,294.59 L672.55,294.72 L674.61,294.86 L676.68,294.99 L678.74,295.12 L680.81,295.26 L682.87,295.39 L684.94,295.52 L687.00,295.65" fill="none" stroke="#0a3c7a" stroke-width="1.3"/></g>
<g clip-path="url(#clF)"><path d="M109.00,392.61 L111.06,392.42 L113.13,392.22 L115.19,392.02 L117.26,391.82 L119.32,391.62 L121.39,391.42 L123.45,391.21 L125.51,391.01 L127.58,390.81 L129.64,390.61 L131.71,390.41 L133.77,390.21 L135.84,390.02 L137.90,389.82 L139.96,389.64 L142.03,389.45 L144.09,389.27 L146.16,389.10 L148.22,388.93 L150.29,388.76 L152.35,388.60 L154.41,388.45 L156.48,388.31 L158.54,388.17 L160.61,388.03 L162.67,387.90 L164.74,387.76 L166.80,387.64 L168.86,387.51 L170.93,387.38 L172.99,387.25 L175.06,387.13 L177.12,387.00 L179.19,386.87 L181.25,386.73 L183.31,386.59 L185.38,386.45 L187.44,386.30 L189.51,386.15 L191.57,385.99 L193.64,385.82 L195.70,385.64 L197.76,385.46 L199.83,385.26 L201.89,385.06 L203.96,384.86 L206.02,384.65 L208.09,384.45 L210.15,384.24 L212.21,384.04 L214.28,383.85 L216.34,383.66 L218.41,383.48 L220.47,383.31 L222.54,383.15 L224.60,383.00 L226.66,382.85 L228.73,382.72 L230.79,382.58 L232.86,382.46 L234.92,382.33 L236.99,382.21 L239.05,382.09 L241.11,381.98 L243.18,381.86 L245.24,381.74 L247.31,381.62 L249.37,381.50 L251.44,381.37 L253.50,381.25 L255.56,381.11 L257.63,380.97 L259.69,380.82 L261.76,380.67 L263.82,380.51 L265.89,380.33 L267.95,380.15 L270.01,379.96 L272.08,379.75 L274.14,379.53 L276.21,379.28 L278.27,378.97 L280.34,378.63 L282.40,378.24 L284.46,377.82 L286.53,377.37 L288.59,376.90 L290.66,376.41 L292.72,375.91 L294.79,375.40 L296.85,374.89 L298.91,374.38 L300.98,373.88 L303.04,373.39 L305.11,372.93 L307.17,372.48 L309.24,372.07 L311.30,371.68 L313.36,371.32 L315.43,370.97 L317.49,370.62 L319.56,370.28 L321.62,369.94 L323.69,369.58 L325.75,369.20 L327.81,368.81 L329.88,368.31 L331.94,367.71 L334.01,367.09 L336.07,366.53 L338.14,366.14 L340.20,365.99 L342.26,366.07 L344.33,366.27 L346.39,366.46 L348.46,366.55 L350.52,366.19 L352.59,365.35 L354.65,364.38 L356.71,363.63 L358.78,363.11 L360.84,362.60 L362.91,362.11 L364.97,361.65 L367.04,361.21 L369.10,360.81 L371.16,360.44 L373.23,360.11 L375.29,359.84 L377.36,359.61 L379.42,359.44 L381.49,359.32 L383.55,359.22 L385.61,359.12 L387.68,359.03 L389.74,358.95 L391.81,358.88 L393.87,358.81 L395.94,358.75 L398.00,358.69 L400.06,358.64 L402.13,358.59 L404.19,358.53 L406.26,358.48 L408.32,358.43 L410.39,358.37 L412.45,358.31 L414.51,358.24 L416.58,358.28 L418.64,358.32 L420.71,358.36 L422.77,358.41 L424.84,358.45 L426.90,358.50 L428.96,358.55 L431.03,358.60 L433.09,358.65 L435.16,358.70 L437.22,358.75 L439.29,358.81 L441.35,358.87 L443.41,358.93 L445.48,359.00 L447.54,359.06 L449.61,359.13 L451.67,359.20 L453.74,359.28 L455.80,359.35 L457.86,359.43 L459.93,359.51 L461.99,359.59 L464.06,359.67 L466.12,359.75 L468.19,359.83 L470.25,359.91 L472.31,359.99 L474.38,360.07 L476.44,360.14 L478.51,360.22 L480.57,360.29 L482.64,360.37 L484.70,360.44 L486.76,360.51 L488.83,360.59 L490.89,360.66 L492.96,360.74 L495.02,360.81 L497.09,360.89 L499.15,360.98 L501.21,361.07 L503.28,361.17 L505.34,361.28 L507.41,361.39 L509.47,361.52 L511.54,361.67 L513.60,361.82 L515.66,361.99 L517.73,362.18 L519.79,362.39 L521.86,362.62 L523.92,362.87 L525.99,363.14 L528.05,363.43 L530.11,363.75 L532.18,364.08 L534.24,364.44 L536.31,364.81 L538.37,365.20 L540.44,365.60 L542.50,366.02 L544.56,366.45 L546.63,366.89 L548.69,367.33 L550.76,367.78 L552.82,368.24 L554.89,368.70 L556.95,369.15 L559.01,369.61 L561.08,370.07 L563.14,370.52 L565.21,370.98 L567.27,371.43 L569.34,371.88 L571.40,372.33 L573.46,372.78 L575.53,373.23 L577.59,373.69 L579.66,374.14 L581.72,374.59 L583.79,375.05 L585.85,375.51 L587.91,375.97 L589.98,376.44 L592.04,376.90 L594.11,377.37 L596.17,377.83 L598.24,378.30 L600.30,378.77 L602.36,379.23 L604.43,379.70 L606.49,380.16 L608.56,380.61 L610.62,381.07 L612.69,381.52 L614.75,381.97 L616.81,382.41 L618.88,382.84 L620.94,383.28 L623.01,383.71 L625.07,384.13 L627.14,384.55 L629.20,384.96 L631.26,385.37 L633.33,385.78 L635.39,386.18 L637.46,386.57 L639.52,386.96 L641.59,387.34 L643.65,387.72 L645.71,388.09 L647.78,388.46 L649.84,388.82 L651.91,389.18 L653.97,389.53 L656.04,389.88 L658.10,390.23 L660.16,390.57 L662.23,390.90 L664.29,391.24 L666.36,391.57 L668.42,391.90 L670.49,392.23 L672.55,392.55 L674.61,392.88 L676.68,393.20 L678.74,393.52 L680.81,393.85 L682.87,394.17 L684.94,394.49 L687.00,394.82 L687.00,408.00 L684.94,408.00 L682.87,408.00 L680.81,408.00 L678.74,408.00 L676.68,408.00 L674.61,408.00 L672.55,408.00 L670.49,408.00 L668.42,408.00 L666.36,408.00 L664.29,408.00 L662.23,408.00 L660.16,408.00 L658.10,408.00 L656.04,408.00 L653.97,408.00 L651.91,408.00 L649.84,408.00 L647.78,408.00 L645.71,408.00 L643.65,408.00 L641.59,408.00 L639.52,408.00 L637.46,408.00 L635.39,408.00 L633.33,408.00 L631.26,408.00 L629.20,408.00 L627.14,408.00 L625.07,408.00 L623.01,408.00 L620.94,408.00 L618.88,408.00 L616.81,408.00 L614.75,408.00 L612.69,408.00 L610.62,408.00 L608.56,408.00 L606.49,408.00 L604.43,408.00 L602.36,408.00 L600.30,408.00 L598.24,408.00 L596.17,408.00 L594.11,408.00 L592.04,408.00 L589.98,408.00 L587.91,408.00 L585.85,408.00 L583.79,408.00 L581.72,408.00 L579.66,408.00 L577.59,408.00 L575.53,408.00 L573.46,408.00 L571.40,408.00 L569.34,408.00 L567.27,408.00 L565.21,408.00 L563.14,408.00 L561.08,408.00 L559.01,408.00 L556.95,408.00 L554.89,408.00 L552.82,408.00 L550.76,408.00 L548.69,408.00 L546.63,408.00 L544.56,408.00 L542.50,408.00 L540.44,408.00 L538.37,408.00 L536.31,408.00 L534.24,408.00 L532.18,408.00 L530.11,408.00 L528.05,408.00 L525.99,408.00 L523.92,408.00 L521.86,408.00 L519.79,408.00 L517.73,408.00 L515.66,408.00 L513.60,408.00 L511.54,408.00 L509.47,408.00 L507.41,408.00 L505.34,408.00 L503.28,408.00 L501.21,408.00 L499.15,408.00 L497.09,408.00 L495.02,408.00 L492.96,408.00 L490.89,408.00 L488.83,408.00 L486.76,408.00 L484.70,408.00 L482.64,408.00 L480.57,408.00 L478.51,408.00 L476.44,408.00 L474.38,408.00 L472.31,408.00 L470.25,408.00 L468.19,408.00 L466.12,408.00 L464.06,408.00 L461.99,408.00 L459.93,408.00 L457.86,408.00 L455.80,408.00 L453.74,408.00 L451.67,408.00 L449.61,408.00 L447.54,408.00 L445.48,408.00 L443.41,408.00 L441.35,408.00 L439.29,408.00 L437.22,408.00 L435.16,408.00 L433.09,408.00 L431.03,408.00 L428.96,408.00 L426.90,408.00 L424.84,408.00 L422.77,408.00 L420.71,408.00 L418.64,408.00 L416.58,408.00 L414.51,408.00 L412.45,408.00 L410.39,408.00 L408.32,408.00 L406.26,408.00 L404.19,408.00 L402.13,408.00 L400.06,408.00 L398.00,408.00 L395.94,408.00 L393.87,408.00 L391.81,408.00 L389.74,408.00 L387.68,408.00 L385.61,408.00 L383.55,408.00 L381.49,408.00 L379.42,408.00 L377.36,408.00 L375.29,408.00 L373.23,408.00 L371.16,408.00 L369.10,408.00 L367.04,408.00 L364.97,408.00 L362.91,408.00 L360.84,408.00 L358.78,408.00 L356.71,408.00 L354.65,408.00 L352.59,408.00 L350.52,408.00 L348.46,408.00 L346.39,408.00 L344.33,408.00 L342.26,408.00 L340.20,408.00 L338.14,408.00 L336.07,408.00 L334.01,408.00 L331.94,408.00 L329.88,408.00 L327.81,408.00 L325.75,408.00 L323.69,408.00 L321.62,408.00 L319.56,408.00 L317.49,408.00 L315.43,408.00 L313.36,408.00 L311.30,408.00 L309.24,408.00 L307.17,408.00 L305.11,408.00 L303.04,408.00 L300.98,408.00 L298.91,408.00 L296.85,408.00 L294.79,408.00 L292.72,408.00 L290.66,408.00 L288.59,408.00 L286.53,408.00 L284.46,408.00 L282.40,408.00 L280.34,408.00 L278.27,408.00 L276.21,408.00 L274.14,408.00 L272.08,408.00 L270.01,408.00 L267.95,408.00 L265.89,408.00 L263.82,408.00 L261.76,408.00 L259.69,408.00 L257.63,408.00 L255.56,408.00 L253.50,408.00 L251.44,408.00 L249.37,408.00 L247.31,408.00 L245.24,408.00 L243.18,408.00 L241.11,408.00 L239.05,408.00 L236.99,408.00 L234.92,408.00 L232.86,408.00 L230.79,408.00 L228.73,408.00 L226.66,408.00 L224.60,408.00 L222.54,408.00 L220.47,408.00 L218.41,408.00 L216.34,408.00 L214.28,408.00 L212.21,408.00 L210.15,408.00 L208.09,408.00 L206.02,408.00 L203.96,408.00 L201.89,408.00 L199.83,408.00 L197.76,408.00 L195.70,408.00 L193.64,408.00 L191.57,408.00 L189.51,408.00 L187.44,408.00 L185.38,408.00 L183.31,408.00 L181.25,408.00 L179.19,408.00 L177.12,408.00 L175.06,408.00 L172.99,408.00 L170.93,408.00 L168.86,408.00 L166.80,408.00 L164.74,408.00 L162.67,408.00 L160.61,408.00 L158.54,408.00 L156.48,408.00 L154.41,408.00 L152.35,408.00 L150.29,408.00 L148.22,408.00 L146.16,408.00 L144.09,408.00 L142.03,408.00 L139.96,408.00 L137.90,408.00 L135.84,408.00 L133.77,408.00 L131.71,408.00 L129.64,408.00 L127.58,408.00 L125.51,408.00 L123.45,408.00 L121.39,408.00 L119.32,408.00 L117.26,408.00 L115.19,408.00 L113.13,408.00 L111.06,408.00 L109.00,408.00Z" fill="#414346"/>
<path d="M109.00,384.20 L111.06,384.02 L113.13,383.84 L115.19,383.66 L117.26,383.48 L119.32,383.30 L121.39,383.12 L123.45,382.94 L125.51,382.76 L127.58,382.58 L129.64,382.40 L131.71,382.22 L133.77,382.04 L135.84,381.86 L137.90,381.68 L139.96,381.50 L142.03,381.32 L144.09,381.14 L146.16,380.96 L148.22,380.78 L150.29,380.61 L152.35,380.42 L154.41,380.23 L156.48,380.04 L158.54,379.85 L160.61,379.66 L162.67,379.48 L164.74,379.30 L166.80,379.14 L168.86,378.99 L170.93,378.86 L172.99,378.74 L175.06,378.63 L177.12,378.52 L179.19,378.42 L181.25,378.33 L183.31,378.24 L185.38,378.15 L187.44,378.07 L189.51,377.99 L191.57,377.91 L193.64,377.83 L195.70,377.75 L197.76,377.68 L199.83,377.60 L201.89,377.52 L203.96,377.44 L206.02,377.36 L208.09,377.27 L210.15,377.18 L212.21,377.09 L214.28,376.99 L216.34,376.89 L218.41,376.78 L220.47,376.66 L222.54,376.54 L224.60,376.42 L226.66,376.30 L228.73,376.18 L230.79,376.06 L232.86,375.93 L234.92,375.80 L236.99,375.67 L239.05,375.53 L241.11,375.39 L243.18,375.25 L245.24,375.10 L247.31,374.94 L249.37,374.79 L251.44,374.62 L253.50,374.45 L255.56,374.28 L257.63,374.09 L259.69,373.90 L261.76,373.70 L263.82,373.50 L265.89,373.29 L267.95,373.06 L270.01,372.83 L272.08,372.60 L274.14,372.35 L276.21,372.05 L278.27,371.69 L280.34,371.26 L282.40,370.79 L284.46,370.27 L286.53,369.71 L288.59,369.14 L290.66,368.55 L292.72,367.95 L294.79,367.37 L296.85,366.79 L298.91,366.25 L300.98,365.74 L303.04,365.27 L305.11,364.86 L307.17,364.51 L309.24,364.24 L311.30,364.03 L313.36,363.87 L315.43,363.73 L317.49,363.61 L319.56,363.50 L321.62,363.38 L323.69,363.24 L325.75,363.07 L327.81,362.86 L329.88,362.48 L331.94,361.90 L334.01,361.24 L336.07,360.62 L338.14,360.16 L340.20,359.98 L342.26,360.07 L344.33,360.27 L346.39,360.46 L348.46,360.55 L350.52,360.17 L352.59,359.30 L354.65,358.32 L356.71,357.62 L358.78,357.22 L360.84,356.86 L362.91,356.52 L364.97,356.22 L367.04,355.94 L369.10,355.69 L371.16,355.46 L373.23,355.24 L375.29,355.04 L377.36,354.86 L379.42,354.68 L381.49,354.51 L383.55,354.36 L385.61,354.21 L387.68,354.07 L389.74,353.94 L391.81,353.82 L393.87,353.70 L395.94,353.58 L398.00,353.47 L400.06,353.37 L402.13,353.26 L404.19,353.16 L406.26,353.05 L408.32,352.94 L410.39,352.83 L412.45,352.72 L414.51,352.60 L416.58,352.66 L418.64,352.73 L420.71,352.80 L422.77,352.87 L424.84,352.94 L426.90,353.01 L428.96,353.08 L431.03,353.15 L433.09,353.22 L435.16,353.30 L437.22,353.37 L439.29,353.44 L441.35,353.52 L443.41,353.60 L445.48,353.67 L447.54,353.75 L449.61,353.83 L451.67,353.91 L453.74,353.99 L455.80,354.07 L457.86,354.15 L459.93,354.23 L461.99,354.30 L464.06,354.38 L466.12,354.45 L468.19,354.53 L470.25,354.59 L472.31,354.66 L474.38,354.72 L476.44,354.78 L478.51,354.84 L480.57,354.89 L482.64,354.95 L484.70,354.99 L486.76,355.04 L488.83,355.09 L490.89,355.13 L492.96,355.18 L495.02,355.23 L497.09,355.28 L499.15,355.33 L501.21,355.39 L503.28,355.46 L505.34,355.54 L507.41,355.63 L509.47,355.73 L511.54,355.85 L513.60,355.99 L515.66,356.15 L517.73,356.33 L519.79,356.53 L521.86,356.76 L523.92,357.01 L525.99,357.30 L528.05,357.61 L530.11,357.95 L532.18,358.32 L534.24,358.71 L536.31,359.13 L538.37,359.57 L540.44,360.04 L542.50,360.51 L544.56,361.01 L546.63,361.51 L548.69,362.02 L550.76,362.53 L552.82,363.05 L554.89,363.57 L556.95,364.08 L559.01,364.59 L561.08,365.09 L563.14,365.58 L565.21,366.07 L567.27,366.55 L569.34,367.03 L571.40,367.49 L573.46,367.95 L575.53,368.40 L577.59,368.85 L579.66,369.28 L581.72,369.72 L583.79,370.14 L585.85,370.56 L587.91,370.98 L589.98,371.39 L592.04,371.80 L594.11,372.20 L596.17,372.60 L598.24,373.00 L600.30,373.40 L602.36,373.79 L604.43,374.19 L606.49,374.59 L608.56,374.99 L610.62,375.39 L612.69,375.79 L614.75,376.19 L616.81,376.59 L618.88,377.00 L620.94,377.40 L623.01,377.80 L625.07,378.21 L627.14,378.61 L629.20,379.01 L631.26,379.41 L633.33,379.80 L635.39,380.20 L637.46,380.58 L639.52,380.97 L641.59,381.35 L643.65,381.72 L645.71,382.09 L647.78,382.46 L649.84,382.82 L651.91,383.17 L653.97,383.52 L656.04,383.87 L658.10,384.21 L660.16,384.55 L662.23,384.89 L664.29,385.22 L666.36,385.56 L668.42,385.88 L670.49,386.21 L672.55,386.54 L674.61,386.87 L676.68,387.19 L678.74,387.52 L680.81,387.84 L682.87,388.17 L684.94,388.49 L687.00,388.81 L687.00,394.82 L684.94,394.49 L682.87,394.17 L680.81,393.85 L678.74,393.52 L676.68,393.20 L674.61,392.88 L672.55,392.55 L670.49,392.23 L668.42,391.90 L666.36,391.57 L664.29,391.24 L662.23,390.90 L660.16,390.57 L658.10,390.23 L656.04,389.88 L653.97,389.53 L651.91,389.18 L649.84,388.82 L647.78,388.46 L645.71,388.09 L643.65,387.72 L641.59,387.34 L639.52,386.96 L637.46,386.57 L635.39,386.18 L633.33,385.78 L631.26,385.37 L629.20,384.96 L627.14,384.55 L625.07,384.13 L623.01,383.71 L620.94,383.28 L618.88,382.84 L616.81,382.41 L614.75,381.97 L612.69,381.52 L610.62,381.07 L608.56,380.61 L606.49,380.16 L604.43,379.70 L602.36,379.23 L600.30,378.77 L598.24,378.30 L596.17,377.83 L594.11,377.37 L592.04,376.90 L589.98,376.44 L587.91,375.97 L585.85,375.51 L583.79,375.05 L581.72,374.59 L579.66,374.14 L577.59,373.69 L575.53,373.23 L573.46,372.78 L571.40,372.33 L569.34,371.88 L567.27,371.43 L565.21,370.98 L563.14,370.52 L561.08,370.07 L559.01,369.61 L556.95,369.15 L554.89,368.70 L552.82,368.24 L550.76,367.78 L548.69,367.33 L546.63,366.89 L544.56,366.45 L542.50,366.02 L540.44,365.60 L538.37,365.20 L536.31,364.81 L534.24,364.44 L532.18,364.08 L530.11,363.75 L528.05,363.43 L525.99,363.14 L523.92,362.87 L521.86,362.62 L519.79,362.39 L517.73,362.18 L515.66,361.99 L513.60,361.82 L511.54,361.67 L509.47,361.52 L507.41,361.39 L505.34,361.28 L503.28,361.17 L501.21,361.07 L499.15,360.98 L497.09,360.89 L495.02,360.81 L492.96,360.74 L490.89,360.66 L488.83,360.59 L486.76,360.51 L484.70,360.44 L482.64,360.37 L480.57,360.29 L478.51,360.22 L476.44,360.14 L474.38,360.07 L472.31,359.99 L470.25,359.91 L468.19,359.83 L466.12,359.75 L464.06,359.67 L461.99,359.59 L459.93,359.51 L457.86,359.43 L455.80,359.35 L453.74,359.28 L451.67,359.20 L449.61,359.13 L447.54,359.06 L445.48,359.00 L443.41,358.93 L441.35,358.87 L439.29,358.81 L437.22,358.75 L435.16,358.70 L433.09,358.65 L431.03,358.60 L428.96,358.55 L426.90,358.50 L424.84,358.45 L422.77,358.41 L420.71,358.36 L418.64,358.32 L416.58,358.28 L414.51,358.24 L412.45,358.31 L410.39,358.37 L408.32,358.43 L406.26,358.48 L404.19,358.53 L402.13,358.59 L400.06,358.64 L398.00,358.69 L395.94,358.75 L393.87,358.81 L391.81,358.88 L389.74,358.95 L387.68,359.03 L385.61,359.12 L383.55,359.22 L381.49,359.32 L379.42,359.44 L377.36,359.61 L375.29,359.84 L373.23,360.11 L371.16,360.44 L369.10,360.81 L367.04,361.21 L364.97,361.65 L362.91,362.11 L360.84,362.60 L358.78,363.11 L356.71,363.63 L354.65,364.38 L352.59,365.35 L350.52,366.19 L348.46,366.55 L346.39,366.46 L344.33,366.27 L342.26,366.07 L340.20,365.99 L338.14,366.14 L336.07,366.53 L334.01,367.09 L331.94,367.71 L329.88,368.31 L327.81,368.81 L325.75,369.20 L323.69,369.58 L321.62,369.94 L319.56,370.28 L317.49,370.62 L315.43,370.97 L313.36,371.32 L311.30,371.68 L309.24,372.07 L307.17,372.48 L305.11,372.93 L303.04,373.39 L300.98,373.88 L298.91,374.38 L296.85,374.89 L294.79,375.40 L292.72,375.91 L290.66,376.41 L288.59,376.90 L286.53,377.37 L284.46,377.82 L282.40,378.24 L280.34,378.63 L278.27,378.97 L276.21,379.28 L274.14,379.53 L272.08,379.75 L270.01,379.96 L267.95,380.15 L265.89,380.33 L263.82,380.51 L261.76,380.67 L259.69,380.82 L257.63,380.97 L255.56,381.11 L253.50,381.25 L251.44,381.37 L249.37,381.50 L247.31,381.62 L245.24,381.74 L243.18,381.86 L241.11,381.98 L239.05,382.09 L236.99,382.21 L234.92,382.33 L232.86,382.46 L230.79,382.58 L228.73,382.72 L226.66,382.85 L224.60,383.00 L222.54,383.15 L220.47,383.31 L218.41,383.48 L216.34,383.66 L214.28,383.85 L212.21,384.04 L210.15,384.24 L208.09,384.45 L206.02,384.65 L203.96,384.86 L201.89,385.06 L199.83,385.26 L197.76,385.46 L195.70,385.64 L193.64,385.82 L191.57,385.99 L189.51,386.15 L187.44,386.30 L185.38,386.45 L183.31,386.59 L181.25,386.73 L179.19,386.87 L177.12,387.00 L175.06,387.13 L172.99,387.25 L170.93,387.38 L168.86,387.51 L166.80,387.64 L164.74,387.76 L162.67,387.90 L160.61,388.03 L158.54,388.17 L156.48,388.31 L154.41,388.45 L152.35,388.60 L150.29,388.76 L148.22,388.93 L146.16,389.10 L144.09,389.27 L142.03,389.45 L139.96,389.64 L137.90,389.82 L135.84,390.02 L133.77,390.21 L131.71,390.41 L129.64,390.61 L127.58,390.81 L125.51,391.01 L123.45,391.21 L121.39,391.42 L119.32,391.62 L117.26,391.82 L115.19,392.02 L113.13,392.22 L111.06,392.42 L109.00,392.61Z" fill="#d4646e"/>
<path d="M109.00,378.61 L111.06,378.46 L113.13,378.31 L115.19,378.17 L117.26,378.02 L119.32,377.88 L121.39,377.73 L123.45,377.58 L125.51,377.44 L127.58,377.29 L129.64,377.15 L131.71,377.00 L133.77,376.86 L135.84,376.71 L137.90,376.56 L139.96,376.42 L142.03,376.27 L144.09,376.12 L146.16,375.98 L148.22,375.83 L150.29,375.68 L152.35,375.54 L154.41,375.39 L156.48,375.25 L158.54,375.11 L160.61,374.97 L162.67,374.83 L164.74,374.69 L166.80,374.54 L168.86,374.39 L170.93,374.23 L172.99,374.06 L175.06,373.89 L177.12,373.70 L179.19,373.51 L181.25,373.31 L183.31,373.10 L185.38,372.88 L187.44,372.66 L189.51,372.42 L191.57,372.18 L193.64,371.93 L195.70,371.67 L197.76,371.40 L199.83,371.12 L201.89,370.82 L203.96,370.49 L206.02,370.14 L208.09,369.77 L210.15,369.39 L212.21,369.01 L214.28,368.62 L216.34,368.23 L218.41,367.85 L220.47,367.48 L222.54,367.12 L224.60,366.76 L226.66,366.41 L228.73,366.06 L230.79,365.72 L232.86,365.38 L234.92,365.04 L236.99,364.70 L239.05,364.36 L241.11,364.01 L243.18,363.67 L245.24,363.33 L247.31,362.98 L249.37,362.62 L251.44,362.26 L253.50,361.90 L255.56,361.53 L257.63,361.15 L259.69,360.76 L261.76,360.36 L263.82,359.95 L265.89,359.53 L267.95,359.10 L270.01,358.66 L272.08,358.20 L274.14,357.73 L276.21,357.22 L278.27,356.68 L280.34,356.10 L282.40,355.48 L284.46,354.84 L286.53,354.18 L288.59,353.50 L290.66,352.81 L292.72,352.11 L294.79,351.42 L296.85,350.72 L298.91,350.04 L300.98,349.36 L303.04,348.71 L305.11,348.08 L307.17,347.48 L309.24,346.91 L311.30,346.35 L313.36,345.76 L315.43,345.14 L317.49,344.51 L319.56,343.87 L321.62,343.25 L323.69,342.64 L325.75,342.06 L327.81,341.52 L329.88,341.03 L331.94,340.61 L334.01,340.26 L336.07,339.99 L338.14,339.83 L340.20,339.77 L342.26,339.81 L344.33,339.90 L346.39,339.99 L348.46,340.03 L350.52,339.56 L352.59,338.47 L354.65,337.19 L356.71,336.18 L358.78,335.48 L360.84,334.83 L362.91,334.23 L364.97,333.66 L367.04,333.13 L369.10,332.61 L371.16,332.12 L373.23,331.63 L375.29,331.14 L377.36,330.64 L379.42,330.13 L381.49,329.60 L383.55,329.06 L385.61,328.52 L387.68,327.98 L389.74,327.45 L391.81,326.93 L393.87,326.43 L395.94,325.95 L398.00,325.49 L400.06,325.07 L402.13,324.67 L404.19,324.30 L406.26,323.95 L408.32,323.61 L410.39,323.27 L412.45,322.93 L414.51,322.59 L416.58,322.34 L418.64,322.10 L420.71,321.85 L422.77,321.61 L424.84,321.38 L426.90,321.16 L428.96,320.94 L431.03,320.72 L433.09,320.50 L435.16,320.29 L437.22,320.09 L439.29,319.89 L441.35,319.70 L443.41,319.51 L445.48,319.33 L447.54,319.16 L449.61,318.99 L451.67,318.83 L453.74,318.67 L455.80,318.52 L457.86,318.38 L459.93,318.24 L461.99,318.12 L464.06,318.00 L466.12,317.89 L468.19,317.79 L470.25,317.70 L472.31,317.61 L474.38,317.54 L476.44,317.48 L478.51,317.42 L480.57,317.38 L482.64,317.34 L484.70,317.31 L486.76,317.29 L488.83,317.28 L490.89,317.27 L492.96,317.27 L495.02,317.28 L497.09,317.30 L499.15,317.33 L501.21,317.37 L503.28,317.43 L505.34,317.50 L507.41,317.59 L509.47,317.70 L511.54,317.84 L513.60,318.01 L515.66,318.20 L517.73,318.43 L519.79,318.69 L521.86,318.99 L523.92,319.33 L525.99,319.70 L528.05,320.12 L530.11,320.56 L532.18,321.05 L534.24,321.57 L536.31,322.12 L538.37,322.69 L540.44,323.29 L542.50,323.91 L544.56,324.53 L546.63,325.17 L548.69,325.81 L550.76,326.45 L552.82,327.09 L554.89,327.72 L556.95,328.33 L559.01,328.93 L561.08,329.52 L563.14,330.09 L565.21,330.64 L567.27,331.17 L569.34,331.70 L571.40,332.20 L573.46,332.70 L575.53,333.18 L577.59,333.66 L579.66,334.13 L581.72,334.59 L583.79,335.06 L585.85,335.52 L587.91,335.98 L589.98,336.44 L592.04,336.90 L594.11,337.35 L596.17,337.81 L598.24,338.27 L600.30,338.72 L602.36,339.17 L604.43,339.62 L606.49,340.06 L608.56,340.50 L610.62,340.93 L612.69,341.35 L614.75,341.77 L616.81,342.18 L618.88,342.59 L620.94,342.99 L623.01,343.38 L625.07,343.77 L627.14,344.15 L629.20,344.53 L631.26,344.91 L633.33,345.27 L635.39,345.64 L637.46,346.00 L639.52,346.35 L641.59,346.70 L643.65,347.05 L645.71,347.39 L647.78,347.72 L649.84,348.06 L651.91,348.39 L653.97,348.71 L656.04,349.03 L658.10,349.35 L660.16,349.67 L662.23,349.98 L664.29,350.29 L666.36,350.60 L668.42,350.90 L670.49,351.21 L672.55,351.51 L674.61,351.82 L676.68,352.12 L678.74,352.42 L680.81,352.72 L682.87,353.02 L684.94,353.32 L687.00,353.62 L687.00,388.81 L684.94,388.49 L682.87,388.17 L680.81,387.84 L678.74,387.52 L676.68,387.19 L674.61,386.87 L672.55,386.54 L670.49,386.21 L668.42,385.88 L666.36,385.56 L664.29,385.22 L662.23,384.89 L660.16,384.55 L658.10,384.21 L656.04,383.87 L653.97,383.52 L651.91,383.17 L649.84,382.82 L647.78,382.46 L645.71,382.09 L643.65,381.72 L641.59,381.35 L639.52,380.97 L637.46,380.58 L635.39,380.20 L633.33,379.80 L631.26,379.41 L629.20,379.01 L627.14,378.61 L625.07,378.21 L623.01,377.80 L620.94,377.40 L618.88,377.00 L616.81,376.59 L614.75,376.19 L612.69,375.79 L610.62,375.39 L608.56,374.99 L606.49,374.59 L604.43,374.19 L602.36,373.79 L600.30,373.40 L598.24,373.00 L596.17,372.60 L594.11,372.20 L592.04,371.80 L589.98,371.39 L587.91,370.98 L585.85,370.56 L583.79,370.14 L581.72,369.72 L579.66,369.28 L577.59,368.85 L575.53,368.40 L573.46,367.95 L571.40,367.49 L569.34,367.03 L567.27,366.55 L565.21,366.07 L563.14,365.58 L561.08,365.09 L559.01,364.59 L556.95,364.08 L554.89,363.57 L552.82,363.05 L550.76,362.53 L548.69,362.02 L546.63,361.51 L544.56,361.01 L542.50,360.51 L540.44,360.04 L538.37,359.57 L536.31,359.13 L534.24,358.71 L532.18,358.32 L530.11,357.95 L528.05,357.61 L525.99,357.30 L523.92,357.01 L521.86,356.76 L519.79,356.53 L517.73,356.33 L515.66,356.15 L513.60,355.99 L511.54,355.85 L509.47,355.73 L507.41,355.63 L505.34,355.54 L503.28,355.46 L501.21,355.39 L499.15,355.33 L497.09,355.28 L495.02,355.23 L492.96,355.18 L490.89,355.13 L488.83,355.09 L486.76,355.04 L484.70,354.99 L482.64,354.95 L480.57,354.89 L478.51,354.84 L476.44,354.78 L474.38,354.72 L472.31,354.66 L470.25,354.59 L468.19,354.53 L466.12,354.45 L464.06,354.38 L461.99,354.30 L459.93,354.23 L457.86,354.15 L455.80,354.07 L453.74,353.99 L451.67,353.91 L449.61,353.83 L447.54,353.75 L445.48,353.67 L443.41,353.60 L441.35,353.52 L439.29,353.44 L437.22,353.37 L435.16,353.30 L433.09,353.22 L431.03,353.15 L428.96,353.08 L426.90,353.01 L424.84,352.94 L422.77,352.87 L420.71,352.80 L418.64,352.73 L416.58,352.66 L414.51,352.60 L412.45,352.72 L410.39,352.83 L408.32,352.94 L406.26,353.05 L404.19,353.16 L402.13,353.26 L400.06,353.37 L398.00,353.47 L395.94,353.58 L393.87,353.70 L391.81,353.82 L389.74,353.94 L387.68,354.07 L385.61,354.21 L383.55,354.36 L381.49,354.51 L379.42,354.68 L377.36,354.86 L375.29,355.04 L373.23,355.24 L371.16,355.46 L369.10,355.69 L367.04,355.94 L364.97,356.22 L362.91,356.52 L360.84,356.86 L358.78,357.22 L356.71,357.62 L354.65,358.32 L352.59,359.30 L350.52,360.17 L348.46,360.55 L346.39,360.46 L344.33,360.27 L342.26,360.07 L340.20,359.98 L338.14,360.16 L336.07,360.62 L334.01,361.24 L331.94,361.90 L329.88,362.48 L327.81,362.86 L325.75,363.07 L323.69,363.24 L321.62,363.38 L319.56,363.50 L317.49,363.61 L315.43,363.73 L313.36,363.87 L311.30,364.03 L309.24,364.24 L307.17,364.51 L305.11,364.86 L303.04,365.27 L300.98,365.74 L298.91,366.25 L296.85,366.79 L294.79,367.37 L292.72,367.95 L290.66,368.55 L288.59,369.14 L286.53,369.71 L284.46,370.27 L282.40,370.79 L280.34,371.26 L278.27,371.69 L276.21,372.05 L274.14,372.35 L272.08,372.60 L270.01,372.83 L267.95,373.06 L265.89,373.29 L263.82,373.50 L261.76,373.70 L259.69,373.90 L257.63,374.09 L255.56,374.28 L253.50,374.45 L251.44,374.62 L249.37,374.79 L247.31,374.94 L245.24,375.10 L243.18,375.25 L241.11,375.39 L239.05,375.53 L236.99,375.67 L234.92,375.80 L232.86,375.93 L230.79,376.06 L228.73,376.18 L226.66,376.30 L224.60,376.42 L222.54,376.54 L220.47,376.66 L218.41,376.78 L216.34,376.89 L214.28,376.99 L212.21,377.09 L210.15,377.18 L208.09,377.27 L206.02,377.36 L203.96,377.44 L201.89,377.52 L199.83,377.60 L197.76,377.68 L195.70,377.75 L193.64,377.83 L191.57,377.91 L189.51,377.99 L187.44,378.07 L185.38,378.15 L183.31,378.24 L181.25,378.33 L179.19,378.42 L177.12,378.52 L175.06,378.63 L172.99,378.74 L170.93,378.86 L168.86,378.99 L166.80,379.14 L164.74,379.30 L162.67,379.48 L160.61,379.66 L158.54,379.85 L156.48,380.04 L154.41,380.23 L152.35,380.42 L150.29,380.61 L148.22,380.78 L146.16,380.96 L144.09,381.14 L142.03,381.32 L139.96,381.50 L137.90,381.68 L135.84,381.86 L133.77,382.04 L131.71,382.22 L129.64,382.40 L127.58,382.58 L125.51,382.76 L123.45,382.94 L121.39,383.12 L119.32,383.30 L117.26,383.48 L115.19,383.66 L113.13,383.84 L111.06,384.02 L109.00,384.20Z" fill="#a69e9a"/>
<path d="M109.00,376.96 L111.06,376.76 L113.13,376.56 L115.19,376.37 L117.26,376.19 L119.32,376.00 L121.39,375.82 L123.45,375.63 L125.51,375.44 L127.58,375.24 L129.64,375.03 L131.71,374.81 L133.77,374.57 L135.84,374.32 L137.90,374.05 L139.96,373.75 L142.03,373.41 L144.09,373.04 L146.16,372.63 L148.22,372.18 L150.29,371.71 L152.35,371.22 L154.41,370.71 L156.48,370.19 L158.54,369.65 L160.61,369.10 L162.67,368.56 L164.74,368.01 L166.80,367.47 L168.86,366.93 L170.93,366.41 L172.99,365.91 L175.06,365.42 L177.12,364.93 L179.19,364.42 L181.25,363.90 L183.31,363.39 L185.38,362.89 L187.44,362.44 L189.51,362.04 L191.57,361.70 L193.64,361.42 L195.70,361.17 L197.76,360.95 L199.83,360.74 L201.89,360.55 L203.96,360.37 L206.02,360.19 L208.09,360.02 L210.15,359.83 L212.21,359.63 L214.28,359.42 L216.34,359.18 L218.41,358.92 L220.47,358.65 L222.54,358.37 L224.60,358.09 L226.66,357.79 L228.73,357.48 L230.79,357.16 L232.86,356.82 L234.92,356.48 L236.99,356.12 L239.05,355.75 L241.11,355.37 L243.18,354.96 L245.24,354.54 L247.31,354.10 L249.37,353.63 L251.44,353.15 L253.50,352.65 L255.56,352.14 L257.63,351.61 L259.69,351.06 L261.76,350.50 L263.82,349.94 L265.89,349.36 L267.95,348.77 L270.01,348.17 L272.08,347.56 L274.14,346.95 L276.21,346.33 L278.27,345.66 L280.34,344.95 L282.40,344.22 L284.46,343.47 L286.53,342.69 L288.59,341.90 L290.66,341.11 L292.72,340.31 L294.79,339.51 L296.85,338.72 L298.91,337.94 L300.98,337.19 L303.04,336.45 L305.11,335.75 L307.17,335.08 L309.24,334.45 L311.30,333.84 L313.36,333.19 L315.43,332.52 L317.49,331.83 L319.56,331.15 L321.62,330.47 L323.69,329.82 L325.75,329.20 L327.81,328.63 L329.88,328.11 L331.94,327.66 L334.01,327.30 L336.07,327.03 L338.14,326.86 L340.20,326.81 L342.26,327.00 L344.33,327.39 L346.39,327.77 L348.46,327.97 L350.52,327.24 L352.59,325.53 L354.65,323.59 L356.71,322.19 L358.78,321.36 L360.84,320.56 L362.91,319.81 L364.97,319.09 L367.04,318.41 L369.10,317.77 L371.16,317.16 L373.23,316.58 L375.29,316.04 L377.36,315.52 L379.42,315.04 L381.49,314.58 L383.55,314.14 L385.61,313.73 L387.68,313.35 L389.74,312.98 L391.81,312.64 L393.87,312.31 L395.94,312.00 L398.00,311.70 L400.06,311.42 L402.13,311.17 L404.19,310.95 L406.26,310.76 L408.32,310.57 L410.39,310.39 L412.45,310.21 L414.51,310.02 L416.58,309.76 L418.64,309.49 L420.71,309.23 L422.77,308.97 L424.84,308.72 L426.90,308.49 L428.96,308.25 L431.03,308.02 L433.09,307.79 L435.16,307.57 L437.22,307.35 L439.29,307.14 L441.35,306.86 L443.41,306.59 L445.48,306.32 L447.54,306.07 L449.61,305.82 L451.67,305.57 L453.74,305.34 L455.80,305.11 L457.86,304.90 L459.93,304.70 L461.99,304.51 L464.06,304.33 L466.12,304.16 L468.19,304.01 L470.25,303.88 L472.31,303.76 L474.38,303.65 L476.44,303.57 L478.51,303.49 L480.57,303.43 L482.64,303.39 L484.70,303.36 L486.76,303.34 L488.83,303.34 L490.89,303.34 L492.96,303.36 L495.02,303.38 L497.09,303.42 L499.15,303.47 L501.21,303.52 L503.28,303.59 L505.34,303.68 L507.41,303.78 L509.47,303.90 L511.54,304.03 L513.60,304.19 L515.66,304.38 L517.73,304.59 L519.79,304.84 L521.86,305.12 L523.92,305.43 L525.99,305.78 L528.05,306.16 L530.11,306.59 L532.18,307.05 L534.24,307.55 L536.31,308.08 L538.37,308.64 L540.44,309.22 L542.50,309.83 L544.56,310.46 L546.63,311.11 L548.69,311.76 L550.76,312.42 L552.82,313.08 L554.89,313.74 L556.95,314.40 L559.01,315.06 L561.08,315.70 L563.14,316.34 L565.21,316.97 L567.27,317.59 L569.34,318.20 L571.40,318.81 L573.46,319.41 L575.53,320.02 L577.59,320.62 L579.66,321.22 L581.72,321.82 L583.79,322.42 L585.85,323.03 L587.91,323.63 L589.98,324.24 L592.04,324.84 L594.11,325.44 L596.17,326.03 L598.24,326.61 L600.30,327.18 L602.36,327.74 L604.43,328.27 L606.49,328.84 L608.56,329.39 L610.62,329.91 L612.69,330.42 L614.75,330.90 L616.81,331.37 L618.88,331.81 L620.94,332.24 L623.01,332.66 L625.07,333.07 L627.14,333.46 L629.20,333.85 L631.26,334.22 L633.33,334.60 L635.39,334.96 L637.46,335.33 L639.52,335.69 L641.59,336.04 L643.65,336.40 L645.71,336.75 L647.78,337.11 L649.84,337.46 L651.91,337.81 L653.97,338.16 L656.04,338.50 L658.10,338.85 L660.16,339.20 L662.23,339.54 L664.29,339.88 L666.36,340.23 L668.42,340.57 L670.49,340.91 L672.55,341.25 L674.61,341.59 L676.68,341.93 L678.74,342.27 L680.81,342.60 L682.87,342.94 L684.94,343.28 L687.00,343.62 L687.00,353.62 L684.94,353.32 L682.87,353.02 L680.81,352.72 L678.74,352.42 L676.68,352.12 L674.61,351.82 L672.55,351.51 L670.49,351.21 L668.42,350.90 L666.36,350.60 L664.29,350.29 L662.23,349.98 L660.16,349.67 L658.10,349.35 L656.04,349.03 L653.97,348.71 L651.91,348.39 L649.84,348.06 L647.78,347.72 L645.71,347.39 L643.65,347.05 L641.59,346.70 L639.52,346.35 L637.46,346.00 L635.39,345.64 L633.33,345.27 L631.26,344.91 L629.20,344.53 L627.14,344.15 L625.07,343.77 L623.01,343.38 L620.94,342.99 L618.88,342.59 L616.81,342.18 L614.75,341.77 L612.69,341.35 L610.62,340.93 L608.56,340.50 L606.49,340.06 L604.43,339.62 L602.36,339.17 L600.30,338.72 L598.24,338.27 L596.17,337.81 L594.11,337.35 L592.04,336.90 L589.98,336.44 L587.91,335.98 L585.85,335.52 L583.79,335.06 L581.72,334.59 L579.66,334.13 L577.59,333.66 L575.53,333.18 L573.46,332.70 L571.40,332.20 L569.34,331.70 L567.27,331.17 L565.21,330.64 L563.14,330.09 L561.08,329.52 L559.01,328.93 L556.95,328.33 L554.89,327.72 L552.82,327.09 L550.76,326.45 L548.69,325.81 L546.63,325.17 L544.56,324.53 L542.50,323.91 L540.44,323.29 L538.37,322.69 L536.31,322.12 L534.24,321.57 L532.18,321.05 L530.11,320.56 L528.05,320.12 L525.99,319.70 L523.92,319.33 L521.86,318.99 L519.79,318.69 L517.73,318.43 L515.66,318.20 L513.60,318.01 L511.54,317.84 L509.47,317.70 L507.41,317.59 L505.34,317.50 L503.28,317.43 L501.21,317.37 L499.15,317.33 L497.09,317.30 L495.02,317.28 L492.96,317.27 L490.89,317.27 L488.83,317.28 L486.76,317.29 L484.70,317.31 L482.64,317.34 L480.57,317.38 L478.51,317.42 L476.44,317.48 L474.38,317.54 L472.31,317.61 L470.25,317.70 L468.19,317.79 L466.12,317.89 L464.06,318.00 L461.99,318.12 L459.93,318.24 L457.86,318.38 L455.80,318.52 L453.74,318.67 L451.67,318.83 L449.61,318.99 L447.54,319.16 L445.48,319.33 L443.41,319.51 L441.35,319.70 L439.29,319.89 L437.22,320.09 L435.16,320.29 L433.09,320.50 L431.03,320.72 L428.96,320.94 L426.90,321.16 L424.84,321.38 L422.77,321.61 L420.71,321.85 L418.64,322.10 L416.58,322.34 L414.51,322.59 L412.45,322.93 L410.39,323.27 L408.32,323.61 L406.26,323.95 L404.19,324.30 L402.13,324.67 L400.06,325.07 L398.00,325.49 L395.94,325.95 L393.87,326.43 L391.81,326.93 L389.74,327.45 L387.68,327.98 L385.61,328.52 L383.55,329.06 L381.49,329.60 L379.42,330.13 L377.36,330.64 L375.29,331.14 L373.23,331.63 L371.16,332.12 L369.10,332.61 L367.04,333.13 L364.97,333.66 L362.91,334.23 L360.84,334.83 L358.78,335.48 L356.71,336.18 L354.65,337.19 L352.59,338.47 L350.52,339.56 L348.46,340.03 L346.39,339.99 L344.33,339.90 L342.26,339.81 L340.20,339.77 L338.14,339.83 L336.07,339.99 L334.01,340.26 L331.94,340.61 L329.88,341.03 L327.81,341.52 L325.75,342.06 L323.69,342.64 L321.62,343.25 L319.56,343.87 L317.49,344.51 L315.43,345.14 L313.36,345.76 L311.30,346.35 L309.24,346.91 L307.17,347.48 L305.11,348.08 L303.04,348.71 L300.98,349.36 L298.91,350.04 L296.85,350.72 L294.79,351.42 L292.72,352.11 L290.66,352.81 L288.59,353.50 L286.53,354.18 L284.46,354.84 L282.40,355.48 L280.34,356.10 L278.27,356.68 L276.21,357.22 L274.14,357.73 L272.08,358.20 L270.01,358.66 L267.95,359.10 L265.89,359.53 L263.82,359.95 L261.76,360.36 L259.69,360.76 L257.63,361.15 L255.56,361.53 L253.50,361.90 L251.44,362.26 L249.37,362.62 L247.31,362.98 L245.24,363.33 L243.18,363.67 L241.11,364.01 L239.05,364.36 L236.99,364.70 L234.92,365.04 L232.86,365.38 L230.79,365.72 L228.73,366.06 L226.66,366.41 L224.60,366.76 L222.54,367.12 L220.47,367.48 L218.41,367.85 L216.34,368.23 L214.28,368.62 L212.21,369.01 L210.15,369.39 L208.09,369.77 L206.02,370.14 L203.96,370.49 L201.89,370.82 L199.83,371.12 L197.76,371.40 L195.70,371.67 L193.64,371.93 L191.57,372.18 L189.51,372.42 L187.44,372.66 L185.38,372.88 L183.31,373.10 L181.25,373.31 L179.19,373.51 L177.12,373.70 L175.06,373.89 L172.99,374.06 L170.93,374.23 L168.86,374.39 L166.80,374.54 L164.74,374.69 L162.67,374.83 L160.61,374.97 L158.54,375.11 L156.48,375.25 L154.41,375.39 L152.35,375.54 L150.29,375.68 L148.22,375.83 L146.16,375.98 L144.09,376.12 L142.03,376.27 L139.96,376.42 L137.90,376.56 L135.84,376.71 L133.77,376.86 L131.71,377.00 L129.64,377.15 L127.58,377.29 L125.51,377.44 L123.45,377.58 L121.39,377.73 L119.32,377.88 L117.26,378.02 L115.19,378.17 L113.13,378.31 L111.06,378.46 L109.00,378.61Z" fill="#8a72bf"/>
<path d="M109.00,376.19 L111.06,375.99 L113.13,375.79 L115.19,375.60 L117.26,375.42 L119.32,375.23 L121.39,375.05 L123.45,374.86 L125.51,374.67 L127.58,374.47 L129.64,374.26 L131.71,374.04 L133.77,373.80 L135.84,373.55 L137.90,373.28 L139.96,372.98 L142.03,372.64 L144.09,372.27 L146.16,371.86 L148.22,371.41 L150.29,370.95 L152.35,370.45 L154.41,369.94 L156.48,369.42 L158.54,368.88 L160.61,368.33 L162.67,367.79 L164.74,367.24 L166.80,366.70 L168.86,366.16 L170.93,365.64 L172.99,365.14 L175.06,364.65 L177.12,364.16 L179.19,363.65 L181.25,363.13 L183.31,362.62 L185.38,362.13 L187.44,361.67 L189.51,361.27 L191.57,360.93 L193.64,360.65 L195.70,360.40 L197.76,360.18 L199.83,359.97 L201.89,359.78 L203.96,359.60 L206.02,359.43 L208.09,359.25 L210.15,359.06 L212.21,358.86 L214.28,358.65 L216.34,358.41 L218.41,358.15 L220.47,357.88 L222.54,357.60 L224.60,357.32 L226.66,357.02 L228.73,356.71 L230.79,356.39 L232.86,356.05 L234.92,355.71 L236.99,355.35 L239.05,354.98 L241.11,354.60 L243.18,354.19 L245.24,353.77 L247.31,353.33 L249.37,352.86 L251.44,352.38 L253.50,351.88 L255.56,351.37 L257.63,350.84 L259.69,350.29 L261.76,349.74 L263.82,349.17 L265.89,348.59 L267.95,348.00 L270.01,347.40 L272.08,346.80 L274.14,346.18 L276.21,345.55 L278.27,344.88 L280.34,344.17 L282.40,343.44 L284.46,342.68 L286.53,341.90 L288.59,341.11 L290.66,340.31 L292.72,339.50 L294.79,338.70 L296.85,337.91 L298.91,337.13 L300.98,336.37 L303.04,335.63 L305.11,334.92 L307.17,334.25 L309.24,333.62 L311.30,333.00 L313.36,332.35 L315.43,331.67 L317.49,330.99 L319.56,330.30 L321.62,329.62 L323.69,328.96 L325.75,328.34 L327.81,327.76 L329.88,327.24 L331.94,326.79 L334.01,326.42 L336.07,326.14 L338.14,325.97 L340.20,325.92 L342.26,326.11 L344.33,326.49 L346.39,326.87 L348.46,327.06 L350.52,326.33 L352.59,324.61 L354.65,322.67 L356.71,321.27 L358.78,320.43 L360.84,319.63 L362.91,318.87 L364.97,318.15 L367.04,317.47 L369.10,316.82 L371.16,316.21 L373.23,315.63 L375.29,315.08 L377.36,314.56 L379.42,314.07 L381.49,313.61 L383.55,313.17 L385.61,312.76 L387.68,312.37 L389.74,312.00 L391.81,311.65 L393.87,311.32 L395.94,311.01 L398.00,310.71 L400.06,310.42 L402.13,310.17 L404.19,309.95 L406.26,309.74 L408.32,309.56 L410.39,309.37 L412.45,309.19 L414.51,308.99 L416.58,308.73 L418.64,308.46 L420.71,308.19 L422.77,307.92 L424.84,307.67 L426.90,307.44 L428.96,307.19 L431.03,306.95 L433.09,306.72 L435.16,306.49 L437.22,306.27 L439.29,306.06 L441.35,305.77 L443.41,305.49 L445.48,305.22 L447.54,304.96 L449.61,304.71 L451.67,304.46 L453.74,304.22 L455.80,303.99 L457.86,303.77 L459.93,303.56 L461.99,303.37 L464.06,303.18 L466.12,303.01 L468.19,302.86 L470.25,302.72 L472.31,302.59 L474.38,302.48 L476.44,302.39 L478.51,302.31 L480.57,302.25 L482.64,302.20 L484.70,302.17 L486.76,302.14 L488.83,302.13 L490.89,302.13 L492.96,302.14 L495.02,302.17 L497.09,302.20 L499.15,302.24 L501.21,302.29 L503.28,302.36 L505.34,302.44 L507.41,302.53 L509.47,302.64 L511.54,302.77 L513.60,302.93 L515.66,303.11 L517.73,303.32 L519.79,303.56 L521.86,303.83 L523.92,304.14 L525.99,304.49 L528.05,304.87 L530.11,305.29 L532.18,305.75 L534.24,306.24 L536.31,306.77 L538.37,307.33 L540.44,307.91 L542.50,308.52 L544.56,309.14 L546.63,309.78 L548.69,310.44 L550.76,311.09 L552.82,311.75 L554.89,312.41 L556.95,313.07 L559.01,313.71 L561.08,314.36 L563.14,314.99 L565.21,315.62 L567.27,316.23 L569.34,316.85 L571.40,317.45 L573.46,318.05 L575.53,318.65 L577.59,319.25 L579.66,319.84 L581.72,320.44 L583.79,321.04 L585.85,321.64 L587.91,322.25 L589.98,322.85 L592.04,323.45 L594.11,324.05 L596.17,324.63 L598.24,325.21 L600.30,325.78 L602.36,326.33 L604.43,326.86 L606.49,327.42 L608.56,327.97 L610.62,328.49 L612.69,328.99 L614.75,329.47 L616.81,329.94 L618.88,330.38 L620.94,330.81 L623.01,331.22 L625.07,331.62 L627.14,332.02 L629.20,332.40 L631.26,332.77 L633.33,333.14 L635.39,333.50 L637.46,333.86 L639.52,334.22 L641.59,334.57 L643.65,334.93 L645.71,335.28 L647.78,335.63 L649.84,335.98 L651.91,336.32 L653.97,336.67 L656.04,337.01 L658.10,337.36 L660.16,337.70 L662.23,338.04 L664.29,338.38 L666.36,338.72 L668.42,339.06 L670.49,339.40 L672.55,339.73 L674.61,340.07 L676.68,340.40 L678.74,340.74 L680.81,341.07 L682.87,341.41 L684.94,341.74 L687.00,342.08 L687.00,343.62 L684.94,343.28 L682.87,342.94 L680.81,342.60 L678.74,342.27 L676.68,341.93 L674.61,341.59 L672.55,341.25 L670.49,340.91 L668.42,340.57 L666.36,340.23 L664.29,339.88 L662.23,339.54 L660.16,339.20 L658.10,338.85 L656.04,338.50 L653.97,338.16 L651.91,337.81 L649.84,337.46 L647.78,337.11 L645.71,336.75 L643.65,336.40 L641.59,336.04 L639.52,335.69 L637.46,335.33 L635.39,334.96 L633.33,334.60 L631.26,334.22 L629.20,333.85 L627.14,333.46 L625.07,333.07 L623.01,332.66 L620.94,332.24 L618.88,331.81 L616.81,331.37 L614.75,330.90 L612.69,330.42 L610.62,329.91 L608.56,329.39 L606.49,328.84 L604.43,328.27 L602.36,327.74 L600.30,327.18 L598.24,326.61 L596.17,326.03 L594.11,325.44 L592.04,324.84 L589.98,324.24 L587.91,323.63 L585.85,323.03 L583.79,322.42 L581.72,321.82 L579.66,321.22 L577.59,320.62 L575.53,320.02 L573.46,319.41 L571.40,318.81 L569.34,318.20 L567.27,317.59 L565.21,316.97 L563.14,316.34 L561.08,315.70 L559.01,315.06 L556.95,314.40 L554.89,313.74 L552.82,313.08 L550.76,312.42 L548.69,311.76 L546.63,311.11 L544.56,310.46 L542.50,309.83 L540.44,309.22 L538.37,308.64 L536.31,308.08 L534.24,307.55 L532.18,307.05 L530.11,306.59 L528.05,306.16 L525.99,305.78 L523.92,305.43 L521.86,305.12 L519.79,304.84 L517.73,304.59 L515.66,304.38 L513.60,304.19 L511.54,304.03 L509.47,303.90 L507.41,303.78 L505.34,303.68 L503.28,303.59 L501.21,303.52 L499.15,303.47 L497.09,303.42 L495.02,303.38 L492.96,303.36 L490.89,303.34 L488.83,303.34 L486.76,303.34 L484.70,303.36 L482.64,303.39 L480.57,303.43 L478.51,303.49 L476.44,303.57 L474.38,303.65 L472.31,303.76 L470.25,303.88 L468.19,304.01 L466.12,304.16 L464.06,304.33 L461.99,304.51 L459.93,304.70 L457.86,304.90 L455.80,305.11 L453.74,305.34 L451.67,305.57 L449.61,305.82 L447.54,306.07 L445.48,306.32 L443.41,306.59 L441.35,306.86 L439.29,307.14 L437.22,307.35 L435.16,307.57 L433.09,307.79 L431.03,308.02 L428.96,308.25 L426.90,308.49 L424.84,308.72 L422.77,308.97 L420.71,309.23 L418.64,309.49 L416.58,309.76 L414.51,310.02 L412.45,310.21 L410.39,310.39 L408.32,310.57 L406.26,310.76 L404.19,310.95 L402.13,311.17 L400.06,311.42 L398.00,311.70 L395.94,312.00 L393.87,312.31 L391.81,312.64 L389.74,312.98 L387.68,313.35 L385.61,313.73 L383.55,314.14 L381.49,314.58 L379.42,315.04 L377.36,315.52 L375.29,316.04 L373.23,316.58 L371.16,317.16 L369.10,317.77 L367.04,318.41 L364.97,319.09 L362.91,319.81 L360.84,320.56 L358.78,321.36 L356.71,322.19 L354.65,323.59 L352.59,325.53 L350.52,327.24 L348.46,327.97 L346.39,327.77 L344.33,327.39 L342.26,327.00 L340.20,326.81 L338.14,326.86 L336.07,327.03 L334.01,327.30 L331.94,327.66 L329.88,328.11 L327.81,328.63 L325.75,329.20 L323.69,329.82 L321.62,330.47 L319.56,331.15 L317.49,331.83 L315.43,332.52 L313.36,333.19 L311.30,333.84 L309.24,334.45 L307.17,335.08 L305.11,335.75 L303.04,336.45 L300.98,337.19 L298.91,337.94 L296.85,338.72 L294.79,339.51 L292.72,340.31 L290.66,341.11 L288.59,341.90 L286.53,342.69 L284.46,343.47 L282.40,344.22 L280.34,344.95 L278.27,345.66 L276.21,346.33 L274.14,346.95 L272.08,347.56 L270.01,348.17 L267.95,348.77 L265.89,349.36 L263.82,349.94 L261.76,350.50 L259.69,351.06 L257.63,351.61 L255.56,352.14 L253.50,352.65 L251.44,353.15 L249.37,353.63 L247.31,354.10 L245.24,354.54 L243.18,354.96 L241.11,355.37 L239.05,355.75 L236.99,356.12 L234.92,356.48 L232.86,356.82 L230.79,357.16 L228.73,357.48 L226.66,357.79 L224.60,358.09 L222.54,358.37 L220.47,358.65 L218.41,358.92 L216.34,359.18 L214.28,359.42 L212.21,359.63 L210.15,359.83 L208.09,360.02 L206.02,360.19 L203.96,360.37 L201.89,360.55 L199.83,360.74 L197.76,360.95 L195.70,361.17 L193.64,361.42 L191.57,361.70 L189.51,362.04 L187.44,362.44 L185.38,362.89 L183.31,363.39 L181.25,363.90 L179.19,364.42 L177.12,364.93 L175.06,365.42 L172.99,365.91 L170.93,366.41 L168.86,366.93 L166.80,367.47 L164.74,368.01 L162.67,368.56 L160.61,369.10 L158.54,369.65 L156.48,370.19 L154.41,370.71 L152.35,371.22 L150.29,371.71 L148.22,372.18 L146.16,372.63 L144.09,373.04 L142.03,373.41 L139.96,373.75 L137.90,374.05 L135.84,374.32 L133.77,374.57 L131.71,374.81 L129.64,375.03 L127.58,375.24 L125.51,375.44 L123.45,375.63 L121.39,375.82 L119.32,376.00 L117.26,376.19 L115.19,376.37 L113.13,376.56 L111.06,376.76 L109.00,376.96Z" fill="#b3aad8"/>
<path d="M109.00,374.65 L111.06,374.45 L113.13,374.25 L115.19,374.05 L117.26,373.86 L119.32,373.68 L121.39,373.49 L123.45,373.30 L125.51,373.10 L127.58,372.90 L129.64,372.69 L131.71,372.46 L133.77,372.22 L135.84,371.97 L137.90,371.69 L139.96,371.39 L142.03,371.05 L144.09,370.67 L146.16,370.26 L148.22,369.81 L150.29,369.34 L152.35,368.85 L154.41,368.33 L156.48,367.80 L158.54,367.26 L160.61,366.71 L162.67,366.16 L164.74,365.61 L166.80,365.07 L168.86,364.53 L170.93,364.01 L172.99,363.50 L175.06,363.01 L177.12,362.52 L179.19,362.00 L181.25,361.48 L183.31,360.96 L185.38,360.47 L187.44,360.01 L189.51,359.60 L191.57,359.26 L193.64,358.98 L195.70,358.73 L197.76,358.50 L199.83,358.29 L201.89,358.10 L203.96,357.92 L206.02,357.74 L208.09,357.55 L210.15,357.36 L212.21,357.16 L214.28,356.94 L216.34,356.70 L218.41,356.44 L220.47,356.17 L222.54,355.89 L224.60,355.60 L226.66,355.30 L228.73,354.98 L230.79,354.66 L232.86,354.32 L234.92,353.98 L236.99,353.61 L239.05,353.24 L241.11,352.85 L243.18,352.45 L245.24,352.02 L247.31,351.57 L249.37,351.11 L251.44,350.62 L253.50,350.12 L255.56,349.60 L257.63,349.07 L259.69,348.52 L261.76,347.96 L263.82,347.39 L265.89,346.80 L267.95,346.21 L270.01,345.61 L272.08,345.00 L274.14,344.39 L276.21,343.75 L278.27,343.07 L280.34,342.35 L282.40,341.61 L284.46,340.84 L286.53,340.05 L288.59,339.25 L290.66,338.45 L292.72,337.63 L294.79,336.83 L296.85,336.02 L298.91,335.24 L300.98,334.47 L303.04,333.72 L305.11,333.01 L307.17,332.33 L309.24,331.69 L311.30,331.06 L313.36,330.40 L315.43,329.72 L317.49,329.02 L319.56,328.32 L321.62,327.64 L323.69,326.97 L325.75,326.34 L327.81,325.75 L329.88,325.23 L331.94,324.77 L334.01,324.39 L336.07,324.11 L338.14,323.93 L340.20,323.87 L342.26,324.03 L344.33,324.38 L346.39,324.73 L348.46,324.89 L350.52,324.14 L352.59,322.39 L354.65,320.42 L356.71,318.99 L358.78,318.12 L360.84,317.30 L362.91,316.51 L364.97,315.76 L367.04,315.05 L369.10,314.37 L371.16,313.73 L373.23,313.12 L375.29,312.55 L377.36,312.00 L379.42,311.48 L381.49,310.99 L383.55,310.52 L385.61,310.08 L387.68,309.66 L389.74,309.26 L391.81,308.89 L393.87,308.53 L395.94,308.18 L398.00,307.86 L400.06,307.54 L402.13,307.26 L404.19,307.01 L406.26,306.78 L408.32,306.56 L410.39,306.35 L412.45,306.14 L414.51,305.91 L416.58,305.56 L418.64,305.21 L420.71,304.85 L422.77,304.50 L424.84,304.17 L426.90,303.85 L428.96,303.51 L431.03,303.19 L433.09,302.87 L435.16,302.56 L437.22,302.25 L439.29,301.95 L441.35,301.66 L443.41,301.38 L445.48,301.10 L447.54,300.83 L449.61,300.57 L451.67,300.32 L453.74,300.07 L455.80,299.83 L457.86,299.61 L459.93,299.39 L461.99,299.19 L464.06,299.00 L466.12,298.83 L468.19,298.66 L470.25,298.52 L472.31,298.39 L474.38,298.27 L476.44,298.17 L478.51,298.09 L480.57,298.02 L482.64,297.96 L484.70,297.92 L486.76,297.89 L488.83,297.88 L490.89,297.87 L492.96,297.87 L495.02,297.89 L497.09,297.91 L499.15,297.95 L501.21,297.99 L503.28,298.05 L505.34,298.13 L507.41,298.21 L509.47,298.32 L511.54,298.45 L513.60,298.60 L515.66,298.77 L517.73,298.97 L519.79,299.21 L521.86,299.47 L523.92,299.78 L525.99,300.12 L528.05,300.49 L530.11,300.91 L532.18,301.36 L534.24,301.85 L536.31,302.37 L538.37,302.92 L540.44,303.49 L542.50,304.09 L544.56,304.71 L546.63,305.35 L548.69,305.99 L550.76,306.64 L552.82,307.30 L554.89,307.95 L556.95,308.60 L559.01,309.24 L561.08,309.87 L563.14,310.50 L565.21,311.12 L567.27,311.73 L569.34,312.34 L571.40,312.94 L573.46,313.53 L575.53,314.12 L577.59,314.71 L579.66,315.30 L581.72,315.90 L583.79,316.49 L585.85,317.09 L587.91,317.68 L589.98,318.28 L592.04,318.87 L594.11,319.46 L596.17,320.04 L598.24,320.61 L600.30,321.17 L602.36,321.72 L604.43,322.24 L606.49,322.75 L608.56,323.24 L610.62,323.70 L612.69,324.14 L614.75,324.57 L616.81,324.97 L618.88,325.36 L620.94,325.73 L623.01,326.09 L625.07,326.43 L627.14,326.76 L629.20,327.09 L631.26,327.40 L633.33,327.71 L635.39,328.02 L637.46,328.32 L639.52,328.62 L641.59,328.92 L643.65,329.21 L645.71,329.51 L647.78,329.80 L649.84,330.09 L651.91,330.38 L653.97,330.67 L656.04,330.95 L658.10,331.24 L660.16,331.52 L662.23,331.81 L664.29,332.09 L666.36,332.37 L668.42,332.65 L670.49,332.93 L672.55,333.21 L674.61,333.49 L676.68,333.77 L678.74,334.04 L680.81,334.32 L682.87,334.60 L684.94,334.88 L687.00,335.15 L687.00,342.08 L684.94,341.74 L682.87,341.41 L680.81,341.07 L678.74,340.74 L676.68,340.40 L674.61,340.07 L672.55,339.73 L670.49,339.40 L668.42,339.06 L666.36,338.72 L664.29,338.38 L662.23,338.04 L660.16,337.70 L658.10,337.36 L656.04,337.01 L653.97,336.67 L651.91,336.32 L649.84,335.98 L647.78,335.63 L645.71,335.28 L643.65,334.93 L641.59,334.57 L639.52,334.22 L637.46,333.86 L635.39,333.50 L633.33,333.14 L631.26,332.77 L629.20,332.40 L627.14,332.02 L625.07,331.62 L623.01,331.22 L620.94,330.81 L618.88,330.38 L616.81,329.94 L614.75,329.47 L612.69,328.99 L610.62,328.49 L608.56,327.97 L606.49,327.42 L604.43,326.86 L602.36,326.33 L600.30,325.78 L598.24,325.21 L596.17,324.63 L594.11,324.05 L592.04,323.45 L589.98,322.85 L587.91,322.25 L585.85,321.64 L583.79,321.04 L581.72,320.44 L579.66,319.84 L577.59,319.25 L575.53,318.65 L573.46,318.05 L571.40,317.45 L569.34,316.85 L567.27,316.23 L565.21,315.62 L563.14,314.99 L561.08,314.36 L559.01,313.71 L556.95,313.07 L554.89,312.41 L552.82,311.75 L550.76,311.09 L548.69,310.44 L546.63,309.78 L544.56,309.14 L542.50,308.52 L540.44,307.91 L538.37,307.33 L536.31,306.77 L534.24,306.24 L532.18,305.75 L530.11,305.29 L528.05,304.87 L525.99,304.49 L523.92,304.14 L521.86,303.83 L519.79,303.56 L517.73,303.32 L515.66,303.11 L513.60,302.93 L511.54,302.77 L509.47,302.64 L507.41,302.53 L505.34,302.44 L503.28,302.36 L501.21,302.29 L499.15,302.24 L497.09,302.20 L495.02,302.17 L492.96,302.14 L490.89,302.13 L488.83,302.13 L486.76,302.14 L484.70,302.17 L482.64,302.20 L480.57,302.25 L478.51,302.31 L476.44,302.39 L474.38,302.48 L472.31,302.59 L470.25,302.72 L468.19,302.86 L466.12,303.01 L464.06,303.18 L461.99,303.37 L459.93,303.56 L457.86,303.77 L455.80,303.99 L453.74,304.22 L451.67,304.46 L449.61,304.71 L447.54,304.96 L445.48,305.22 L443.41,305.49 L441.35,305.77 L439.29,306.06 L437.22,306.27 L435.16,306.49 L433.09,306.72 L431.03,306.95 L428.96,307.19 L426.90,307.44 L424.84,307.67 L422.77,307.92 L420.71,308.19 L418.64,308.46 L416.58,308.73 L414.51,308.99 L412.45,309.19 L410.39,309.37 L408.32,309.56 L406.26,309.74 L404.19,309.95 L402.13,310.17 L400.06,310.42 L398.00,310.71 L395.94,311.01 L393.87,311.32 L391.81,311.65 L389.74,312.00 L387.68,312.37 L385.61,312.76 L383.55,313.17 L381.49,313.61 L379.42,314.07 L377.36,314.56 L375.29,315.08 L373.23,315.63 L371.16,316.21 L369.10,316.82 L367.04,317.47 L364.97,318.15 L362.91,318.87 L360.84,319.63 L358.78,320.43 L356.71,321.27 L354.65,322.67 L352.59,324.61 L350.52,326.33 L348.46,327.06 L346.39,326.87 L344.33,326.49 L342.26,326.11 L340.20,325.92 L338.14,325.97 L336.07,326.14 L334.01,326.42 L331.94,326.79 L329.88,327.24 L327.81,327.76 L325.75,328.34 L323.69,328.96 L321.62,329.62 L319.56,330.30 L317.49,330.99 L315.43,331.67 L313.36,332.35 L311.30,333.00 L309.24,333.62 L307.17,334.25 L305.11,334.92 L303.04,335.63 L300.98,336.37 L298.91,337.13 L296.85,337.91 L294.79,338.70 L292.72,339.50 L290.66,340.31 L288.59,341.11 L286.53,341.90 L284.46,342.68 L282.40,343.44 L280.34,344.17 L278.27,344.88 L276.21,345.55 L274.14,346.18 L272.08,346.80 L270.01,347.40 L267.95,348.00 L265.89,348.59 L263.82,349.17 L261.76,349.74 L259.69,350.29 L257.63,350.84 L255.56,351.37 L253.50,351.88 L251.44,352.38 L249.37,352.86 L247.31,353.33 L245.24,353.77 L243.18,354.19 L241.11,354.60 L239.05,354.98 L236.99,355.35 L234.92,355.71 L232.86,356.05 L230.79,356.39 L228.73,356.71 L226.66,357.02 L224.60,357.32 L222.54,357.60 L220.47,357.88 L218.41,358.15 L216.34,358.41 L214.28,358.65 L212.21,358.86 L210.15,359.06 L208.09,359.25 L206.02,359.43 L203.96,359.60 L201.89,359.78 L199.83,359.97 L197.76,360.18 L195.70,360.40 L193.64,360.65 L191.57,360.93 L189.51,361.27 L187.44,361.67 L185.38,362.13 L183.31,362.62 L181.25,363.13 L179.19,363.65 L177.12,364.16 L175.06,364.65 L172.99,365.14 L170.93,365.64 L168.86,366.16 L166.80,366.70 L164.74,367.24 L162.67,367.79 L160.61,368.33 L158.54,368.88 L156.48,369.42 L154.41,369.94 L152.35,370.45 L150.29,370.95 L148.22,371.41 L146.16,371.86 L144.09,372.27 L142.03,372.64 L139.96,372.98 L137.90,373.28 L135.84,373.55 L133.77,373.80 L131.71,374.04 L129.64,374.26 L127.58,374.47 L125.51,374.67 L123.45,374.86 L121.39,375.05 L119.32,375.23 L117.26,375.42 L115.19,375.60 L113.13,375.79 L111.06,375.99 L109.00,376.19Z" fill="#7cc878"/>
<path d="M109.00,365.93 L111.06,365.88 L113.13,365.83 L115.19,365.77 L117.26,365.68 L119.32,365.50 L121.39,365.20 L123.45,364.82 L125.51,364.39 L127.58,363.85 L129.64,363.17 L131.71,362.45 L133.77,361.83 L135.84,361.29 L137.90,360.76 L139.96,360.24 L142.03,359.75 L144.09,359.30 L146.16,358.89 L148.22,358.53 L150.29,358.24 L152.35,358.03 L154.41,357.87 L156.48,357.70 L158.54,357.47 L160.61,357.07 L162.67,356.49 L164.74,355.82 L166.80,355.16 L168.86,354.48 L170.93,353.75 L172.99,353.02 L175.06,352.34 L177.12,351.70 L179.19,351.05 L181.25,350.41 L183.31,349.79 L185.38,349.21 L187.44,348.67 L189.51,348.19 L191.57,347.77 L193.64,347.44 L195.70,347.16 L197.76,346.90 L199.83,346.59 L201.89,346.26 L203.96,345.91 L206.02,345.57 L208.09,345.21 L210.15,344.86 L212.21,344.49 L214.28,344.13 L216.34,343.75 L218.41,343.38 L220.47,342.99 L222.54,342.60 L224.60,342.21 L226.66,341.81 L228.73,341.40 L230.79,340.99 L232.86,340.57 L234.92,340.14 L236.99,339.71 L239.05,339.28 L241.11,338.83 L243.18,338.38 L245.24,337.93 L247.31,337.46 L249.37,336.99 L251.44,336.52 L253.50,336.03 L255.56,335.54 L257.63,335.04 L259.69,334.54 L261.76,334.03 L263.82,333.51 L265.89,332.98 L267.95,332.44 L270.01,331.90 L272.08,331.35 L274.14,330.79 L276.21,330.22 L278.27,329.61 L280.34,328.97 L282.40,328.31 L284.46,327.63 L286.53,326.93 L288.59,326.20 L290.66,325.47 L292.72,324.72 L294.79,323.96 L296.85,323.19 L298.91,322.41 L300.98,321.63 L303.04,320.85 L305.11,320.08 L307.17,319.30 L309.24,318.53 L311.30,317.73 L313.36,316.83 L315.43,315.85 L317.49,314.82 L319.56,313.75 L321.62,312.67 L323.69,311.61 L325.75,310.59 L327.81,309.62 L329.88,308.74 L331.94,307.97 L334.01,307.33 L336.07,306.84 L338.14,306.53 L340.20,306.43 L342.26,306.47 L344.33,306.55 L346.39,306.64 L348.46,306.68 L350.52,305.87 L352.59,304.00 L354.65,301.91 L356.71,300.42 L358.78,299.58 L360.84,298.83 L362.91,298.17 L364.97,297.57 L367.04,297.03 L369.10,296.54 L371.16,296.07 L373.23,295.62 L375.29,295.16 L377.36,294.70 L379.42,294.22 L381.49,293.72 L383.55,293.25 L385.61,292.80 L387.68,292.37 L389.74,291.94 L391.81,291.50 L393.87,291.04 L395.94,290.56 L398.00,290.04 L400.06,289.48 L402.13,288.85 L404.19,288.16 L406.26,287.42 L408.32,286.66 L410.39,285.88 L412.45,285.11 L414.51,284.37 L416.58,283.97 L418.64,283.57 L420.71,283.16 L422.77,282.77 L424.84,282.40 L426.90,282.05 L428.96,281.69 L431.03,281.34 L433.09,281.00 L435.16,280.68 L437.22,280.36 L439.29,280.07 L441.35,279.78 L443.41,279.51 L445.48,279.25 L447.54,279.01 L449.61,278.77 L451.67,278.55 L453.74,278.34 L455.80,278.13 L457.86,277.94 L459.93,277.75 L461.99,277.57 L464.06,277.40 L466.12,277.23 L468.19,277.07 L470.25,276.92 L472.31,276.77 L474.38,276.62 L476.44,276.48 L478.51,276.34 L480.57,276.21 L482.64,276.08 L484.70,275.96 L486.76,275.84 L488.83,275.73 L490.89,275.63 L492.96,275.53 L495.02,275.45 L497.09,275.37 L499.15,275.30 L501.21,275.25 L503.28,275.20 L505.34,275.17 L507.41,275.15 L509.47,275.15 L511.54,275.16 L513.60,275.19 L515.66,275.23 L517.73,275.29 L519.79,275.36 L521.86,275.46 L523.92,275.57 L525.99,275.69 L528.05,275.84 L530.11,276.00 L532.18,276.18 L534.24,276.37 L536.31,276.59 L538.37,276.81 L540.44,277.06 L542.50,277.31 L544.56,277.58 L546.63,277.85 L548.69,278.14 L550.76,278.43 L552.82,278.73 L554.89,279.04 L556.95,279.35 L559.01,279.67 L561.08,279.99 L563.14,280.31 L565.21,280.64 L567.27,280.97 L569.34,281.31 L571.40,281.64 L573.46,281.99 L575.53,282.33 L577.59,282.68 L579.66,283.03 L581.72,283.39 L583.79,283.75 L585.85,284.11 L587.91,284.47 L589.98,284.83 L592.04,285.19 L594.11,285.55 L596.17,285.90 L598.24,286.26 L600.30,286.61 L602.36,286.95 L604.43,287.30 L606.49,287.63 L608.56,287.96 L610.62,288.28 L612.69,288.60 L614.75,288.91 L616.81,289.21 L618.88,289.51 L620.94,289.80 L623.01,290.08 L625.07,290.36 L627.14,290.62 L629.20,290.88 L631.26,291.14 L633.33,291.38 L635.39,291.62 L637.46,291.85 L639.52,292.07 L641.59,292.28 L643.65,292.48 L645.71,292.68 L647.78,292.87 L649.84,293.05 L651.91,293.23 L653.97,293.40 L656.04,293.56 L658.10,293.72 L660.16,293.87 L662.23,294.02 L664.29,294.17 L666.36,294.31 L668.42,294.45 L670.49,294.59 L672.55,294.72 L674.61,294.86 L676.68,294.99 L678.74,295.12 L680.81,295.26 L682.87,295.39 L684.94,295.52 L687.00,295.65 L687.00,335.15 L684.94,334.88 L682.87,334.60 L680.81,334.32 L678.74,334.04 L676.68,333.77 L674.61,333.49 L672.55,333.21 L670.49,332.93 L668.42,332.65 L666.36,332.37 L664.29,332.09 L662.23,331.81 L660.16,331.52 L658.10,331.24 L656.04,330.95 L653.97,330.67 L651.91,330.38 L649.84,330.09 L647.78,329.80 L645.71,329.51 L643.65,329.21 L641.59,328.92 L639.52,328.62 L637.46,328.32 L635.39,328.02 L633.33,327.71 L631.26,327.40 L629.20,327.09 L627.14,326.76 L625.07,326.43 L623.01,326.09 L620.94,325.73 L618.88,325.36 L616.81,324.97 L614.75,324.57 L612.69,324.14 L610.62,323.70 L608.56,323.24 L606.49,322.75 L604.43,322.24 L602.36,321.72 L600.30,321.17 L598.24,320.61 L596.17,320.04 L594.11,319.46 L592.04,318.87 L589.98,318.28 L587.91,317.68 L585.85,317.09 L583.79,316.49 L581.72,315.90 L579.66,315.30 L577.59,314.71 L575.53,314.12 L573.46,313.53 L571.40,312.94 L569.34,312.34 L567.27,311.73 L565.21,311.12 L563.14,310.50 L561.08,309.87 L559.01,309.24 L556.95,308.60 L554.89,307.95 L552.82,307.30 L550.76,306.64 L548.69,305.99 L546.63,305.35 L544.56,304.71 L542.50,304.09 L540.44,303.49 L538.37,302.92 L536.31,302.37 L534.24,301.85 L532.18,301.36 L530.11,300.91 L528.05,300.49 L525.99,300.12 L523.92,299.78 L521.86,299.47 L519.79,299.21 L517.73,298.97 L515.66,298.77 L513.60,298.60 L511.54,298.45 L509.47,298.32 L507.41,298.21 L505.34,298.13 L503.28,298.05 L501.21,297.99 L499.15,297.95 L497.09,297.91 L495.02,297.89 L492.96,297.87 L490.89,297.87 L488.83,297.88 L486.76,297.89 L484.70,297.92 L482.64,297.96 L480.57,298.02 L478.51,298.09 L476.44,298.17 L474.38,298.27 L472.31,298.39 L470.25,298.52 L468.19,298.66 L466.12,298.83 L464.06,299.00 L461.99,299.19 L459.93,299.39 L457.86,299.61 L455.80,299.83 L453.74,300.07 L451.67,300.32 L449.61,300.57 L447.54,300.83 L445.48,301.10 L443.41,301.38 L441.35,301.66 L439.29,301.95 L437.22,302.25 L435.16,302.56 L433.09,302.87 L431.03,303.19 L428.96,303.51 L426.90,303.85 L424.84,304.17 L422.77,304.50 L420.71,304.85 L418.64,305.21 L416.58,305.56 L414.51,305.91 L412.45,306.14 L410.39,306.35 L408.32,306.56 L406.26,306.78 L404.19,307.01 L402.13,307.26 L400.06,307.54 L398.00,307.86 L395.94,308.18 L393.87,308.53 L391.81,308.89 L389.74,309.26 L387.68,309.66 L385.61,310.08 L383.55,310.52 L381.49,310.99 L379.42,311.48 L377.36,312.00 L375.29,312.55 L373.23,313.12 L371.16,313.73 L369.10,314.37 L367.04,315.05 L364.97,315.76 L362.91,316.51 L360.84,317.30 L358.78,318.12 L356.71,318.99 L354.65,320.42 L352.59,322.39 L350.52,324.14 L348.46,324.89 L346.39,324.73 L344.33,324.38 L342.26,324.03 L340.20,323.87 L338.14,323.93 L336.07,324.11 L334.01,324.39 L331.94,324.77 L329.88,325.23 L327.81,325.75 L325.75,326.34 L323.69,326.97 L321.62,327.64 L319.56,328.32 L317.49,329.02 L315.43,329.72 L313.36,330.40 L311.30,331.06 L309.24,331.69 L307.17,332.33 L305.11,333.01 L303.04,333.72 L300.98,334.47 L298.91,335.24 L296.85,336.02 L294.79,336.83 L292.72,337.63 L290.66,338.45 L288.59,339.25 L286.53,340.05 L284.46,340.84 L282.40,341.61 L280.34,342.35 L278.27,343.07 L276.21,343.75 L274.14,344.39 L272.08,345.00 L270.01,345.61 L267.95,346.21 L265.89,346.80 L263.82,347.39 L261.76,347.96 L259.69,348.52 L257.63,349.07 L255.56,349.60 L253.50,350.12 L251.44,350.62 L249.37,351.11 L247.31,351.57 L245.24,352.02 L243.18,352.45 L241.11,352.85 L239.05,353.24 L236.99,353.61 L234.92,353.98 L232.86,354.32 L230.79,354.66 L228.73,354.98 L226.66,355.30 L224.60,355.60 L222.54,355.89 L220.47,356.17 L218.41,356.44 L216.34,356.70 L214.28,356.94 L212.21,357.16 L210.15,357.36 L208.09,357.55 L206.02,357.74 L203.96,357.92 L201.89,358.10 L199.83,358.29 L197.76,358.50 L195.70,358.73 L193.64,358.98 L191.57,359.26 L189.51,359.60 L187.44,360.01 L185.38,360.47 L183.31,360.96 L181.25,361.48 L179.19,362.00 L177.12,362.52 L175.06,363.01 L172.99,363.50 L170.93,364.01 L168.86,364.53 L166.80,365.07 L164.74,365.61 L162.67,366.16 L160.61,366.71 L158.54,367.26 L156.48,367.80 L154.41,368.33 L152.35,368.85 L150.29,369.34 L148.22,369.81 L146.16,370.26 L144.09,370.67 L142.03,371.05 L139.96,371.39 L137.90,371.69 L135.84,371.97 L133.77,372.22 L131.71,372.46 L129.64,372.69 L127.58,372.90 L125.51,373.10 L123.45,373.30 L121.39,373.49 L119.32,373.68 L117.26,373.86 L115.19,374.05 L113.13,374.25 L111.06,374.45 L109.00,374.65Z" fill="#2f7cc2"/>
<path d="M109.00,365.93 L111.06,365.88 L113.13,365.83 L115.19,365.77 L117.26,365.68 L119.32,365.50 L121.39,365.20 L123.45,364.82 L125.51,364.39 L127.58,363.85 L129.64,363.17 L131.71,362.45 L133.77,361.83 L135.84,361.29 L137.90,360.76 L139.96,360.24 L142.03,359.75 L144.09,359.30 L146.16,358.89 L148.22,358.53 L150.29,358.24 L152.35,358.03 L154.41,357.87 L156.48,357.70 L158.54,357.47 L160.61,357.07 L162.67,356.49 L164.74,355.82 L166.80,355.16 L168.86,354.48 L170.93,353.75 L172.99,353.02 L175.06,352.34 L177.12,351.70 L179.19,351.05 L181.25,350.41 L183.31,349.79 L185.38,349.21 L187.44,348.67 L189.51,348.19 L191.57,347.77 L193.64,347.44 L195.70,347.16 L197.76,346.90 L199.83,346.59 L201.89,346.26 L203.96,345.91 L206.02,345.57 L208.09,345.21 L210.15,344.86 L212.21,344.49 L214.28,344.13 L216.34,343.75 L218.41,343.38 L220.47,342.99 L222.54,342.60 L224.60,342.21 L226.66,341.81 L228.73,341.40 L230.79,340.99 L232.86,340.57 L234.92,340.14 L236.99,339.71 L239.05,339.28 L241.11,338.83 L243.18,338.38 L245.24,337.93 L247.31,337.46 L249.37,336.99 L251.44,336.52 L253.50,336.03 L255.56,335.54 L257.63,335.04 L259.69,334.54 L261.76,334.03 L263.82,333.51 L265.89,332.98 L267.95,332.44 L270.01,331.90 L272.08,331.35 L274.14,330.79 L276.21,330.22 L278.27,329.61 L280.34,328.97 L282.40,328.31 L284.46,327.63 L286.53,326.93 L288.59,326.20 L290.66,325.47 L292.72,324.72 L294.79,323.96 L296.85,323.19 L298.91,322.41 L300.98,321.63 L303.04,320.85 L305.11,320.08 L307.17,319.30 L309.24,318.53 L311.30,317.73 L313.36,316.83 L315.43,315.85 L317.49,314.82 L319.56,313.75 L321.62,312.67 L323.69,311.61 L325.75,310.59 L327.81,309.62 L329.88,308.74 L331.94,307.97 L334.01,307.33 L336.07,306.84 L338.14,306.53 L340.20,306.43 L342.26,306.47 L344.33,306.55 L346.39,306.64 L348.46,306.68 L350.52,305.87 L352.59,304.00 L354.65,301.91 L356.71,300.42 L358.78,299.58 L360.84,298.82 L362.91,298.15 L364.97,297.55 L367.04,297.01 L369.10,296.50 L371.16,296.03 L373.23,295.57 L375.29,295.12 L377.36,294.65 L379.42,294.16 L381.49,293.65 L383.55,293.18 L385.61,292.72 L387.68,292.28 L389.74,291.85 L391.81,291.40 L393.87,290.94 L395.94,290.46 L398.00,289.94 L400.06,289.37 L402.13,288.73 L404.19,288.03 L406.26,287.29 L408.32,286.52 L410.39,285.74 L412.45,284.96 L414.51,284.21 L416.58,283.81 L418.64,283.40 L420.71,282.99 L422.77,282.60 L424.84,282.22 L426.90,281.87 L428.96,281.50 L431.03,281.15 L433.09,280.80 L435.16,280.47 L437.22,280.16 L439.29,279.85 L441.35,279.56 L443.41,279.29 L445.48,279.02 L447.54,278.77 L449.61,278.54 L451.67,278.31 L453.74,278.09 L455.80,277.88 L457.86,277.68 L459.93,277.49 L461.99,277.31 L464.06,277.13 L466.12,276.96 L468.19,276.79 L470.25,276.63 L472.31,276.47 L474.38,276.32 L476.44,276.18 L478.51,276.04 L480.57,275.90 L482.64,275.77 L484.70,275.64 L486.76,275.52 L488.83,275.40 L490.89,275.29 L492.96,275.19 L495.02,275.10 L497.09,275.02 L499.15,274.95 L501.21,274.88 L503.28,274.84 L505.34,274.80 L507.41,274.78 L509.47,274.77 L511.54,274.78 L513.60,274.80 L515.66,274.83 L517.73,274.89 L519.79,274.96 L521.86,275.05 L523.92,275.15 L525.99,275.28 L528.05,275.42 L530.11,275.58 L532.18,275.76 L534.24,275.95 L536.31,276.16 L538.37,276.38 L540.44,276.62 L542.50,276.87 L544.56,277.14 L546.63,277.41 L548.69,277.70 L550.76,277.99 L552.82,278.29 L554.89,278.59 L556.95,278.90 L559.01,279.21 L561.08,279.53 L563.14,279.85 L565.21,280.18 L567.27,280.50 L569.34,280.84 L571.40,281.17 L573.46,281.51 L575.53,281.86 L577.59,282.20 L579.66,282.55 L581.72,282.90 L583.79,283.26 L585.85,283.62 L587.91,283.97 L589.98,284.33 L592.04,284.69 L594.11,285.05 L596.17,285.40 L598.24,285.75 L600.30,286.10 L602.36,286.44 L604.43,286.78 L606.49,287.12 L608.56,287.44 L610.62,287.76 L612.69,288.08 L614.75,288.38 L616.81,288.68 L618.88,288.98 L620.94,289.27 L623.01,289.54 L625.07,289.82 L627.14,290.08 L629.20,290.34 L631.26,290.59 L633.33,290.83 L635.39,291.07 L637.46,291.29 L639.52,291.51 L641.59,291.72 L643.65,291.92 L645.71,292.12 L647.78,292.30 L649.84,292.48 L651.91,292.66 L653.97,292.82 L656.04,292.98 L658.10,293.14 L660.16,293.29 L662.23,293.44 L664.29,293.58 L666.36,293.72 L668.42,293.86 L670.49,293.99 L672.55,294.13 L674.61,294.26 L676.68,294.39 L678.74,294.52 L680.81,294.65 L682.87,294.78 L684.94,294.91 L687.00,295.04 L687.00,295.65 L684.94,295.52 L682.87,295.39 L680.81,295.26 L678.74,295.12 L676.68,294.99 L674.61,294.86 L672.55,294.72 L670.49,294.59 L668.42,294.45 L666.36,294.31 L664.29,294.17 L662.23,294.02 L660.16,293.87 L658.10,293.72 L656.04,293.56 L653.97,293.40 L651.91,293.23 L649.84,293.05 L647.78,292.87 L645.71,292.68 L643.65,292.48 L641.59,292.28 L639.52,292.07 L637.46,291.85 L635.39,291.62 L633.33,291.38 L631.26,291.14 L629.20,290.88 L627.14,290.62 L625.07,290.36 L623.01,290.08 L620.94,289.80 L618.88,289.51 L616.81,289.21 L614.75,288.91 L612.69,288.60 L610.62,288.28 L608.56,287.96 L606.49,287.63 L604.43,287.30 L602.36,286.95 L600.30,286.61 L598.24,286.26 L596.17,285.90 L594.11,285.55 L592.04,285.19 L589.98,284.83 L587.91,284.47 L585.85,284.11 L583.79,283.75 L581.72,283.39 L579.66,283.03 L577.59,282.68 L575.53,282.33 L573.46,281.99 L571.40,281.64 L569.34,281.31 L567.27,280.97 L565.21,280.64 L563.14,280.31 L561.08,279.99 L559.01,279.67 L556.95,279.35 L554.89,279.04 L552.82,278.73 L550.76,278.43 L548.69,278.14 L546.63,277.85 L544.56,277.58 L542.50,277.31 L540.44,277.06 L538.37,276.81 L536.31,276.59 L534.24,276.37 L532.18,276.18 L530.11,276.00 L528.05,275.84 L525.99,275.69 L523.92,275.57 L521.86,275.46 L519.79,275.36 L517.73,275.29 L515.66,275.23 L513.60,275.19 L511.54,275.16 L509.47,275.15 L507.41,275.15 L505.34,275.17 L503.28,275.20 L501.21,275.25 L499.15,275.30 L497.09,275.37 L495.02,275.45 L492.96,275.53 L490.89,275.63 L488.83,275.73 L486.76,275.84 L484.70,275.96 L482.64,276.08 L480.57,276.21 L478.51,276.34 L476.44,276.48 L474.38,276.62 L472.31,276.77 L470.25,276.92 L468.19,277.07 L466.12,277.23 L464.06,277.40 L461.99,277.57 L459.93,277.75 L457.86,277.94 L455.80,278.13 L453.74,278.34 L451.67,278.55 L449.61,278.77 L447.54,279.01 L445.48,279.25 L443.41,279.51 L441.35,279.78 L439.29,280.07 L437.22,280.36 L435.16,280.68 L433.09,281.00 L431.03,281.34 L428.96,281.69 L426.90,282.05 L424.84,282.40 L422.77,282.77 L420.71,283.16 L418.64,283.57 L416.58,283.97 L414.51,284.37 L412.45,285.11 L410.39,285.88 L408.32,286.66 L406.26,287.42 L404.19,288.16 L402.13,288.85 L400.06,289.48 L398.00,290.04 L395.94,290.56 L393.87,291.04 L391.81,291.50 L389.74,291.94 L387.68,292.37 L385.61,292.80 L383.55,293.25 L381.49,293.72 L379.42,294.22 L377.36,294.70 L375.29,295.16 L373.23,295.62 L371.16,296.07 L369.10,296.54 L367.04,297.03 L364.97,297.57 L362.91,298.17 L360.84,298.83 L358.78,299.58 L356.71,300.42 L354.65,301.91 L352.59,304.00 L350.52,305.87 L348.46,306.68 L346.39,306.64 L344.33,306.55 L342.26,306.47 L340.20,306.43 L338.14,306.53 L336.07,306.84 L334.01,307.33 L331.94,307.97 L329.88,308.74 L327.81,309.62 L325.75,310.59 L323.69,311.61 L321.62,312.67 L319.56,313.75 L317.49,314.82 L315.43,315.85 L313.36,316.83 L311.30,317.73 L309.24,318.53 L307.17,319.30 L305.11,320.08 L303.04,320.85 L300.98,321.63 L298.91,322.41 L296.85,323.19 L294.79,323.96 L292.72,324.72 L290.66,325.47 L288.59,326.20 L286.53,326.93 L284.46,327.63 L282.40,328.31 L280.34,328.97 L278.27,329.61 L276.21,330.22 L274.14,330.79 L272.08,331.35 L270.01,331.90 L267.95,332.44 L265.89,332.98 L263.82,333.51 L261.76,334.03 L259.69,334.54 L257.63,335.04 L255.56,335.54 L253.50,336.03 L251.44,336.52 L249.37,336.99 L247.31,337.46 L245.24,337.93 L243.18,338.38 L241.11,338.83 L239.05,339.28 L236.99,339.71 L234.92,340.14 L232.86,340.57 L230.79,340.99 L228.73,341.40 L226.66,341.81 L224.60,342.21 L222.54,342.60 L220.47,342.99 L218.41,343.38 L216.34,343.75 L214.28,344.13 L212.21,344.49 L210.15,344.86 L208.09,345.21 L206.02,345.57 L203.96,345.91 L201.89,346.26 L199.83,346.59 L197.76,346.90 L195.70,347.16 L193.64,347.44 L191.57,347.77 L189.51,348.19 L187.44,348.67 L185.38,349.21 L183.31,349.79 L181.25,350.41 L179.19,351.05 L177.12,351.70 L175.06,352.34 L172.99,353.02 L170.93,353.75 L168.86,354.48 L166.80,355.16 L164.74,355.82 L162.67,356.49 L160.61,357.07 L158.54,357.47 L156.48,357.70 L154.41,357.87 L152.35,358.03 L150.29,358.24 L148.22,358.53 L146.16,358.89 L144.09,359.30 L142.03,359.75 L139.96,360.24 L137.90,360.76 L135.84,361.29 L133.77,361.83 L131.71,362.45 L129.64,363.17 L127.58,363.85 L125.51,364.39 L123.45,364.82 L121.39,365.20 L119.32,365.50 L117.26,365.68 L115.19,365.77 L113.13,365.83 L111.06,365.88 L109.00,365.93Z" fill="#f29a50"/>
<path d="M109.00,365.93 L111.06,365.88 L113.13,365.83 L115.19,365.77 L117.26,365.68 L119.32,365.50 L121.39,365.20 L123.45,364.82 L125.51,364.39 L127.58,363.85 L129.64,363.17 L131.71,362.45 L133.77,361.83 L135.84,361.29 L137.90,360.76 L139.96,360.24 L142.03,359.75 L144.09,359.30 L146.16,358.89 L148.22,358.53 L150.29,358.24 L152.35,358.03 L154.41,357.87 L156.48,357.70 L158.54,357.47 L160.61,357.07 L162.67,356.49 L164.74,355.82 L166.80,355.16 L168.86,354.48 L170.93,353.75 L172.99,353.02 L175.06,352.34 L177.12,351.70 L179.19,351.05 L181.25,350.41 L183.31,349.79 L185.38,349.21 L187.44,348.67 L189.51,348.19 L191.57,347.77 L193.64,347.44 L195.70,347.16 L197.76,346.90 L199.83,346.59 L201.89,346.26 L203.96,345.91 L206.02,345.57 L208.09,345.21 L210.15,344.86 L212.21,344.49 L214.28,344.13 L216.34,343.75 L218.41,343.38 L220.47,342.99 L222.54,342.60 L224.60,342.21 L226.66,341.81 L228.73,341.40 L230.79,340.99 L232.86,340.57 L234.92,340.14 L236.99,339.71 L239.05,339.28 L241.11,338.83 L243.18,338.38 L245.24,337.93 L247.31,337.46 L249.37,336.99 L251.44,336.52 L253.50,336.03 L255.56,335.54 L257.63,335.04 L259.69,334.54 L261.76,334.03 L263.82,333.51 L265.89,332.98 L267.95,332.44 L270.01,331.90 L272.08,331.35 L274.14,330.79 L276.21,330.22 L278.27,329.61 L280.34,328.97 L282.40,328.31 L284.46,327.63 L286.53,326.93 L288.59,326.20 L290.66,325.47 L292.72,324.72 L294.79,323.96 L296.85,323.19 L298.91,322.41 L300.98,321.63 L303.04,320.85 L305.11,320.08 L307.17,319.30 L309.24,318.53 L311.30,317.73 L313.36,316.83 L315.43,315.85 L317.49,314.82 L319.56,313.75 L321.62,312.67 L323.69,311.61 L325.75,310.59 L327.81,309.62 L329.88,308.74 L331.94,307.97 L334.01,307.33 L336.07,306.84 L338.14,306.53 L340.20,306.43 L342.26,306.47 L344.33,306.55 L346.39,306.64 L348.46,306.68 L350.52,305.85 L352.59,303.95 L354.65,301.83 L356.71,300.32 L358.78,299.45 L360.84,298.68 L362.91,297.99 L364.97,297.37 L367.04,296.80 L369.10,296.28 L371.16,295.79 L373.23,295.31 L375.29,294.83 L377.36,294.34 L379.42,293.83 L381.49,293.31 L383.55,292.77 L385.61,292.25 L387.68,291.75 L389.74,291.25 L391.81,290.74 L393.87,290.21 L395.94,289.66 L398.00,289.07 L400.06,288.39 L402.13,287.40 L404.19,286.35 L406.26,285.26 L408.32,284.13 L410.39,283.00 L412.45,281.88 L414.51,280.78 L416.58,280.35 L418.64,279.93 L420.71,279.52 L422.77,279.09 L424.84,278.65 L426.90,278.20 L428.96,277.76 L431.03,277.31 L433.09,276.85 L435.16,276.39 L437.22,275.91 L439.29,275.43 L441.35,274.93 L443.41,274.43 L445.48,273.91 L447.54,273.38 L449.61,272.85 L451.67,272.30 L453.74,271.74 L455.80,271.18 L457.86,270.60 L459.93,270.01 L461.99,269.42 L464.06,268.81 L466.12,268.20 L468.19,267.58 L470.25,266.95 L472.31,266.31 L474.38,265.66 L476.44,265.00 L478.51,264.33 L480.57,263.66 L482.64,262.97 L484.70,262.28 L486.76,261.58 L488.83,260.86 L490.89,260.14 L492.96,259.42 L495.02,258.68 L497.09,257.95 L499.15,257.20 L501.21,256.46 L503.28,255.71 L505.34,254.97 L507.41,254.22 L509.47,253.48 L511.54,252.75 L513.60,252.01 L515.66,251.29 L517.73,250.57 L519.79,249.86 L521.86,249.16 L523.92,248.46 L525.99,247.77 L528.05,247.09 L530.11,246.42 L532.18,245.76 L534.24,245.10 L536.31,244.44 L538.37,243.79 L540.44,243.15 L542.50,242.50 L544.56,241.86 L546.63,241.22 L548.69,240.58 L550.76,239.94 L552.82,239.30 L554.89,238.66 L556.95,238.02 L559.01,237.37 L561.08,236.72 L563.14,236.07 L565.21,235.41 L567.27,234.76 L569.34,234.10 L571.40,233.43 L573.46,232.77 L575.53,232.10 L577.59,231.43 L579.66,230.77 L581.72,230.10 L583.79,229.43 L585.85,228.76 L587.91,228.10 L589.98,227.44 L592.04,226.78 L594.11,226.13 L596.17,225.47 L598.24,224.83 L600.30,224.19 L602.36,223.55 L604.43,222.92 L606.49,222.29 L608.56,221.67 L610.62,221.05 L612.69,220.44 L614.75,219.83 L616.81,219.23 L618.88,218.63 L620.94,218.04 L623.01,217.44 L625.07,216.85 L627.14,216.26 L629.20,215.67 L631.26,215.09 L633.33,214.50 L635.39,213.92 L637.46,213.33 L639.52,212.75 L641.59,212.16 L643.65,211.58 L645.71,210.99 L647.78,210.40 L649.84,209.82 L651.91,209.23 L653.97,208.64 L656.04,208.05 L658.10,207.47 L660.16,206.88 L662.23,206.29 L664.29,205.70 L666.36,205.11 L668.42,204.52 L670.49,203.93 L672.55,203.34 L674.61,202.75 L676.68,202.16 L678.74,201.57 L680.81,200.98 L682.87,200.39 L684.94,199.80 L687.00,199.21 L687.00,295.04 L684.94,294.91 L682.87,294.78 L680.81,294.65 L678.74,294.52 L676.68,294.39 L674.61,294.26 L672.55,294.13 L670.49,293.99 L668.42,293.86 L666.36,293.72 L664.29,293.58 L662.23,293.44 L660.16,293.29 L658.10,293.14 L656.04,292.98 L653.97,292.82 L651.91,292.66 L649.84,292.48 L647.78,292.30 L645.71,292.12 L643.65,291.92 L641.59,291.72 L639.52,291.51 L637.46,291.29 L635.39,291.07 L633.33,290.83 L631.26,290.59 L629.20,290.34 L627.14,290.08 L625.07,289.82 L623.01,289.54 L620.94,289.27 L618.88,288.98 L616.81,288.68 L614.75,288.38 L612.69,288.08 L610.62,287.76 L608.56,287.44 L606.49,287.12 L604.43,286.78 L602.36,286.44 L600.30,286.10 L598.24,285.75 L596.17,285.40 L594.11,285.05 L592.04,284.69 L589.98,284.33 L587.91,283.97 L585.85,283.62 L583.79,283.26 L581.72,282.90 L579.66,282.55 L577.59,282.20 L575.53,281.86 L573.46,281.51 L571.40,281.17 L569.34,280.84 L567.27,280.50 L565.21,280.18 L563.14,279.85 L561.08,279.53 L559.01,279.21 L556.95,278.90 L554.89,278.59 L552.82,278.29 L550.76,277.99 L548.69,277.70 L546.63,277.41 L544.56,277.14 L542.50,276.87 L540.44,276.62 L538.37,276.38 L536.31,276.16 L534.24,275.95 L532.18,275.76 L530.11,275.58 L528.05,275.42 L525.99,275.28 L523.92,275.15 L521.86,275.05 L519.79,274.96 L517.73,274.89 L515.66,274.83 L513.60,274.80 L511.54,274.78 L509.47,274.77 L507.41,274.78 L505.34,274.80 L503.28,274.84 L501.21,274.88 L499.15,274.95 L497.09,275.02 L495.02,275.10 L492.96,275.19 L490.89,275.29 L488.83,275.40 L486.76,275.52 L484.70,275.64 L482.64,275.77 L480.57,275.90 L478.51,276.04 L476.44,276.18 L474.38,276.32 L472.31,276.47 L470.25,276.63 L468.19,276.79 L466.12,276.96 L464.06,277.13 L461.99,277.31 L459.93,277.49 L457.86,277.68 L455.80,277.88 L453.74,278.09 L451.67,278.31 L449.61,278.54 L447.54,278.77 L445.48,279.02 L443.41,279.29 L441.35,279.56 L439.29,279.85 L437.22,280.16 L435.16,280.47 L433.09,280.80 L431.03,281.15 L428.96,281.50 L426.90,281.87 L424.84,282.22 L422.77,282.60 L420.71,282.99 L418.64,283.40 L416.58,283.81 L414.51,284.21 L412.45,284.96 L410.39,285.74 L408.32,286.52 L406.26,287.29 L404.19,288.03 L402.13,288.73 L400.06,289.37 L398.00,289.94 L395.94,290.46 L393.87,290.94 L391.81,291.40 L389.74,291.85 L387.68,292.28 L385.61,292.72 L383.55,293.18 L381.49,293.65 L379.42,294.16 L377.36,294.65 L375.29,295.12 L373.23,295.57 L371.16,296.03 L369.10,296.50 L367.04,297.01 L364.97,297.55 L362.91,298.15 L360.84,298.82 L358.78,299.58 L356.71,300.42 L354.65,301.91 L352.59,304.00 L350.52,305.87 L348.46,306.68 L346.39,306.64 L344.33,306.55 L342.26,306.47 L340.20,306.43 L338.14,306.53 L336.07,306.84 L334.01,307.33 L331.94,307.97 L329.88,308.74 L327.81,309.62 L325.75,310.59 L323.69,311.61 L321.62,312.67 L319.56,313.75 L317.49,314.82 L315.43,315.85 L313.36,316.83 L311.30,317.73 L309.24,318.53 L307.17,319.30 L305.11,320.08 L303.04,320.85 L300.98,321.63 L298.91,322.41 L296.85,323.19 L294.79,323.96 L292.72,324.72 L290.66,325.47 L288.59,326.20 L286.53,326.93 L284.46,327.63 L282.40,328.31 L280.34,328.97 L278.27,329.61 L276.21,330.22 L274.14,330.79 L272.08,331.35 L270.01,331.90 L267.95,332.44 L265.89,332.98 L263.82,333.51 L261.76,334.03 L259.69,334.54 L257.63,335.04 L255.56,335.54 L253.50,336.03 L251.44,336.52 L249.37,336.99 L247.31,337.46 L245.24,337.93 L243.18,338.38 L241.11,338.83 L239.05,339.28 L236.99,339.71 L234.92,340.14 L232.86,340.57 L230.79,340.99 L228.73,341.40 L226.66,341.81 L224.60,342.21 L222.54,342.60 L220.47,342.99 L218.41,343.38 L216.34,343.75 L214.28,344.13 L212.21,344.49 L210.15,344.86 L208.09,345.21 L206.02,345.57 L203.96,345.91 L201.89,346.26 L199.83,346.59 L197.76,346.90 L195.70,347.16 L193.64,347.44 L191.57,347.77 L189.51,348.19 L187.44,348.67 L185.38,349.21 L183.31,349.79 L181.25,350.41 L179.19,351.05 L177.12,351.70 L175.06,352.34 L172.99,353.02 L170.93,353.75 L168.86,354.48 L166.80,355.16 L164.74,355.82 L162.67,356.49 L160.61,357.07 L158.54,357.47 L156.48,357.70 L154.41,357.87 L152.35,358.03 L150.29,358.24 L148.22,358.53 L146.16,358.89 L144.09,359.30 L142.03,359.75 L139.96,360.24 L137.90,360.76 L135.84,361.29 L133.77,361.83 L131.71,362.45 L129.64,363.17 L127.58,363.85 L125.51,364.39 L123.45,364.82 L121.39,365.20 L119.32,365.50 L117.26,365.68 L115.19,365.77 L113.13,365.83 L111.06,365.88 L109.00,365.93Z" fill="#fcda2c"/>
<path d="M109.00,365.93 L111.06,365.88 L113.13,365.82 L115.19,365.76 L117.26,365.67 L119.32,365.49 L121.39,365.19 L123.45,364.80 L125.51,364.38 L127.58,363.84 L129.64,363.15 L131.71,362.43 L133.77,361.81 L135.84,361.27 L137.90,360.73 L139.96,360.22 L142.03,359.72 L144.09,359.27 L146.16,358.85 L148.22,358.50 L150.29,358.20 L152.35,357.99 L154.41,357.83 L156.48,357.66 L158.54,357.42 L160.61,357.02 L162.67,356.44 L164.74,355.77 L166.80,355.11 L168.86,354.43 L170.93,353.69 L172.99,352.96 L175.06,352.28 L177.12,351.63 L179.19,350.98 L181.25,350.34 L183.31,349.72 L185.38,349.14 L187.44,348.60 L189.51,348.11 L191.57,347.70 L193.64,347.36 L195.70,347.08 L197.76,346.81 L199.83,346.51 L201.89,346.17 L203.96,345.83 L206.02,345.48 L208.09,345.12 L210.15,344.76 L212.21,344.40 L214.28,344.03 L216.34,343.65 L218.41,343.27 L220.47,342.89 L222.54,342.50 L224.60,342.10 L226.66,341.70 L228.73,341.29 L230.79,340.87 L232.86,340.45 L234.92,340.03 L236.99,339.59 L239.05,339.16 L241.11,338.71 L243.18,338.26 L245.24,337.80 L247.31,337.33 L249.37,336.86 L251.44,336.38 L253.50,335.90 L255.56,335.41 L257.63,334.91 L259.69,334.40 L261.76,333.88 L263.82,333.36 L265.89,332.83 L267.95,332.30 L270.01,331.75 L272.08,331.20 L274.14,330.64 L276.21,330.05 L278.27,329.43 L280.34,328.78 L282.40,328.11 L284.46,327.41 L286.53,326.70 L288.59,325.96 L290.66,325.21 L292.72,324.45 L294.79,323.67 L296.85,322.89 L298.91,322.10 L300.98,321.31 L303.04,320.52 L305.11,319.73 L307.17,318.94 L309.24,318.16 L311.30,317.35 L313.36,316.43 L315.43,315.44 L317.49,314.38 L319.56,313.28 L321.62,312.17 L323.69,311.08 L325.75,310.03 L327.81,309.03 L329.88,308.12 L331.94,307.32 L334.01,306.65 L336.07,306.13 L338.14,305.79 L340.20,305.66 L342.26,305.60 L344.33,305.59 L346.39,305.58 L348.46,305.53 L350.52,304.62 L352.59,302.65 L354.65,300.46 L356.71,298.88 L358.78,297.87 L360.84,296.95 L362.91,296.12 L364.97,295.35 L367.04,294.64 L369.10,293.97 L371.16,293.33 L373.23,292.71 L375.29,292.09 L377.36,291.45 L379.42,290.80 L381.49,290.13 L383.55,289.25 L385.61,288.39 L387.68,287.55 L389.74,286.71 L391.81,285.87 L393.87,285.00 L395.94,284.11 L398.00,283.19 L400.06,282.29 L402.13,281.58 L404.19,280.82 L406.26,280.01 L408.32,279.18 L410.39,278.33 L412.45,277.49 L414.51,276.67 L416.58,276.04 L418.64,275.42 L420.71,274.79 L422.77,274.15 L424.84,273.48 L426.90,272.79 L428.96,272.10 L431.03,271.40 L433.09,270.68 L435.16,269.94 L437.22,269.18 L439.29,268.39 L441.35,267.57 L443.41,266.73 L445.48,265.86 L447.54,264.97 L449.61,264.05 L451.67,263.10 L453.74,262.13 L455.80,261.15 L457.86,260.14 L459.93,259.12 L461.99,258.08 L464.06,257.04 L466.12,255.99 L468.19,254.93 L470.25,253.88 L472.31,252.82 L474.38,251.76 L476.44,250.70 L478.51,249.65 L480.57,248.60 L482.64,247.55 L484.70,246.51 L486.76,245.48 L488.83,244.44 L490.89,243.41 L492.96,242.38 L495.02,241.36 L497.09,240.33 L499.15,239.31 L501.21,238.28 L503.28,237.25 L505.34,236.22 L507.41,235.18 L509.47,234.14 L511.54,233.10 L513.60,232.05 L515.66,230.99 L517.73,229.93 L519.79,228.86 L521.86,227.78 L523.92,226.69 L525.99,225.60 L528.05,224.50 L530.11,223.40 L532.18,222.29 L534.24,221.17 L536.31,220.05 L538.37,218.93 L540.44,217.80 L542.50,216.67 L544.56,215.54 L546.63,214.41 L548.69,213.28 L550.76,212.16 L552.82,211.03 L554.89,209.91 L556.95,208.80 L559.01,207.69 L561.08,206.58 L563.14,205.48 L565.21,204.38 L567.27,203.29 L569.34,202.20 L571.40,201.12 L573.46,200.04 L575.53,198.97 L577.59,197.90 L579.66,196.84 L581.72,195.78 L583.79,194.73 L585.85,193.68 L587.91,192.63 L589.98,191.59 L592.04,190.55 L594.11,189.51 L596.17,188.48 L598.24,187.45 L600.30,186.43 L602.36,185.41 L604.43,184.39 L606.49,183.38 L608.56,182.37 L610.62,181.37 L612.69,180.37 L614.75,179.37 L616.81,178.37 L618.88,177.38 L620.94,176.40 L623.01,175.42 L625.07,174.44 L627.14,173.47 L629.20,172.50 L631.26,171.54 L633.33,170.58 L635.39,169.63 L637.46,168.68 L639.52,167.74 L641.59,166.81 L643.65,165.88 L645.71,164.96 L647.78,164.05 L649.84,163.14 L651.91,162.23 L653.97,161.33 L656.04,160.44 L658.10,159.55 L660.16,158.67 L662.23,157.79 L664.29,156.91 L666.36,156.04 L668.42,155.17 L670.49,154.30 L672.55,153.44 L674.61,152.57 L676.68,151.71 L678.74,150.84 L680.81,149.98 L682.87,149.12 L684.94,148.26 L687.00,147.40 L687.00,199.21 L684.94,199.80 L682.87,200.39 L680.81,200.98 L678.74,201.57 L676.68,202.16 L674.61,202.75 L672.55,203.34 L670.49,203.93 L668.42,204.52 L666.36,205.11 L664.29,205.70 L662.23,206.29 L660.16,206.88 L658.10,207.47 L656.04,208.05 L653.97,208.64 L651.91,209.23 L649.84,209.82 L647.78,210.40 L645.71,210.99 L643.65,211.58 L641.59,212.16 L639.52,212.75 L637.46,213.33 L635.39,213.92 L633.33,214.50 L631.26,215.09 L629.20,215.67 L627.14,216.26 L625.07,216.85 L623.01,217.44 L620.94,218.04 L618.88,218.63 L616.81,219.23 L614.75,219.83 L612.69,220.44 L610.62,221.05 L608.56,221.67 L606.49,222.29 L604.43,222.92 L602.36,223.55 L600.30,224.19 L598.24,224.83 L596.17,225.47 L594.11,226.13 L592.04,226.78 L589.98,227.44 L587.91,228.10 L585.85,228.76 L583.79,229.43 L581.72,230.10 L579.66,230.77 L577.59,231.43 L575.53,232.10 L573.46,232.77 L571.40,233.43 L569.34,234.10 L567.27,234.76 L565.21,235.41 L563.14,236.07 L561.08,236.72 L559.01,237.37 L556.95,238.02 L554.89,238.66 L552.82,239.30 L550.76,239.94 L548.69,240.58 L546.63,241.22 L544.56,241.86 L542.50,242.50 L540.44,243.15 L538.37,243.79 L536.31,244.44 L534.24,245.10 L532.18,245.76 L530.11,246.42 L528.05,247.09 L525.99,247.77 L523.92,248.46 L521.86,249.16 L519.79,249.86 L517.73,250.57 L515.66,251.29 L513.60,252.01 L511.54,252.75 L509.47,253.48 L507.41,254.22 L505.34,254.97 L503.28,255.71 L501.21,256.46 L499.15,257.20 L497.09,257.95 L495.02,258.68 L492.96,259.42 L490.89,260.14 L488.83,260.86 L486.76,261.58 L484.70,262.28 L482.64,262.97 L480.57,263.66 L478.51,264.33 L476.44,265.00 L474.38,265.66 L472.31,266.31 L470.25,266.95 L468.19,267.58 L466.12,268.20 L464.06,268.81 L461.99,269.42 L459.93,270.01 L457.86,270.60 L455.80,271.18 L453.74,271.74 L451.67,272.30 L449.61,272.85 L447.54,273.38 L445.48,273.91 L443.41,274.43 L441.35,274.93 L439.29,275.43 L437.22,275.91 L435.16,276.39 L433.09,276.85 L431.03,277.31 L428.96,277.76 L426.90,278.20 L424.84,278.65 L422.77,279.09 L420.71,279.52 L418.64,279.93 L416.58,280.35 L414.51,280.78 L412.45,281.88 L410.39,283.00 L408.32,284.13 L406.26,285.26 L404.19,286.35 L402.13,287.40 L400.06,288.39 L398.00,289.07 L395.94,289.66 L393.87,290.21 L391.81,290.74 L389.74,291.25 L387.68,291.75 L385.61,292.25 L383.55,292.77 L381.49,293.31 L379.42,293.83 L377.36,294.34 L375.29,294.83 L373.23,295.31 L371.16,295.79 L369.10,296.28 L367.04,296.80 L364.97,297.37 L362.91,297.99 L360.84,298.68 L358.78,299.45 L356.71,300.32 L354.65,301.83 L352.59,303.95 L350.52,305.85 L348.46,306.68 L346.39,306.64 L344.33,306.55 L342.26,306.47 L340.20,306.43 L338.14,306.53 L336.07,306.84 L334.01,307.33 L331.94,307.97 L329.88,308.74 L327.81,309.62 L325.75,310.59 L323.69,311.61 L321.62,312.67 L319.56,313.75 L317.49,314.82 L315.43,315.85 L313.36,316.83 L311.30,317.73 L309.24,318.53 L307.17,319.30 L305.11,320.08 L303.04,320.85 L300.98,321.63 L298.91,322.41 L296.85,323.19 L294.79,323.96 L292.72,324.72 L290.66,325.47 L288.59,326.20 L286.53,326.93 L284.46,327.63 L282.40,328.31 L280.34,328.97 L278.27,329.61 L276.21,330.22 L274.14,330.79 L272.08,331.35 L270.01,331.90 L267.95,332.44 L265.89,332.98 L263.82,333.51 L261.76,334.03 L259.69,334.54 L257.63,335.04 L255.56,335.54 L253.50,336.03 L251.44,336.52 L249.37,336.99 L247.31,337.46 L245.24,337.93 L243.18,338.38 L241.11,338.83 L239.05,339.28 L236.99,339.71 L234.92,340.14 L232.86,340.57 L230.79,340.99 L228.73,341.40 L226.66,341.81 L224.60,342.21 L222.54,342.60 L220.47,342.99 L218.41,343.38 L216.34,343.75 L214.28,344.13 L212.21,344.49 L210.15,344.86 L208.09,345.21 L206.02,345.57 L203.96,345.91 L201.89,346.26 L199.83,346.59 L197.76,346.90 L195.70,347.16 L193.64,347.44 L191.57,347.77 L189.51,348.19 L187.44,348.67 L185.38,349.21 L183.31,349.79 L181.25,350.41 L179.19,351.05 L177.12,351.70 L175.06,352.34 L172.99,353.02 L170.93,353.75 L168.86,354.48 L166.80,355.16 L164.74,355.82 L162.67,356.49 L160.61,357.07 L158.54,357.47 L156.48,357.70 L154.41,357.87 L152.35,358.03 L150.29,358.24 L148.22,358.53 L146.16,358.89 L144.09,359.30 L142.03,359.75 L139.96,360.24 L137.90,360.76 L135.84,361.29 L133.77,361.83 L131.71,362.45 L129.64,363.17 L127.58,363.85 L125.51,364.39 L123.45,364.82 L121.39,365.20 L119.32,365.50 L117.26,365.68 L115.19,365.77 L113.13,365.83 L111.06,365.88 L109.00,365.93Z" fill="#c2e3f7" fill-opacity="0.7"/>
<path d="M109.00,365.93 L111.06,365.88 L113.13,365.82 L115.19,365.76 L117.26,365.67 L119.32,365.48 L121.39,365.18 L123.45,364.80 L125.51,364.37 L127.58,363.83 L129.64,363.14 L131.71,362.43 L133.77,361.80 L135.84,361.26 L137.90,360.72 L139.96,360.21 L142.03,359.71 L144.09,359.26 L146.16,358.84 L148.22,358.48 L150.29,358.19 L152.35,357.97 L154.41,357.81 L156.48,357.64 L158.54,357.41 L160.61,357.00 L162.67,356.42 L164.74,355.76 L166.80,355.09 L168.86,354.41 L170.93,353.68 L172.99,352.94 L175.06,352.26 L177.12,351.61 L179.19,350.96 L181.25,350.32 L183.31,349.70 L185.38,349.11 L187.44,348.57 L189.51,348.09 L191.57,347.67 L193.64,347.34 L195.70,347.06 L197.76,346.79 L199.83,346.48 L201.89,346.14 L203.96,345.80 L206.02,345.45 L208.09,345.09 L210.15,344.73 L212.21,344.37 L214.28,344.00 L216.34,343.62 L218.41,343.24 L220.47,342.85 L222.54,342.46 L224.60,342.06 L226.66,341.66 L228.73,341.25 L230.79,340.84 L232.86,340.42 L234.92,339.99 L236.99,339.55 L239.05,339.12 L241.11,338.67 L243.18,338.22 L245.24,337.76 L247.31,337.29 L249.37,336.82 L251.44,336.34 L253.50,335.85 L255.56,335.36 L257.63,334.86 L259.69,334.35 L261.76,333.84 L263.82,333.31 L265.89,332.78 L267.95,332.25 L270.01,331.70 L272.08,331.15 L274.14,330.59 L276.21,330.00 L278.27,329.37 L280.34,328.72 L282.40,328.05 L284.46,327.35 L286.53,326.63 L288.59,325.89 L290.66,325.14 L292.72,324.37 L294.79,323.60 L296.85,322.81 L298.91,322.02 L300.98,321.23 L303.04,320.43 L305.11,319.64 L307.17,318.85 L309.24,318.06 L311.30,317.25 L313.36,316.33 L315.43,315.34 L317.49,314.27 L319.56,313.18 L321.62,312.07 L323.69,310.98 L325.75,309.92 L327.81,308.93 L329.88,308.02 L331.94,307.22 L334.01,306.55 L336.07,306.03 L338.14,305.69 L340.20,305.55 L342.26,305.48 L344.33,305.45 L346.39,305.42 L348.46,305.35 L350.52,304.42 L352.59,302.44 L354.65,300.23 L356.71,298.63 L358.78,297.60 L360.84,296.67 L362.91,295.82 L364.97,295.04 L367.04,294.32 L369.10,293.64 L371.16,292.99 L373.23,292.35 L375.29,291.71 L377.36,291.07 L379.42,290.40 L381.49,289.72 L383.55,288.83 L385.61,287.96 L387.68,287.11 L389.74,286.26 L391.81,285.40 L393.87,284.52 L395.94,283.62 L398.00,282.69 L400.06,281.76 L402.13,280.99 L404.19,280.15 L406.26,279.27 L408.32,278.36 L410.39,277.44 L412.45,276.53 L414.51,275.65 L416.58,275.01 L418.64,274.39 L420.71,273.77 L422.77,273.13 L424.84,272.46 L426.90,271.76 L428.96,271.08 L431.03,270.38 L433.09,269.65 L435.16,268.91 L437.22,268.14 L439.29,267.35 L441.35,266.53 L443.41,265.68 L445.48,264.80 L447.54,263.89 L449.61,262.96 L451.67,262.00 L453.74,261.02 L455.80,260.02 L457.86,258.99 L459.93,257.94 L461.99,256.88 L464.06,255.81 L466.12,254.72 L468.19,253.62 L470.25,252.52 L472.31,251.40 L474.38,250.29 L476.44,249.17 L478.51,248.04 L480.57,246.92 L482.64,245.79 L484.70,244.66 L486.76,243.52 L488.83,242.39 L490.89,241.25 L492.96,240.11 L495.02,238.96 L497.09,237.81 L499.15,236.66 L501.21,235.51 L503.28,234.35 L505.34,233.19 L507.41,232.03 L509.47,230.86 L511.54,229.70 L513.60,228.53 L515.66,227.36 L517.73,226.19 L519.79,225.02 L521.86,223.84 L523.92,222.67 L525.99,221.49 L528.05,220.32 L530.11,219.14 L532.18,217.96 L534.24,216.78 L536.31,215.59 L538.37,214.40 L540.44,213.20 L542.50,212.00 L544.56,210.79 L546.63,209.57 L548.69,208.34 L550.76,207.10 L552.82,205.85 L554.89,204.59 L556.95,203.31 L559.01,202.01 L561.08,200.70 L563.14,199.38 L565.21,198.03 L567.27,196.68 L569.34,195.30 L571.40,193.91 L573.46,192.51 L575.53,191.09 L577.59,189.66 L579.66,188.22 L581.72,186.76 L583.79,185.30 L585.85,183.84 L587.91,182.37 L589.98,180.89 L592.04,179.41 L594.11,177.94 L596.17,176.46 L598.24,174.98 L600.30,173.51 L602.36,172.04 L604.43,170.57 L606.49,169.11 L608.56,167.65 L610.62,166.19 L612.69,164.74 L614.75,163.29 L616.81,161.84 L618.88,160.39 L620.94,158.95 L623.01,157.51 L625.07,156.07 L627.14,154.63 L629.20,153.20 L631.26,151.77 L633.33,150.34 L635.39,148.91 L637.46,147.48 L639.52,146.06 L641.59,144.64 L643.65,143.22 L645.71,141.80 L647.78,140.39 L649.84,138.97 L651.91,137.56 L653.97,136.15 L656.04,134.75 L658.10,133.34 L660.16,131.94 L662.23,130.54 L664.29,129.14 L666.36,127.74 L668.42,126.35 L670.49,124.95 L672.55,123.55 L674.61,122.16 L676.68,120.77 L678.74,119.37 L680.81,117.98 L682.87,116.58 L684.94,115.19 L687.00,113.79 L687.00,147.40 L684.94,148.26 L682.87,149.12 L680.81,149.98 L678.74,150.84 L676.68,151.71 L674.61,152.57 L672.55,153.44 L670.49,154.30 L668.42,155.17 L666.36,156.04 L664.29,156.91 L662.23,157.79 L660.16,158.67 L658.10,159.55 L656.04,160.44 L653.97,161.33 L651.91,162.23 L649.84,163.14 L647.78,164.05 L645.71,164.96 L643.65,165.88 L641.59,166.81 L639.52,167.74 L637.46,168.68 L635.39,169.63 L633.33,170.58 L631.26,171.54 L629.20,172.50 L627.14,173.47 L625.07,174.44 L623.01,175.42 L620.94,176.40 L618.88,177.38 L616.81,178.37 L614.75,179.37 L612.69,180.37 L610.62,181.37 L608.56,182.37 L606.49,183.38 L604.43,184.39 L602.36,185.41 L600.30,186.43 L598.24,187.45 L596.17,188.48 L594.11,189.51 L592.04,190.55 L589.98,191.59 L587.91,192.63 L585.85,193.68 L583.79,194.73 L581.72,195.78 L579.66,196.84 L577.59,197.90 L575.53,198.97 L573.46,200.04 L571.40,201.12 L569.34,202.20 L567.27,203.29 L565.21,204.38 L563.14,205.48 L561.08,206.58 L559.01,207.69 L556.95,208.80 L554.89,209.91 L552.82,211.03 L550.76,212.16 L548.69,213.28 L546.63,214.41 L544.56,215.54 L542.50,216.67 L540.44,217.80 L538.37,218.93 L536.31,220.05 L534.24,221.17 L532.18,222.29 L530.11,223.40 L528.05,224.50 L525.99,225.60 L523.92,226.69 L521.86,227.78 L519.79,228.86 L517.73,229.93 L515.66,230.99 L513.60,232.05 L511.54,233.10 L509.47,234.14 L507.41,235.18 L505.34,236.22 L503.28,237.25 L501.21,238.28 L499.15,239.31 L497.09,240.33 L495.02,241.36 L492.96,242.38 L490.89,243.41 L488.83,244.44 L486.76,245.48 L484.70,246.51 L482.64,247.55 L480.57,248.60 L478.51,249.65 L476.44,250.70 L474.38,251.76 L472.31,252.82 L470.25,253.88 L468.19,254.93 L466.12,255.99 L464.06,257.04 L461.99,258.08 L459.93,259.12 L457.86,260.14 L455.80,261.15 L453.74,262.13 L451.67,263.10 L449.61,264.05 L447.54,264.97 L445.48,265.86 L443.41,266.73 L441.35,267.57 L439.29,268.39 L437.22,269.18 L435.16,269.94 L433.09,270.68 L431.03,271.40 L428.96,272.10 L426.90,272.79 L424.84,273.48 L422.77,274.15 L420.71,274.79 L418.64,275.42 L416.58,276.04 L414.51,276.67 L412.45,277.49 L410.39,278.33 L408.32,279.18 L406.26,280.01 L404.19,280.82 L402.13,281.58 L400.06,282.29 L398.00,283.19 L395.94,284.11 L393.87,285.00 L391.81,285.87 L389.74,286.71 L387.68,287.55 L385.61,288.39 L383.55,289.25 L381.49,290.13 L379.42,290.80 L377.36,291.45 L375.29,292.09 L373.23,292.71 L371.16,293.33 L369.10,293.97 L367.04,294.64 L364.97,295.35 L362.91,296.12 L360.84,296.95 L358.78,297.87 L356.71,298.88 L354.65,300.46 L352.59,302.65 L350.52,304.62 L348.46,305.53 L346.39,305.58 L344.33,305.59 L342.26,305.60 L340.20,305.66 L338.14,305.79 L336.07,306.13 L334.01,306.65 L331.94,307.32 L329.88,308.12 L327.81,309.03 L325.75,310.03 L323.69,311.08 L321.62,312.17 L319.56,313.28 L317.49,314.38 L315.43,315.44 L313.36,316.43 L311.30,317.35 L309.24,318.16 L307.17,318.94 L305.11,319.73 L303.04,320.52 L300.98,321.31 L298.91,322.10 L296.85,322.89 L294.79,323.67 L292.72,324.45 L290.66,325.21 L288.59,325.96 L286.53,326.70 L284.46,327.41 L282.40,328.11 L280.34,328.78 L278.27,329.43 L276.21,330.05 L274.14,330.64 L272.08,331.20 L270.01,331.75 L267.95,332.30 L265.89,332.83 L263.82,333.36 L261.76,333.88 L259.69,334.40 L257.63,334.91 L255.56,335.41 L253.50,335.90 L251.44,336.38 L249.37,336.86 L247.31,337.33 L245.24,337.80 L243.18,338.26 L241.11,338.71 L239.05,339.16 L236.99,339.59 L234.92,340.03 L232.86,340.45 L230.79,340.87 L228.73,341.29 L226.66,341.70 L224.60,342.10 L222.54,342.50 L220.47,342.89 L218.41,343.27 L216.34,343.65 L214.28,344.03 L212.21,344.40 L210.15,344.76 L208.09,345.12 L206.02,345.48 L203.96,345.83 L201.89,346.17 L199.83,346.51 L197.76,346.81 L195.70,347.08 L193.64,347.36 L191.57,347.70 L189.51,348.11 L187.44,348.60 L185.38,349.14 L183.31,349.72 L181.25,350.34 L179.19,350.98 L177.12,351.63 L175.06,352.28 L172.99,352.96 L170.93,353.69 L168.86,354.43 L166.80,355.11 L164.74,355.77 L162.67,356.44 L160.61,357.02 L158.54,357.42 L156.48,357.66 L154.41,357.83 L152.35,357.99 L150.29,358.20 L148.22,358.50 L146.16,358.85 L144.09,359.27 L142.03,359.72 L139.96,360.22 L137.90,360.73 L135.84,361.27 L133.77,361.81 L131.71,362.43 L129.64,363.15 L127.58,363.84 L125.51,364.38 L123.45,364.80 L121.39,365.19 L119.32,365.49 L117.26,365.67 L115.19,365.76 L113.13,365.82 L111.06,365.88 L109.00,365.93Z" fill="#2aafe6"/>
<path d="M109.00,392.61 L111.06,392.42 L113.13,392.22 L115.19,392.02 L117.26,391.82 L119.32,391.62 L121.39,391.42 L123.45,391.21 L125.51,391.01 L127.58,390.81 L129.64,390.61 L131.71,390.41 L133.77,390.21 L135.84,390.02 L137.90,389.82 L139.96,389.64 L142.03,389.45 L144.09,389.27 L146.16,389.10 L148.22,388.93 L150.29,388.76 L152.35,388.60 L154.41,388.45 L156.48,388.31 L158.54,388.17 L160.61,388.03 L162.67,387.90 L164.74,387.76 L166.80,387.64 L168.86,387.51 L170.93,387.38 L172.99,387.25 L175.06,387.13 L177.12,387.00 L179.19,386.87 L181.25,386.73 L183.31,386.59 L185.38,386.45 L187.44,386.30 L189.51,386.15 L191.57,385.99 L193.64,385.82 L195.70,385.64 L197.76,385.46 L199.83,385.26 L201.89,385.06 L203.96,384.86 L206.02,384.65 L208.09,384.45 L210.15,384.24 L212.21,384.04 L214.28,383.85 L216.34,383.66 L218.41,383.48 L220.47,383.31 L222.54,383.15 L224.60,383.00 L226.66,382.85 L228.73,382.72 L230.79,382.58 L232.86,382.46 L234.92,382.33 L236.99,382.21 L239.05,382.09 L241.11,381.98 L243.18,381.86 L245.24,381.74 L247.31,381.62 L249.37,381.50 L251.44,381.37 L253.50,381.25 L255.56,381.11 L257.63,380.97 L259.69,380.82 L261.76,380.67 L263.82,380.51 L265.89,380.33 L267.95,380.15 L270.01,379.96 L272.08,379.75 L274.14,379.53 L276.21,379.28 L278.27,378.97 L280.34,378.63 L282.40,378.24 L284.46,377.82 L286.53,377.37 L288.59,376.90 L290.66,376.41 L292.72,375.91 L294.79,375.40 L296.85,374.89 L298.91,374.38 L300.98,373.88 L303.04,373.39 L305.11,372.93 L307.17,372.48 L309.24,372.07 L311.30,371.68 L313.36,371.32 L315.43,370.97 L317.49,370.62 L319.56,370.28 L321.62,369.94 L323.69,369.58 L325.75,369.20 L327.81,368.81 L329.88,368.31 L331.94,367.71 L334.01,367.09 L336.07,366.53 L338.14,366.14 L340.20,365.99 L342.26,366.07 L344.33,366.27 L346.39,366.46 L348.46,366.55 L350.52,366.19 L352.59,365.35 L354.65,364.38 L356.71,363.63 L358.78,363.11 L360.84,362.60 L362.91,362.11 L364.97,361.65 L367.04,361.21 L369.10,360.81 L371.16,360.44 L373.23,360.11 L375.29,359.84 L377.36,359.61 L379.42,359.44 L381.49,359.32 L383.55,359.22 L385.61,359.12 L387.68,359.03 L389.74,358.95 L391.81,358.88 L393.87,358.81 L395.94,358.75 L398.00,358.69 L400.06,358.64 L402.13,358.59 L404.19,358.53 L406.26,358.48 L408.32,358.43 L410.39,358.37 L412.45,358.31 L414.51,358.24 L416.58,358.28 L418.64,358.32 L420.71,358.36 L422.77,358.41 L424.84,358.45 L426.90,358.50 L428.96,358.55 L431.03,358.60 L433.09,358.65 L435.16,358.70 L437.22,358.75 L439.29,358.81 L441.35,358.87 L443.41,358.93 L445.48,359.00 L447.54,359.06 L449.61,359.13 L451.67,359.20 L453.74,359.28 L455.80,359.35 L457.86,359.43 L459.93,359.51 L461.99,359.59 L464.06,359.67 L466.12,359.75 L468.19,359.83 L470.25,359.91 L472.31,359.99 L474.38,360.07 L476.44,360.14 L478.51,360.22 L480.57,360.29 L482.64,360.37 L484.70,360.44 L486.76,360.51 L488.83,360.59 L490.89,360.66 L492.96,360.74 L495.02,360.81 L497.09,360.89 L499.15,360.98 L501.21,361.07 L503.28,361.17 L505.34,361.28 L507.41,361.39 L509.47,361.52 L511.54,361.67 L513.60,361.82 L515.66,361.99 L517.73,362.18 L519.79,362.39 L521.86,362.62 L523.92,362.87 L525.99,363.14 L528.05,363.43 L530.11,363.75 L532.18,364.08 L534.24,364.44 L536.31,364.81 L538.37,365.20 L540.44,365.60 L542.50,366.02 L544.56,366.45 L546.63,366.89 L548.69,367.33 L550.76,367.78 L552.82,368.24 L554.89,368.70 L556.95,369.15 L559.01,369.61 L561.08,370.07 L563.14,370.52 L565.21,370.98 L567.27,371.43 L569.34,371.88 L571.40,372.33 L573.46,372.78 L575.53,373.23 L577.59,373.69 L579.66,374.14 L581.72,374.59 L583.79,375.05 L585.85,375.51 L587.91,375.97 L589.98,376.44 L592.04,376.90 L594.11,377.37 L596.17,377.83 L598.24,378.30 L600.30,378.77 L602.36,379.23 L604.43,379.70 L606.49,380.16 L608.56,380.61 L610.62,381.07 L612.69,381.52 L614.75,381.97 L616.81,382.41 L618.88,382.84 L620.94,383.28 L623.01,383.71 L625.07,384.13 L627.14,384.55 L629.20,384.96 L631.26,385.37 L633.33,385.78 L635.39,386.18 L637.46,386.57 L639.52,386.96 L641.59,387.34 L643.65,387.72 L645.71,388.09 L647.78,388.46 L649.84,388.82 L651.91,389.18 L653.97,389.53 L656.04,389.88 L658.10,390.23 L660.16,390.57 L662.23,390.90 L664.29,391.24 L666.36,391.57 L668.42,391.90 L670.49,392.23 L672.55,392.55 L674.61,392.88 L676.68,393.20 L678.74,393.52 L680.81,393.85 L682.87,394.17 L684.94,394.49 L687.00,394.82" fill="none" stroke="#7a343b" stroke-width="0.9"/>
<path d="M109.00,384.20 L111.06,384.02 L113.13,383.84 L115.19,383.66 L117.26,383.48 L119.32,383.30 L121.39,383.12 L123.45,382.94 L125.51,382.76 L127.58,382.58 L129.64,382.40 L131.71,382.22 L133.77,382.04 L135.84,381.86 L137.90,381.68 L139.96,381.50 L142.03,381.32 L144.09,381.14 L146.16,380.96 L148.22,380.78 L150.29,380.61 L152.35,380.42 L154.41,380.23 L156.48,380.04 L158.54,379.85 L160.61,379.66 L162.67,379.48 L164.74,379.30 L166.80,379.14 L168.86,378.99 L170.93,378.86 L172.99,378.74 L175.06,378.63 L177.12,378.52 L179.19,378.42 L181.25,378.33 L183.31,378.24 L185.38,378.15 L187.44,378.07 L189.51,377.99 L191.57,377.91 L193.64,377.83 L195.70,377.75 L197.76,377.68 L199.83,377.60 L201.89,377.52 L203.96,377.44 L206.02,377.36 L208.09,377.27 L210.15,377.18 L212.21,377.09 L214.28,376.99 L216.34,376.89 L218.41,376.78 L220.47,376.66 L222.54,376.54 L224.60,376.42 L226.66,376.30 L228.73,376.18 L230.79,376.06 L232.86,375.93 L234.92,375.80 L236.99,375.67 L239.05,375.53 L241.11,375.39 L243.18,375.25 L245.24,375.10 L247.31,374.94 L249.37,374.79 L251.44,374.62 L253.50,374.45 L255.56,374.28 L257.63,374.09 L259.69,373.90 L261.76,373.70 L263.82,373.50 L265.89,373.29 L267.95,373.06 L270.01,372.83 L272.08,372.60 L274.14,372.35 L276.21,372.05 L278.27,371.69 L280.34,371.26 L282.40,370.79 L284.46,370.27 L286.53,369.71 L288.59,369.14 L290.66,368.55 L292.72,367.95 L294.79,367.37 L296.85,366.79 L298.91,366.25 L300.98,365.74 L303.04,365.27 L305.11,364.86 L307.17,364.51 L309.24,364.24 L311.30,364.03 L313.36,363.87 L315.43,363.73 L317.49,363.61 L319.56,363.50 L321.62,363.38 L323.69,363.24 L325.75,363.07 L327.81,362.86 L329.88,362.48 L331.94,361.90 L334.01,361.24 L336.07,360.62 L338.14,360.16 L340.20,359.98 L342.26,360.07 L344.33,360.27 L346.39,360.46 L348.46,360.55 L350.52,360.17 L352.59,359.30 L354.65,358.32 L356.71,357.62 L358.78,357.22 L360.84,356.86 L362.91,356.52 L364.97,356.22 L367.04,355.94 L369.10,355.69 L371.16,355.46 L373.23,355.24 L375.29,355.04 L377.36,354.86 L379.42,354.68 L381.49,354.51 L383.55,354.36 L385.61,354.21 L387.68,354.07 L389.74,353.94 L391.81,353.82 L393.87,353.70 L395.94,353.58 L398.00,353.47 L400.06,353.37 L402.13,353.26 L404.19,353.16 L406.26,353.05 L408.32,352.94 L410.39,352.83 L412.45,352.72 L414.51,352.60 L416.58,352.66 L418.64,352.73 L420.71,352.80 L422.77,352.87 L424.84,352.94 L426.90,353.01 L428.96,353.08 L431.03,353.15 L433.09,353.22 L435.16,353.30 L437.22,353.37 L439.29,353.44 L441.35,353.52 L443.41,353.60 L445.48,353.67 L447.54,353.75 L449.61,353.83 L451.67,353.91 L453.74,353.99 L455.80,354.07 L457.86,354.15 L459.93,354.23 L461.99,354.30 L464.06,354.38 L466.12,354.45 L468.19,354.53 L470.25,354.59 L472.31,354.66 L474.38,354.72 L476.44,354.78 L478.51,354.84 L480.57,354.89 L482.64,354.95 L484.70,354.99 L486.76,355.04 L488.83,355.09 L490.89,355.13 L492.96,355.18 L495.02,355.23 L497.09,355.28 L499.15,355.33 L501.21,355.39 L503.28,355.46 L505.34,355.54 L507.41,355.63 L509.47,355.73 L511.54,355.85 L513.60,355.99 L515.66,356.15 L517.73,356.33 L519.79,356.53 L521.86,356.76 L523.92,357.01 L525.99,357.30 L528.05,357.61 L530.11,357.95 L532.18,358.32 L534.24,358.71 L536.31,359.13 L538.37,359.57 L540.44,360.04 L542.50,360.51 L544.56,361.01 L546.63,361.51 L548.69,362.02 L550.76,362.53 L552.82,363.05 L554.89,363.57 L556.95,364.08 L559.01,364.59 L561.08,365.09 L563.14,365.58 L565.21,366.07 L567.27,366.55 L569.34,367.03 L571.40,367.49 L573.46,367.95 L575.53,368.40 L577.59,368.85 L579.66,369.28 L581.72,369.72 L583.79,370.14 L585.85,370.56 L587.91,370.98 L589.98,371.39 L592.04,371.80 L594.11,372.20 L596.17,372.60 L598.24,373.00 L600.30,373.40 L602.36,373.79 L604.43,374.19 L606.49,374.59 L608.56,374.99 L610.62,375.39 L612.69,375.79 L614.75,376.19 L616.81,376.59 L618.88,377.00 L620.94,377.40 L623.01,377.80 L625.07,378.21 L627.14,378.61 L629.20,379.01 L631.26,379.41 L633.33,379.80 L635.39,380.20 L637.46,380.58 L639.52,380.97 L641.59,381.35 L643.65,381.72 L645.71,382.09 L647.78,382.46 L649.84,382.82 L651.91,383.17 L653.97,383.52 L656.04,383.87 L658.10,384.21 L660.16,384.55 L662.23,384.89 L664.29,385.22 L666.36,385.56 L668.42,385.88 L670.49,386.21 L672.55,386.54 L674.61,386.87 L676.68,387.19 L678.74,387.52 L680.81,387.84 L682.87,388.17 L684.94,388.49 L687.00,388.81" fill="none" stroke="#c05a64" stroke-width="0.9"/>
<path d="M109.00,376.96 L111.06,376.76 L113.13,376.56 L115.19,376.37 L117.26,376.19 L119.32,376.00 L121.39,375.82 L123.45,375.63 L125.51,375.44 L127.58,375.24 L129.64,375.03 L131.71,374.81 L133.77,374.57 L135.84,374.32 L137.90,374.05 L139.96,373.75 L142.03,373.41 L144.09,373.04 L146.16,372.63 L148.22,372.18 L150.29,371.71 L152.35,371.22 L154.41,370.71 L156.48,370.19 L158.54,369.65 L160.61,369.10 L162.67,368.56 L164.74,368.01 L166.80,367.47 L168.86,366.93 L170.93,366.41 L172.99,365.91 L175.06,365.42 L177.12,364.93 L179.19,364.42 L181.25,363.90 L183.31,363.39 L185.38,362.89 L187.44,362.44 L189.51,362.04 L191.57,361.70 L193.64,361.42 L195.70,361.17 L197.76,360.95 L199.83,360.74 L201.89,360.55 L203.96,360.37 L206.02,360.19 L208.09,360.02 L210.15,359.83 L212.21,359.63 L214.28,359.42 L216.34,359.18 L218.41,358.92 L220.47,358.65 L222.54,358.37 L224.60,358.09 L226.66,357.79 L228.73,357.48 L230.79,357.16 L232.86,356.82 L234.92,356.48 L236.99,356.12 L239.05,355.75 L241.11,355.37 L243.18,354.96 L245.24,354.54 L247.31,354.10 L249.37,353.63 L251.44,353.15 L253.50,352.65 L255.56,352.14 L257.63,351.61 L259.69,351.06 L261.76,350.50 L263.82,349.94 L265.89,349.36 L267.95,348.77 L270.01,348.17 L272.08,347.56 L274.14,346.95 L276.21,346.33 L278.27,345.66 L280.34,344.95 L282.40,344.22 L284.46,343.47 L286.53,342.69 L288.59,341.90 L290.66,341.11 L292.72,340.31 L294.79,339.51 L296.85,338.72 L298.91,337.94 L300.98,337.19 L303.04,336.45 L305.11,335.75 L307.17,335.08 L309.24,334.45 L311.30,333.84 L313.36,333.19 L315.43,332.52 L317.49,331.83 L319.56,331.15 L321.62,330.47 L323.69,329.82 L325.75,329.20 L327.81,328.63 L329.88,328.11 L331.94,327.66 L334.01,327.30 L336.07,327.03 L338.14,326.86 L340.20,326.81 L342.26,327.00 L344.33,327.39 L346.39,327.77 L348.46,327.97 L350.52,327.24 L352.59,325.53 L354.65,323.59 L356.71,322.19 L358.78,321.36 L360.84,320.56 L362.91,319.81 L364.97,319.09 L367.04,318.41 L369.10,317.77 L371.16,317.16 L373.23,316.58 L375.29,316.04 L377.36,315.52 L379.42,315.04 L381.49,314.58 L383.55,314.14 L385.61,313.73 L387.68,313.35 L389.74,312.98 L391.81,312.64 L393.87,312.31 L395.94,312.00 L398.00,311.70 L400.06,311.42 L402.13,311.17 L404.19,310.95 L406.26,310.76 L408.32,310.57 L410.39,310.39 L412.45,310.21 L414.51,310.02 L416.58,309.76 L418.64,309.49 L420.71,309.23 L422.77,308.97 L424.84,308.72 L426.90,308.49 L428.96,308.25 L431.03,308.02 L433.09,307.79 L435.16,307.57 L437.22,307.35 L439.29,307.14 L441.35,306.86 L443.41,306.59 L445.48,306.32 L447.54,306.07 L449.61,305.82 L451.67,305.57 L453.74,305.34 L455.80,305.11 L457.86,304.90 L459.93,304.70 L461.99,304.51 L464.06,304.33 L466.12,304.16 L468.19,304.01 L470.25,303.88 L472.31,303.76 L474.38,303.65 L476.44,303.57 L478.51,303.49 L480.57,303.43 L482.64,303.39 L484.70,303.36 L486.76,303.34 L488.83,303.34 L490.89,303.34 L492.96,303.36 L495.02,303.38 L497.09,303.42 L499.15,303.47 L501.21,303.52 L503.28,303.59 L505.34,303.68 L507.41,303.78 L509.47,303.90 L511.54,304.03 L513.60,304.19 L515.66,304.38 L517.73,304.59 L519.79,304.84 L521.86,305.12 L523.92,305.43 L525.99,305.78 L528.05,306.16 L530.11,306.59 L532.18,307.05 L534.24,307.55 L536.31,308.08 L538.37,308.64 L540.44,309.22 L542.50,309.83 L544.56,310.46 L546.63,311.11 L548.69,311.76 L550.76,312.42 L552.82,313.08 L554.89,313.74 L556.95,314.40 L559.01,315.06 L561.08,315.70 L563.14,316.34 L565.21,316.97 L567.27,317.59 L569.34,318.20 L571.40,318.81 L573.46,319.41 L575.53,320.02 L577.59,320.62 L579.66,321.22 L581.72,321.82 L583.79,322.42 L585.85,323.03 L587.91,323.63 L589.98,324.24 L592.04,324.84 L594.11,325.44 L596.17,326.03 L598.24,326.61 L600.30,327.18 L602.36,327.74 L604.43,328.27 L606.49,328.84 L608.56,329.39 L610.62,329.91 L612.69,330.42 L614.75,330.90 L616.81,331.37 L618.88,331.81 L620.94,332.24 L623.01,332.66 L625.07,333.07 L627.14,333.46 L629.20,333.85 L631.26,334.22 L633.33,334.60 L635.39,334.96 L637.46,335.33 L639.52,335.69 L641.59,336.04 L643.65,336.40 L645.71,336.75 L647.78,337.11 L649.84,337.46 L651.91,337.81 L653.97,338.16 L656.04,338.50 L658.10,338.85 L660.16,339.20 L662.23,339.54 L664.29,339.88 L666.36,340.23 L668.42,340.57 L670.49,340.91 L672.55,341.25 L674.61,341.59 L676.68,341.93 L678.74,342.27 L680.81,342.60 L682.87,342.94 L684.94,343.28 L687.00,343.62" fill="none" stroke="#7d68b0" stroke-width="0.9"/>
<path d="M109.00,374.65 L111.06,374.45 L113.13,374.25 L115.19,374.05 L117.26,373.86 L119.32,373.68 L121.39,373.49 L123.45,373.30 L125.51,373.10 L127.58,372.90 L129.64,372.69 L131.71,372.46 L133.77,372.22 L135.84,371.97 L137.90,371.69 L139.96,371.39 L142.03,371.05 L144.09,370.67 L146.16,370.26 L148.22,369.81 L150.29,369.34 L152.35,368.85 L154.41,368.33 L156.48,367.80 L158.54,367.26 L160.61,366.71 L162.67,366.16 L164.74,365.61 L166.80,365.07 L168.86,364.53 L170.93,364.01 L172.99,363.50 L175.06,363.01 L177.12,362.52 L179.19,362.00 L181.25,361.48 L183.31,360.96 L185.38,360.47 L187.44,360.01 L189.51,359.60 L191.57,359.26 L193.64,358.98 L195.70,358.73 L197.76,358.50 L199.83,358.29 L201.89,358.10 L203.96,357.92 L206.02,357.74 L208.09,357.55 L210.15,357.36 L212.21,357.16 L214.28,356.94 L216.34,356.70 L218.41,356.44 L220.47,356.17 L222.54,355.89 L224.60,355.60 L226.66,355.30 L228.73,354.98 L230.79,354.66 L232.86,354.32 L234.92,353.98 L236.99,353.61 L239.05,353.24 L241.11,352.85 L243.18,352.45 L245.24,352.02 L247.31,351.57 L249.37,351.11 L251.44,350.62 L253.50,350.12 L255.56,349.60 L257.63,349.07 L259.69,348.52 L261.76,347.96 L263.82,347.39 L265.89,346.80 L267.95,346.21 L270.01,345.61 L272.08,345.00 L274.14,344.39 L276.21,343.75 L278.27,343.07 L280.34,342.35 L282.40,341.61 L284.46,340.84 L286.53,340.05 L288.59,339.25 L290.66,338.45 L292.72,337.63 L294.79,336.83 L296.85,336.02 L298.91,335.24 L300.98,334.47 L303.04,333.72 L305.11,333.01 L307.17,332.33 L309.24,331.69 L311.30,331.06 L313.36,330.40 L315.43,329.72 L317.49,329.02 L319.56,328.32 L321.62,327.64 L323.69,326.97 L325.75,326.34 L327.81,325.75 L329.88,325.23 L331.94,324.77 L334.01,324.39 L336.07,324.11 L338.14,323.93 L340.20,323.87 L342.26,324.03 L344.33,324.38 L346.39,324.73 L348.46,324.89 L350.52,324.14 L352.59,322.39 L354.65,320.42 L356.71,318.99 L358.78,318.12 L360.84,317.30 L362.91,316.51 L364.97,315.76 L367.04,315.05 L369.10,314.37 L371.16,313.73 L373.23,313.12 L375.29,312.55 L377.36,312.00 L379.42,311.48 L381.49,310.99 L383.55,310.52 L385.61,310.08 L387.68,309.66 L389.74,309.26 L391.81,308.89 L393.87,308.53 L395.94,308.18 L398.00,307.86 L400.06,307.54 L402.13,307.26 L404.19,307.01 L406.26,306.78 L408.32,306.56 L410.39,306.35 L412.45,306.14 L414.51,305.91 L416.58,305.56 L418.64,305.21 L420.71,304.85 L422.77,304.50 L424.84,304.17 L426.90,303.85 L428.96,303.51 L431.03,303.19 L433.09,302.87 L435.16,302.56 L437.22,302.25 L439.29,301.95 L441.35,301.66 L443.41,301.38 L445.48,301.10 L447.54,300.83 L449.61,300.57 L451.67,300.32 L453.74,300.07 L455.80,299.83 L457.86,299.61 L459.93,299.39 L461.99,299.19 L464.06,299.00 L466.12,298.83 L468.19,298.66 L470.25,298.52 L472.31,298.39 L474.38,298.27 L476.44,298.17 L478.51,298.09 L480.57,298.02 L482.64,297.96 L484.70,297.92 L486.76,297.89 L488.83,297.88 L490.89,297.87 L492.96,297.87 L495.02,297.89 L497.09,297.91 L499.15,297.95 L501.21,297.99 L503.28,298.05 L505.34,298.13 L507.41,298.21 L509.47,298.32 L511.54,298.45 L513.60,298.60 L515.66,298.77 L517.73,298.97 L519.79,299.21 L521.86,299.47 L523.92,299.78 L525.99,300.12 L528.05,300.49 L530.11,300.91 L532.18,301.36 L534.24,301.85 L536.31,302.37 L538.37,302.92 L540.44,303.49 L542.50,304.09 L544.56,304.71 L546.63,305.35 L548.69,305.99 L550.76,306.64 L552.82,307.30 L554.89,307.95 L556.95,308.60 L559.01,309.24 L561.08,309.87 L563.14,310.50 L565.21,311.12 L567.27,311.73 L569.34,312.34 L571.40,312.94 L573.46,313.53 L575.53,314.12 L577.59,314.71 L579.66,315.30 L581.72,315.90 L583.79,316.49 L585.85,317.09 L587.91,317.68 L589.98,318.28 L592.04,318.87 L594.11,319.46 L596.17,320.04 L598.24,320.61 L600.30,321.17 L602.36,321.72 L604.43,322.24 L606.49,322.75 L608.56,323.24 L610.62,323.70 L612.69,324.14 L614.75,324.57 L616.81,324.97 L618.88,325.36 L620.94,325.73 L623.01,326.09 L625.07,326.43 L627.14,326.76 L629.20,327.09 L631.26,327.40 L633.33,327.71 L635.39,328.02 L637.46,328.32 L639.52,328.62 L641.59,328.92 L643.65,329.21 L645.71,329.51 L647.78,329.80 L649.84,330.09 L651.91,330.38 L653.97,330.67 L656.04,330.95 L658.10,331.24 L660.16,331.52 L662.23,331.81 L664.29,332.09 L666.36,332.37 L668.42,332.65 L670.49,332.93 L672.55,333.21 L674.61,333.49 L676.68,333.77 L678.74,334.04 L680.81,334.32 L682.87,334.60 L684.94,334.88 L687.00,335.15" fill="none" stroke="#3d7a8a" stroke-width="0.9"/>
<path d="M109.00,365.93 L111.06,365.88 L113.13,365.83 L115.19,365.77 L117.26,365.68 L119.32,365.50 L121.39,365.20 L123.45,364.82 L125.51,364.39 L127.58,363.85 L129.64,363.17 L131.71,362.45 L133.77,361.83 L135.84,361.29 L137.90,360.76 L139.96,360.24 L142.03,359.75 L144.09,359.30 L146.16,358.89 L148.22,358.53 L150.29,358.24 L152.35,358.03 L154.41,357.87 L156.48,357.70 L158.54,357.47 L160.61,357.07 L162.67,356.49 L164.74,355.82 L166.80,355.16 L168.86,354.48 L170.93,353.75 L172.99,353.02 L175.06,352.34 L177.12,351.70 L179.19,351.05 L181.25,350.41 L183.31,349.79 L185.38,349.21 L187.44,348.67 L189.51,348.19 L191.57,347.77 L193.64,347.44 L195.70,347.16 L197.76,346.90 L199.83,346.59 L201.89,346.26 L203.96,345.91 L206.02,345.57 L208.09,345.21 L210.15,344.86 L212.21,344.49 L214.28,344.13 L216.34,343.75 L218.41,343.38 L220.47,342.99 L222.54,342.60 L224.60,342.21 L226.66,341.81 L228.73,341.40 L230.79,340.99 L232.86,340.57 L234.92,340.14 L236.99,339.71 L239.05,339.28 L241.11,338.83 L243.18,338.38 L245.24,337.93 L247.31,337.46 L249.37,336.99 L251.44,336.52 L253.50,336.03 L255.56,335.54 L257.63,335.04 L259.69,334.54 L261.76,334.03 L263.82,333.51 L265.89,332.98 L267.95,332.44 L270.01,331.90 L272.08,331.35 L274.14,330.79 L276.21,330.22 L278.27,329.61 L280.34,328.97 L282.40,328.31 L284.46,327.63 L286.53,326.93 L288.59,326.20 L290.66,325.47 L292.72,324.72 L294.79,323.96 L296.85,323.19 L298.91,322.41 L300.98,321.63 L303.04,320.85 L305.11,320.08 L307.17,319.30 L309.24,318.53 L311.30,317.73 L313.36,316.83 L315.43,315.85 L317.49,314.82 L319.56,313.75 L321.62,312.67 L323.69,311.61 L325.75,310.59 L327.81,309.62 L329.88,308.74 L331.94,307.97 L334.01,307.33 L336.07,306.84 L338.14,306.53 L340.20,306.43 L342.26,306.47 L344.33,306.55 L346.39,306.64 L348.46,306.68 L350.52,305.87 L352.59,304.00 L354.65,301.91 L356.71,300.42 L358.78,299.58 L360.84,298.83 L362.91,298.17 L364.97,297.57 L367.04,297.03 L369.10,296.54 L371.16,296.07 L373.23,295.62 L375.29,295.16 L377.36,294.70 L379.42,294.22 L381.49,293.72 L383.55,293.25 L385.61,292.80 L387.68,292.37 L389.74,291.94 L391.81,291.50 L393.87,291.04 L395.94,290.56 L398.00,290.04 L400.06,289.48 L402.13,288.85 L404.19,288.16 L406.26,287.42 L408.32,286.66 L410.39,285.88 L412.45,285.11 L414.51,284.37 L416.58,283.97 L418.64,283.57 L420.71,283.16 L422.77,282.77 L424.84,282.40 L426.90,282.05 L428.96,281.69 L431.03,281.34 L433.09,281.00 L435.16,280.68 L437.22,280.36 L439.29,280.07 L441.35,279.78 L443.41,279.51 L445.48,279.25 L447.54,279.01 L449.61,278.77 L451.67,278.55 L453.74,278.34 L455.80,278.13 L457.86,277.94 L459.93,277.75 L461.99,277.57 L464.06,277.40 L466.12,277.23 L468.19,277.07 L470.25,276.92 L472.31,276.77 L474.38,276.62 L476.44,276.48 L478.51,276.34 L480.57,276.21 L482.64,276.08 L484.70,275.96 L486.76,275.84 L488.83,275.73 L490.89,275.63 L492.96,275.53 L495.02,275.45 L497.09,275.37 L499.15,275.30 L501.21,275.25 L503.28,275.20 L505.34,275.17 L507.41,275.15 L509.47,275.15 L511.54,275.16 L513.60,275.19 L515.66,275.23 L517.73,275.29 L519.79,275.36 L521.86,275.46 L523.92,275.57 L525.99,275.69 L528.05,275.84 L530.11,276.00 L532.18,276.18 L534.24,276.37 L536.31,276.59 L538.37,276.81 L540.44,277.06 L542.50,277.31 L544.56,277.58 L546.63,277.85 L548.69,278.14 L550.76,278.43 L552.82,278.73 L554.89,279.04 L556.95,279.35 L559.01,279.67 L561.08,279.99 L563.14,280.31 L565.21,280.64 L567.27,280.97 L569.34,281.31 L571.40,281.64 L573.46,281.99 L575.53,282.33 L577.59,282.68 L579.66,283.03 L581.72,283.39 L583.79,283.75 L585.85,284.11 L587.91,284.47 L589.98,284.83 L592.04,285.19 L594.11,285.55 L596.17,285.90 L598.24,286.26 L600.30,286.61 L602.36,286.95 L604.43,287.30 L606.49,287.63 L608.56,287.96 L610.62,288.28 L612.69,288.60 L614.75,288.91 L616.81,289.21 L618.88,289.51 L620.94,289.80 L623.01,290.08 L625.07,290.36 L627.14,290.62 L629.20,290.88 L631.26,291.14 L633.33,291.38 L635.39,291.62 L637.46,291.85 L639.52,292.07 L641.59,292.28 L643.65,292.48 L645.71,292.68 L647.78,292.87 L649.84,293.05 L651.91,293.23 L653.97,293.40 L656.04,293.56 L658.10,293.72 L660.16,293.87 L662.23,294.02 L664.29,294.17 L666.36,294.31 L668.42,294.45 L670.49,294.59 L672.55,294.72 L674.61,294.86 L676.68,294.99 L678.74,295.12 L680.81,295.26 L682.87,295.39 L684.94,295.52 L687.00,295.65" fill="none" stroke="#24679f" stroke-width="0.9"/>
<path d="M109.00,365.93 L111.06,365.88 L113.13,365.83 L115.19,365.77 L117.26,365.68 L119.32,365.50 L121.39,365.20 L123.45,364.82 L125.51,364.39 L127.58,363.85 L129.64,363.17 L131.71,362.45 L133.77,361.83 L135.84,361.29 L137.90,360.76 L139.96,360.24 L142.03,359.75 L144.09,359.30 L146.16,358.89 L148.22,358.53 L150.29,358.24 L152.35,358.03 L154.41,357.87 L156.48,357.70 L158.54,357.47 L160.61,357.07 L162.67,356.49 L164.74,355.82 L166.80,355.16 L168.86,354.48 L170.93,353.75 L172.99,353.02 L175.06,352.34 L177.12,351.70 L179.19,351.05 L181.25,350.41 L183.31,349.79 L185.38,349.21 L187.44,348.67 L189.51,348.19 L191.57,347.77 L193.64,347.44 L195.70,347.16 L197.76,346.90 L199.83,346.59 L201.89,346.26 L203.96,345.91 L206.02,345.57 L208.09,345.21 L210.15,344.86 L212.21,344.49 L214.28,344.13 L216.34,343.75 L218.41,343.38 L220.47,342.99 L222.54,342.60 L224.60,342.21 L226.66,341.81 L228.73,341.40 L230.79,340.99 L232.86,340.57 L234.92,340.14 L236.99,339.71 L239.05,339.28 L241.11,338.83 L243.18,338.38 L245.24,337.93 L247.31,337.46 L249.37,336.99 L251.44,336.52 L253.50,336.03 L255.56,335.54 L257.63,335.04 L259.69,334.54 L261.76,334.03 L263.82,333.51 L265.89,332.98 L267.95,332.44 L270.01,331.90 L272.08,331.35 L274.14,330.79 L276.21,330.22 L278.27,329.61 L280.34,328.97 L282.40,328.31 L284.46,327.63 L286.53,326.93 L288.59,326.20 L290.66,325.47 L292.72,324.72 L294.79,323.96 L296.85,323.19 L298.91,322.41 L300.98,321.63 L303.04,320.85 L305.11,320.08 L307.17,319.30 L309.24,318.53 L311.30,317.73 L313.36,316.83 L315.43,315.85 L317.49,314.82 L319.56,313.75 L321.62,312.67 L323.69,311.61 L325.75,310.59 L327.81,309.62 L329.88,308.74 L331.94,307.97 L334.01,307.33 L336.07,306.84 L338.14,306.53 L340.20,306.43 L342.26,306.47 L344.33,306.55 L346.39,306.64 L348.46,306.68 L350.52,305.85 L352.59,303.95 L354.65,301.83 L356.71,300.32 L358.78,299.45 L360.84,298.68 L362.91,297.99 L364.97,297.37 L367.04,296.80 L369.10,296.28 L371.16,295.79 L373.23,295.31 L375.29,294.83 L377.36,294.34 L379.42,293.83 L381.49,293.31 L383.55,292.77 L385.61,292.25 L387.68,291.75 L389.74,291.25 L391.81,290.74 L393.87,290.21 L395.94,289.66 L398.00,289.07 L400.06,288.39 L402.13,287.40 L404.19,286.35 L406.26,285.26 L408.32,284.13 L410.39,283.00 L412.45,281.88 L414.51,280.78 L416.58,280.35 L418.64,279.93 L420.71,279.52 L422.77,279.09 L424.84,278.65 L426.90,278.20 L428.96,277.76 L431.03,277.31 L433.09,276.85 L435.16,276.39 L437.22,275.91 L439.29,275.43 L441.35,274.93 L443.41,274.43 L445.48,273.91 L447.54,273.38 L449.61,272.85 L451.67,272.30 L453.74,271.74 L455.80,271.18 L457.86,270.60 L459.93,270.01 L461.99,269.42 L464.06,268.81 L466.12,268.20 L468.19,267.58 L470.25,266.95 L472.31,266.31 L474.38,265.66 L476.44,265.00 L478.51,264.33 L480.57,263.66 L482.64,262.97 L484.70,262.28 L486.76,261.58 L488.83,260.86 L490.89,260.14 L492.96,259.42 L495.02,258.68 L497.09,257.95 L499.15,257.20 L501.21,256.46 L503.28,255.71 L505.34,254.97 L507.41,254.22 L509.47,253.48 L511.54,252.75 L513.60,252.01 L515.66,251.29 L517.73,250.57 L519.79,249.86 L521.86,249.16 L523.92,248.46 L525.99,247.77 L528.05,247.09 L530.11,246.42 L532.18,245.76 L534.24,245.10 L536.31,244.44 L538.37,243.79 L540.44,243.15 L542.50,242.50 L544.56,241.86 L546.63,241.22 L548.69,240.58 L550.76,239.94 L552.82,239.30 L554.89,238.66 L556.95,238.02 L559.01,237.37 L561.08,236.72 L563.14,236.07 L565.21,235.41 L567.27,234.76 L569.34,234.10 L571.40,233.43 L573.46,232.77 L575.53,232.10 L577.59,231.43 L579.66,230.77 L581.72,230.10 L583.79,229.43 L585.85,228.76 L587.91,228.10 L589.98,227.44 L592.04,226.78 L594.11,226.13 L596.17,225.47 L598.24,224.83 L600.30,224.19 L602.36,223.55 L604.43,222.92 L606.49,222.29 L608.56,221.67 L610.62,221.05 L612.69,220.44 L614.75,219.83 L616.81,219.23 L618.88,218.63 L620.94,218.04 L623.01,217.44 L625.07,216.85 L627.14,216.26 L629.20,215.67 L631.26,215.09 L633.33,214.50 L635.39,213.92 L637.46,213.33 L639.52,212.75 L641.59,212.16 L643.65,211.58 L645.71,210.99 L647.78,210.40 L649.84,209.82 L651.91,209.23 L653.97,208.64 L656.04,208.05 L658.10,207.47 L660.16,206.88 L662.23,206.29 L664.29,205.70 L666.36,205.11 L668.42,204.52 L670.49,203.93 L672.55,203.34 L674.61,202.75 L676.68,202.16 L678.74,201.57 L680.81,200.98 L682.87,200.39 L684.94,199.80 L687.00,199.21" fill="none" stroke="#f6e47a" stroke-width="0.9"/>
<path d="M109.00,365.93 L111.06,365.88 L113.13,365.82 L115.19,365.76 L117.26,365.67 L119.32,365.48 L121.39,365.18 L123.45,364.80 L125.51,364.37 L127.58,363.83 L129.64,363.14 L131.71,362.43 L133.77,361.80 L135.84,361.26 L137.90,360.72 L139.96,360.21 L142.03,359.71 L144.09,359.26 L146.16,358.84 L148.22,358.48 L150.29,358.19 L152.35,357.97 L154.41,357.81 L156.48,357.64 L158.54,357.41 L160.61,357.00 L162.67,356.42 L164.74,355.76 L166.80,355.09 L168.86,354.41 L170.93,353.68 L172.99,352.94 L175.06,352.26 L177.12,351.61 L179.19,350.96 L181.25,350.32 L183.31,349.70 L185.38,349.11 L187.44,348.57 L189.51,348.09 L191.57,347.67 L193.64,347.34 L195.70,347.06 L197.76,346.79 L199.83,346.48 L201.89,346.14 L203.96,345.80 L206.02,345.45 L208.09,345.09 L210.15,344.73 L212.21,344.37 L214.28,344.00 L216.34,343.62 L218.41,343.24 L220.47,342.85 L222.54,342.46 L224.60,342.06 L226.66,341.66 L228.73,341.25 L230.79,340.84 L232.86,340.42 L234.92,339.99 L236.99,339.55 L239.05,339.12 L241.11,338.67 L243.18,338.22 L245.24,337.76 L247.31,337.29 L249.37,336.82 L251.44,336.34 L253.50,335.85 L255.56,335.36 L257.63,334.86 L259.69,334.35 L261.76,333.84 L263.82,333.31 L265.89,332.78 L267.95,332.25 L270.01,331.70 L272.08,331.15 L274.14,330.59 L276.21,330.00 L278.27,329.37 L280.34,328.72 L282.40,328.05 L284.46,327.35 L286.53,326.63 L288.59,325.89 L290.66,325.14 L292.72,324.37 L294.79,323.60 L296.85,322.81 L298.91,322.02 L300.98,321.23 L303.04,320.43 L305.11,319.64 L307.17,318.85 L309.24,318.06 L311.30,317.25 L313.36,316.33 L315.43,315.34 L317.49,314.27 L319.56,313.18 L321.62,312.07 L323.69,310.98 L325.75,309.92 L327.81,308.93 L329.88,308.02 L331.94,307.22 L334.01,306.55 L336.07,306.03 L338.14,305.69 L340.20,305.55 L342.26,305.48 L344.33,305.45 L346.39,305.42 L348.46,305.35 L350.52,304.42 L352.59,302.44 L354.65,300.23 L356.71,298.63 L358.78,297.60 L360.84,296.67 L362.91,295.82 L364.97,295.04 L367.04,294.32 L369.10,293.64 L371.16,292.99 L373.23,292.35 L375.29,291.71 L377.36,291.07 L379.42,290.40 L381.49,289.72 L383.55,288.83 L385.61,287.96 L387.68,287.11 L389.74,286.26 L391.81,285.40 L393.87,284.52 L395.94,283.62 L398.00,282.69 L400.06,281.76 L402.13,280.99 L404.19,280.15 L406.26,279.27 L408.32,278.36 L410.39,277.44 L412.45,276.53 L414.51,275.65 L416.58,275.01 L418.64,274.39 L420.71,273.77 L422.77,273.13 L424.84,272.46 L426.90,271.76 L428.96,271.08 L431.03,270.38 L433.09,269.65 L435.16,268.91 L437.22,268.14 L439.29,267.35 L441.35,266.53 L443.41,265.68 L445.48,264.80 L447.54,263.89 L449.61,262.96 L451.67,262.00 L453.74,261.02 L455.80,260.02 L457.86,258.99 L459.93,257.94 L461.99,256.88 L464.06,255.81 L466.12,254.72 L468.19,253.62 L470.25,252.52 L472.31,251.40 L474.38,250.29 L476.44,249.17 L478.51,248.04 L480.57,246.92 L482.64,245.79 L484.70,244.66 L486.76,243.52 L488.83,242.39 L490.89,241.25 L492.96,240.11 L495.02,238.96 L497.09,237.81 L499.15,236.66 L501.21,235.51 L503.28,234.35 L505.34,233.19 L507.41,232.03 L509.47,230.86 L511.54,229.70 L513.60,228.53 L515.66,227.36 L517.73,226.19 L519.79,225.02 L521.86,223.84 L523.92,222.67 L525.99,221.49 L528.05,220.32 L530.11,219.14 L532.18,217.96 L534.24,216.78 L536.31,215.59 L538.37,214.40 L540.44,213.20 L542.50,212.00 L544.56,210.79 L546.63,209.57 L548.69,208.34 L550.76,207.10 L552.82,205.85 L554.89,204.59 L556.95,203.31 L559.01,202.01 L561.08,200.70 L563.14,199.38 L565.21,198.03 L567.27,196.68 L569.34,195.30 L571.40,193.91 L573.46,192.51 L575.53,191.09 L577.59,189.66 L579.66,188.22 L581.72,186.76 L583.79,185.30 L585.85,183.84 L587.91,182.37 L589.98,180.89 L592.04,179.41 L594.11,177.94 L596.17,176.46 L598.24,174.98 L600.30,173.51 L602.36,172.04 L604.43,170.57 L606.49,169.11 L608.56,167.65 L610.62,166.19 L612.69,164.74 L614.75,163.29 L616.81,161.84 L618.88,160.39 L620.94,158.95 L623.01,157.51 L625.07,156.07 L627.14,154.63 L629.20,153.20 L631.26,151.77 L633.33,150.34 L635.39,148.91 L637.46,147.48 L639.52,146.06 L641.59,144.64 L643.65,143.22 L645.71,141.80 L647.78,140.39 L649.84,138.97 L651.91,137.56 L653.97,136.15 L656.04,134.75 L658.10,133.34 L660.16,131.94 L662.23,130.54 L664.29,129.14 L666.36,127.74 L668.42,126.35 L670.49,124.95 L672.55,123.55 L674.61,122.16 L676.68,120.77 L678.74,119.37 L680.81,117.98 L682.87,116.58 L684.94,115.19 L687.00,113.79" fill="none" stroke="#3a93a8" stroke-width="1.4"/></g>
</g>
<g>

</g>
<path d="M109.00,365.93 L111.06,365.88 L113.13,365.82 L115.19,365.76 L117.26,365.67 L119.32,365.48 L121.39,365.18 L123.45,364.80 L125.51,364.37 L127.58,363.83 L129.64,363.14 L131.71,362.43 L133.77,361.80 L135.84,361.26 L137.90,360.72 L139.96,360.21 L142.03,359.71 L144.09,359.26 L146.16,358.84 L148.22,358.48 L150.29,358.19 L152.35,357.97 L154.41,357.81 L156.48,357.64 L158.54,357.41 L160.61,357.00 L162.67,356.42 L164.74,355.76 L166.80,355.09 L168.86,354.41 L170.93,353.68 L172.99,352.94 L175.06,352.26 L177.12,351.61 L179.19,350.96 L181.25,350.32 L183.31,349.70 L185.38,349.11 L187.44,348.57 L189.51,348.09 L191.57,347.67 L193.64,347.34 L195.70,347.06 L197.76,346.79 L199.83,346.48 L201.89,346.14 L203.96,345.80 L206.02,345.45 L208.09,345.09 L210.15,344.73 L212.21,344.37 L214.28,344.00 L216.34,343.62 L218.41,343.24 L220.47,342.85 L222.54,342.46 L224.60,342.06 L226.66,341.66 L228.73,341.25 L230.79,340.84 L232.86,340.42 L234.92,339.99 L236.99,339.55 L239.05,339.12 L241.11,338.67 L243.18,338.22 L245.24,337.76 L247.31,337.29 L249.37,336.82 L251.44,336.34 L253.50,335.85 L255.56,335.36 L257.63,334.86 L259.69,334.35 L261.76,333.84 L263.82,333.31 L265.89,332.78 L267.95,332.25 L270.01,331.70 L272.08,331.15 L274.14,330.59 L276.21,330.00 L278.27,329.37 L280.34,328.72 L282.40,328.05 L284.46,327.35 L286.53,326.63 L288.59,325.89 L290.66,325.14 L292.72,324.37 L294.79,323.60 L296.85,322.81 L298.91,322.02 L300.98,321.23 L303.04,320.43 L305.11,319.64 L307.17,318.85 L309.24,318.06 L311.30,317.25 L313.36,316.33 L315.43,315.34 L317.49,314.27 L319.56,313.18 L321.62,312.07 L323.69,310.98 L325.75,309.92 L327.81,308.93 L329.88,308.02 L331.94,307.22 L334.01,306.55 L336.07,306.03 L338.14,305.69 L340.20,305.55 L342.26,305.48 L344.33,305.45 L346.39,305.42 L348.46,305.35 L350.52,304.42 L352.59,302.44 L354.65,300.23 L356.71,298.63 L358.78,297.60 L360.84,296.67 L362.91,295.82 L364.97,295.04 L367.04,294.32 L369.10,293.64 L371.16,292.99 L373.23,292.35 L375.29,291.71 L377.36,291.07 L379.42,290.40 L381.49,289.72 L383.55,288.83 L385.61,287.96 L387.68,287.11 L389.74,286.26 L391.81,285.40 L393.87,284.52 L395.94,283.62 L398.00,282.69 L400.06,281.76 L402.13,280.99 L404.19,280.15 L406.26,279.27 L408.32,278.36 L410.39,277.44 L412.45,276.53 L414.51,275.65 L416.58,275.01 L418.64,274.39 L420.71,273.77 L422.77,273.13 L424.84,272.46 L426.90,271.76 L428.96,271.08 L431.03,270.38 L433.09,269.65 L435.16,268.91 L437.22,268.14 L439.29,267.35 L441.35,266.53 L443.41,265.68 L445.48,264.80 L447.54,263.89 L449.61,262.96 L451.67,262.00 L453.74,261.02 L455.80,260.02 L457.86,258.99 L459.93,257.94 L461.99,256.88 L464.06,255.81 L466.12,254.72 L468.19,253.62 L470.25,252.52 L472.31,251.40 L474.38,250.29 L476.44,249.17 L478.51,248.04 L480.57,246.92 L482.64,245.79 L484.70,244.66 L486.76,243.52 L488.83,242.39 L490.89,241.25 L492.96,240.11 L495.02,238.96 L497.09,237.81 L499.15,236.66 L501.21,235.51 L503.28,234.35 L505.34,233.19 L507.41,232.03 L509.47,230.86 L511.54,229.70 L513.60,228.53 L515.66,227.36 L517.73,226.19 L519.79,225.02 L521.86,223.84 L523.92,222.67 L525.99,221.49 L528.05,220.32 L530.11,219.14 L532.18,217.96 L534.24,216.78 L536.31,215.59 L538.37,214.40 L540.44,213.20 L542.50,212.00 L544.56,210.79 L546.63,209.57 L548.69,208.34 L550.76,207.10 L552.82,205.85 L554.89,204.59 L556.95,203.31 L559.01,202.01 L561.08,200.70 L563.14,199.38 L565.21,198.03 L567.27,196.68 L569.34,195.30 L571.40,193.91 L573.46,192.51 L575.53,191.09 L577.59,189.66 L579.66,188.22 L581.72,186.76 L583.79,185.30 L585.85,183.84 L587.91,182.37 L589.98,180.89 L592.04,179.41 L594.11,177.94 L596.17,176.46 L598.24,174.98 L600.30,173.51 L602.36,172.04 L604.43,170.57 L606.49,169.11 L608.56,167.65 L610.62,166.19 L612.69,164.74 L614.75,163.29 L616.81,161.84 L618.88,160.39 L620.94,158.95 L623.01,157.51 L625.07,156.07 L627.14,154.63 L629.20,153.20 L631.26,151.77 L633.33,150.34 L635.39,148.91 L637.46,147.48 L639.52,146.06 L641.59,144.64 L643.65,143.22 L645.71,141.80 L647.78,140.39 L649.84,138.97 L651.91,137.56 L653.97,136.15 L656.04,134.75 L658.10,133.34 L660.16,131.94 L662.23,130.54 L664.29,129.14 L666.36,127.74 L668.42,126.35 L670.49,124.95 L672.55,123.55 L674.61,122.16 L676.68,120.77 L678.74,119.37 L680.81,117.98 L682.87,116.58 L684.94,115.19 L687.00,113.79" fill="none" stroke="#ffffff" stroke-width="1.8" opacity="0.9" transform="translate(0,-1.3)"/>
<line x1="415" y1="95" x2="415" y2="408" stroke="#ffffff" stroke-width="1.2" opacity="0.2" clip-path="url(#cl)"/>
<g clip-path="url(#cl)">
<g stroke="#ffffff" stroke-width="1.2" opacity="0.22">
<line x1="109" y1="151.5" x2="687" y2="151.5"/>
<line x1="109" y1="202.8" x2="687" y2="202.8"/>
<line x1="109" y1="254.1" x2="687" y2="254.1"/>
<line x1="109" y1="305.4" x2="687" y2="305.4"/>
<line x1="109" y1="356.7" x2="687" y2="356.7"/>
</g>
<g stroke="#808080" stroke-width="1.1" stroke-dasharray="1.8 4.5" opacity="0.3">
<line x1="191.6" y1="101" x2="191.6" y2="412"/>
<line x1="274.2" y1="101" x2="274.2" y2="412"/>
<line x1="356.8" y1="101" x2="356.8" y2="412"/>
<line x1="439.4" y1="101" x2="439.4" y2="412"/>
<line x1="522" y1="101" x2="522" y2="412"/>
<line x1="604.6" y1="101" x2="604.6" y2="412"/>
</g>
</g>
<line x1="101" y1="408.5" x2="693" y2="408.5" stroke="#d2d0ce" stroke-width="1.5"/>
<!-- y labels -->
<g font-size="17" fill="#8c8a88" text-anchor="end">
<text x="93.5" y="106.5" textLength="14.4" lengthAdjust="spacingAndGlyphs">60</text>
<text x="93.5" y="157.8" textLength="14.4" lengthAdjust="spacingAndGlyphs">50</text>
<text x="93.5" y="209.1" textLength="14.4" lengthAdjust="spacingAndGlyphs">40</text>
<text x="93.5" y="260.4" textLength="14.4" lengthAdjust="spacingAndGlyphs">30</text>
<text x="93.5" y="311.7" textLength="14.4" lengthAdjust="spacingAndGlyphs">20</text>
<text x="93.5" y="363" textLength="14.4" lengthAdjust="spacingAndGlyphs">10</text>
<text x="93.5" y="414.3" textLength="7" lengthAdjust="spacingAndGlyphs">0</text>
</g>
<g font-size="16.5" fill="#111" stroke="#111" stroke-width="0.4" text-anchor="middle">
<text x="108.3" y="434.7" textLength="29.3" lengthAdjust="spacingAndGlyphs">1980</text>
<text x="191" y="434.7" textLength="29.3" lengthAdjust="spacingAndGlyphs">1990</text>
<text x="273.6" y="434.7" textLength="29.3" lengthAdjust="spacingAndGlyphs">2000</text>
<text x="356.2" y="434.7" textLength="29.3" lengthAdjust="spacingAndGlyphs">2010</text>
<text x="438.8" y="434.7" textLength="29.3" lengthAdjust="spacingAndGlyphs">2020</text>
<text x="521.4" y="434.7" textLength="29.3" lengthAdjust="spacingAndGlyphs">2030</text>
<text x="604" y="434.7" textLength="29.3" lengthAdjust="spacingAndGlyphs">2040</text>
<text x="686.6" y="434.7" textLength="29.3" lengthAdjust="spacingAndGlyphs">2050</text>
</g>
<!-- legend -->
<rect x="710.5" y="102.7" width="22.5" height="11.8" fill="#1aa3e0"/>
<rect x="710.5" y="131.9" width="22.5" height="11.8" fill="#c9e5f6"/>
<rect x="710.5" y="161.1" width="22.5" height="11.8" fill="#fcd20f"/>
<rect x="710.5" y="190.3" width="22.5" height="11.8" fill="#f08a2c"/>
<rect x="710.5" y="219.5" width="22.5" height="11.8" fill="#0c56a4"/>
<rect x="710.5" y="248.7" width="22.5" height="11.8" fill="#5cb04c"/>
<rect x="710.5" y="277.9" width="22.5" height="11.8" fill="#a79fcf"/>
<rect x="710.5" y="307.1" width="22.5" height="11.8" fill="#6a55a8"/>
<rect x="710.5" y="336.3" width="22.5" height="11.8" fill="#877e7c"/>
<rect x="710.5" y="365.5" width="22.5" height="11.8" fill="#c8202e"/>
<rect x="710.5" y="394.7" width="22.5" height="11.8" fill="#17161a"/>
<g font-size="16.6" fill="#111" stroke="#111" stroke-width="0.4">
<text x="745" y="116.0" textLength="80.5" lengthAdjust="spacingAndGlyphs">Offshore wind</text>
<text x="745" y="145.0" textLength="80.5" lengthAdjust="spacingAndGlyphs">Onshore wind</text>
<text x="745" y="174.0" textLength="47.5" lengthAdjust="spacingAndGlyphs">Solar PV</text>
<text x="745" y="203.0" textLength="76.9" lengthAdjust="spacingAndGlyphs">Solar thermal</text>
<text x="745" y="232.0" textLength="73.3" lengthAdjust="spacingAndGlyphs">Hydropower</text>
<text x="745" y="261.0" textLength="78.3" lengthAdjust="spacingAndGlyphs">Biomass-fired</text>
<text x="745" y="290.0" textLength="69.0" lengthAdjust="spacingAndGlyphs">Geothermal</text>
<text x="745" y="319.0" textLength="44.5" lengthAdjust="spacingAndGlyphs">Nuclear</text>
<text x="745" y="348.0" textLength="51.7" lengthAdjust="spacingAndGlyphs">Gas-fired</text>
<text x="745" y="377.0" textLength="46.6" lengthAdjust="spacingAndGlyphs">Oil-fired</text>
<text x="745" y="406.0" textLength="55.3" lengthAdjust="spacingAndGlyphs">Coal-fired</text>
</g>
<!-- source -->
<g font-size="14.5" fill="#2a2a2a" stroke="#2a2a2a" stroke-width="0.1">
<text x="6.7" y="481.3" textLength="86.6" lengthAdjust="spacingAndGlyphs">Source : DNV GL</text>
<text x="109" y="481.3" textLength="165" lengthAdjust="spacingAndGlyphs">Energy Transition Outlook 2019</text>
</g>
<g fill="none" stroke="#333" stroke-width="1.1">
<path d="M102,470.5 L99,476 L102,481.5 M105,470.5 L102,476 L105,481.5"/>
<path d="M279,470.5 L282,476 L279,481.5 M282,470.5 L285,476 L282,481.5"/>
</g>
<!-- watermark -->
<g fill="none" stroke="#333" stroke-width="0.9" opacity="0.85">
<path d="M755.5,449 Q746,448 742,454 Q740,459 744,463 L745.5,466 L748.5,464.5 Q751,465.5 754,465.5"/>
<circle cx="748.5" cy="449.5" r="0.7" fill="#333"/>
<circle cx="758.5" cy="449.5" r="0.7" fill="#333"/>
<path d="M764.5,452.5 Q756,453 754.5,459.5 Q754.5,466 761,468.5 Q766,470 770.5,469 L774,472.5 L773,467.5 Q776,464 775.5,460 Q774.5,453 764.5,452.5 Z" fill="#fbfbfb"/>
<circle cx="761.5" cy="458" r="0.8" fill="#333"/>
<circle cx="769" cy="458" r="0.8" fill="#999" stroke="none"/>
</g>
<g fill="none" stroke="#3a3a3a" stroke-width="1.15" stroke-linecap="round" stroke-linejoin="round">
<!-- g1 -->
<path d="M795,451.5 L795,458.5 M788.5,453 L790.5,457 M802,452.5 L799.5,457 M785.5,459.5 L804.5,459.5 M792,459.5 Q792,467.5 785.5,470.5 M798,459.5 L798,469 Q798,470.5 800,470.5 L804,470.5 L804,468"/>
<!-- g2 -->
<path d="M812,451 Q810,456.5 806.5,460 M809.8,456 L809.8,471 M813.5,458 L828,458 M820.5,451 L820.5,458 Q819.5,466 812.5,471 M821,460 Q824,467 829,470.5 M824,452.5 L826,454.5"/>
<!-- g3 -->
<path d="M830,456 L836.5,456 M833.8,451 L833.8,469.5 Q833.5,471 831.5,470 M830,464.5 L837,461.5 M838,455 L850,455 M844,451 L844,459 M839,459 L849,459 Q846,467 838.5,471 M841,462 Q845,468 851,471"/>
<!-- g4 -->
<path d="M853,456.5 L871,456.5 M862,451 L862,471 M861,457.5 Q858,465 853,469.5 M863,457.5 Q866,464 871,468.5 M866,452 L868,454"/>
</g>
<circle cx="904" cy="482" r="7" fill="#a8a8a8"/>
</svg>
</body></html>
